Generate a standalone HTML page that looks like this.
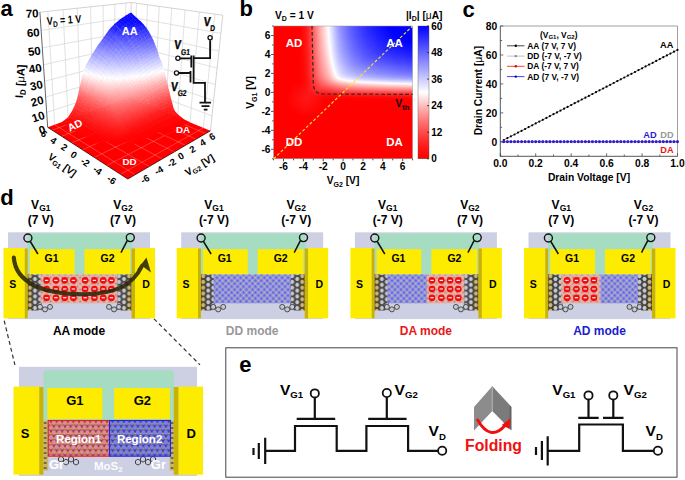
<!DOCTYPE html>
<html><head><meta charset="utf-8"><style>
html,body{margin:0;padding:0;background:#fff;width:685px;height:480px;overflow:hidden}
svg{display:block}
text{font-family:"Liberation Sans",sans-serif}
</style></head><body>
<svg width="685" height="480" viewBox="0 0 685 480" font-family="Liberation Sans, sans-serif">
<defs><pattern id="pk" width="4.2" height="4.2" patternUnits="userSpaceOnUse" patternTransform="rotate(45)"><rect width="4.2" height="4.2" fill="#e2b0b0"/><rect width="2.1" height="2.1" fill="#c98c8c"/><circle cx="3.15" cy="3.15" r="0.8" fill="#ecc462"/></pattern><pattern id="bl" width="4.2" height="4.2" patternUnits="userSpaceOnUse" patternTransform="rotate(45)"><rect width="4.2" height="4.2" fill="#9494e6"/><rect width="2.1" height="2.1" fill="#6666d8"/><circle cx="3.15" cy="3.15" r="0.85" fill="#bcc48c"/></pattern><pattern id="gr" width="10" height="5.8" patternUnits="userSpaceOnUse" patternTransform="translate(0 0.6)"><rect width="10" height="5.8" fill="#444"/><circle cx="2.5" cy="2.9" r="2.55" fill="#c8c8d0" stroke="#1a1a1a" stroke-width="0.7"/><circle cx="7.5" cy="0" r="2.55" fill="#c8c8d0" stroke="#1a1a1a" stroke-width="0.7"/><circle cx="7.5" cy="5.8" r="2.55" fill="#c8c8d0" stroke="#1a1a1a" stroke-width="0.7"/></pattern><pattern id="grb" width="10" height="5.8" patternUnits="userSpaceOnUse" patternTransform="translate(0 0.6)"><rect width="10" height="5.8" fill="#5a4a20"/><circle cx="2.5" cy="2.9" r="2.55" fill="#cdb676" stroke="#1a1a1a" stroke-width="0.7"/><circle cx="7.5" cy="0" r="2.55" fill="#cdb676" stroke="#1a1a1a" stroke-width="0.7"/><circle cx="7.5" cy="5.8" r="2.55" fill="#cdb676" stroke="#1a1a1a" stroke-width="0.7"/></pattern><pattern id="pk2" width="5.6" height="9.7" patternUnits="userSpaceOnUse" x="48.2" y="420.5"><rect width="5.6" height="9.7" fill="#8a3444"/><circle cx="0" cy="2.42" r="2.35" fill="#dc8c9c"/><circle cx="5.6" cy="2.42" r="2.35" fill="#dc8c9c"/><circle cx="2.8" cy="7.27" r="2.35" fill="#dc8c9c"/><circle cx="2.8" cy="3.6" r="0.9" fill="#f0b424"/><circle cx="0" cy="8.45" r="0.9" fill="#f0b424"/><circle cx="5.6" cy="8.45" r="0.9" fill="#f0b424"/></pattern><pattern id="bl2" width="5.6" height="9.7" patternUnits="userSpaceOnUse" x="48.2" y="420.5"><rect width="5.6" height="9.7" fill="#3434a4"/><circle cx="0" cy="2.42" r="2.35" fill="#8080e2"/><circle cx="5.6" cy="2.42" r="2.35" fill="#8080e2"/><circle cx="2.8" cy="7.27" r="2.35" fill="#8080e2"/><circle cx="2.8" cy="3.6" r="0.9" fill="#b4bc50"/><circle cx="0" cy="8.45" r="0.9" fill="#b4bc50"/><circle cx="5.6" cy="8.45" r="0.9" fill="#b4bc50"/></pattern></defs>
<text x="0.5" y="16.3" font-size="22" font-weight="bold" text-anchor="start" fill="#000">a</text>
<text x="239.5" y="16.2" font-size="22" font-weight="bold" text-anchor="start" fill="#000">b</text>
<text x="462.5" y="16.5" font-size="22" font-weight="bold" text-anchor="start" fill="#000">c</text>
<text x="0.3" y="204.7" font-size="22" font-weight="bold" text-anchor="start" fill="#000">d</text>
<text x="239.2" y="372.2" font-size="22" font-weight="bold" text-anchor="start" fill="#000">e</text>
<polygon points="47.7,127.3 129.4,97.5 131.2,2.5 39.9,12.2" fill="#ffffff"/>
<polygon points="129.4,97.5 210.4,130.8 222.8,15.2 131.2,2.5" fill="#ffffff"/>
<line x1="54.7" y1="124.8" x2="47.9" y2="11.3" stroke="#d4d4d4" stroke-width="0.7"/>
<line x1="68.1" y1="119.9" x2="63.1" y2="9.7" stroke="#d4d4d4" stroke-width="0.7"/>
<line x1="80.7" y1="115.3" x2="77.3" y2="8.2" stroke="#d4d4d4" stroke-width="0.7"/>
<line x1="92.6" y1="110.9" x2="90.6" y2="6.8" stroke="#d4d4d4" stroke-width="0.7"/>
<line x1="103.9" y1="106.9" x2="103.1" y2="5.5" stroke="#d4d4d4" stroke-width="0.7"/>
<line x1="114.5" y1="103" x2="114.8" y2="4.2" stroke="#d4d4d4" stroke-width="0.7"/>
<line x1="124.5" y1="99.3" x2="125.9" y2="3.1" stroke="#d4d4d4" stroke-width="0.7"/>
<line x1="46.7" y1="112.5" x2="129.6" y2="85" stroke="#d4d4d4" stroke-width="0.7"/>
<line x1="45.6" y1="97.1" x2="129.9" y2="72.2" stroke="#d4d4d4" stroke-width="0.7"/>
<line x1="44.6" y1="81.2" x2="130.1" y2="59" stroke="#d4d4d4" stroke-width="0.7"/>
<line x1="43.4" y1="64.8" x2="130.4" y2="45.4" stroke="#d4d4d4" stroke-width="0.7"/>
<line x1="42.3" y1="47.9" x2="130.6" y2="31.5" stroke="#d4d4d4" stroke-width="0.7"/>
<line x1="41.1" y1="30.4" x2="130.9" y2="17.2" stroke="#d4d4d4" stroke-width="0.7"/>
<line x1="203.4" y1="127.9" x2="214.7" y2="14.1" stroke="#d4d4d4" stroke-width="0.7"/>
<line x1="190" y1="122.4" x2="199.4" y2="12" stroke="#d4d4d4" stroke-width="0.7"/>
<line x1="177.5" y1="117.3" x2="185.1" y2="10" stroke="#d4d4d4" stroke-width="0.7"/>
<line x1="165.7" y1="112.4" x2="171.7" y2="8.1" stroke="#d4d4d4" stroke-width="0.7"/>
<line x1="154.6" y1="107.9" x2="159.2" y2="6.4" stroke="#d4d4d4" stroke-width="0.7"/>
<line x1="144.1" y1="103.6" x2="147.5" y2="4.8" stroke="#d4d4d4" stroke-width="0.7"/>
<line x1="134.1" y1="99.5" x2="136.5" y2="3.2" stroke="#d4d4d4" stroke-width="0.7"/>
<line x1="129.6" y1="85" x2="212" y2="115.9" stroke="#d4d4d4" stroke-width="0.7"/>
<line x1="129.9" y1="72.2" x2="213.6" y2="100.5" stroke="#d4d4d4" stroke-width="0.7"/>
<line x1="130.1" y1="59" x2="215.3" y2="84.5" stroke="#d4d4d4" stroke-width="0.7"/>
<line x1="130.4" y1="45.4" x2="217.1" y2="68.1" stroke="#d4d4d4" stroke-width="0.7"/>
<line x1="130.6" y1="31.5" x2="218.9" y2="51.1" stroke="#d4d4d4" stroke-width="0.7"/>
<line x1="130.9" y1="17.2" x2="220.8" y2="33.4" stroke="#d4d4d4" stroke-width="0.7"/>
<line x1="39.9" y1="12.2" x2="131.2" y2="2.5" stroke="#c8c8c8" stroke-width="0.8"/>
<line x1="131.2" y1="2.5" x2="222.8" y2="15.2" stroke="#c8c8c8" stroke-width="0.8"/>
<line x1="129.4" y1="97.5" x2="131.2" y2="2.5" stroke="#c8c8c8" stroke-width="0.8"/>
<line x1="39.9" y1="12.2" x2="47.7" y2="127.3" stroke="#555555" stroke-width="0.9"/>
<line x1="222.8" y1="15.2" x2="210.4" y2="130.8" stroke="#c8c8c8" stroke-width="0.8"/>
<polygon points="47.7,127.3 127.8,179 210.4,130.8 129.4,97.5" fill="#ff0000"/>
<path d="M135.2 174.7L54.7 124.8M120.5 174.3L203.4 127.9M149.3 166.5L68.1 119.9M106.9 165.5L190 122.4M162.3 158.9L80.7 115.3M94.2 157.4L177.5 117.3M174.3 151.8L92.6 110.9M82.6 149.8L165.7 112.4M185.5 145.3L103.9 106.9M71.7 142.8L154.6 107.9M196 139.2L114.5 103M61.6 136.3L144.1 103.6M205.7 133.5L124.5 99.3M52.2 130.2L134.1 99.5" stroke="#ffffff" stroke-opacity="0.33" stroke-width="0.7"/>
<g transform="scale(0.1)">
<path d="M1297 155L1326 140L1311 126L1282 141z" fill="#0909ff"/>
<path d="M1269 171L1301 152L1287 138L1254 158z" fill="#0a0aff"/>
<path d="M1338 190L1364 175L1322 137L1296 151z" fill="#0909ff"/>
<path d="M1309 206L1340 188L1298 149L1267 168z" fill="#0a0aff"/>
<path d="M1239 191L1273 168L1259 155L1225 178z" fill="#0a0aff"/>
<path d="M1375 225L1401 210L1361 172L1334 186z" fill="#0909ff"/>
<path d="M1215 208L1244 188L1229 174L1200 195z" fill="#0b0bff"/>
<path d="M1279 226L1312 204L1270 166L1238 188z" fill="#0b0bff"/>
<path d="M1347 241L1377 223L1336 184L1306 203z" fill="#0a0aff"/>
<path d="M1388 239L1417 224L1400 206L1371 222z" fill="#0909ff"/>
<path d="M1192 226L1219 205L1204 191L1177 212z" fill="#0b0bff"/>
<path d="M1255 243L1282 224L1240 185L1213 205z" fill="#0b0bff"/>
<path d="M1409 260L1437 245L1414 221L1386 236z" fill="#1111ff"/>
<path d="M1360 255L1392 236L1375 219L1343 239z" fill="#1010ff"/>
<path d="M1317 261L1349 239L1308 201L1276 222z" fill="#0d0dff"/>
<path d="M1159 254L1196 222L1182 209L1145 241z" fill="#0f0fff"/>
<path d="M1232 260L1257 241L1215 203L1190 222z" fill="#0e0eff"/>
<path d="M1437 293L1464 279L1434 241L1407 256z" fill="#1f1fff"/>
<path d="M1381 276L1412 257L1390 233L1358 252z" fill="#1818ff"/>
<path d="M1293 278L1319 259L1278 220L1252 239z" fill="#1515ff"/>
<path d="M1330 275L1364 252L1347 236L1313 258z" fill="#1818ff"/>
<path d="M1440 300L1470 285L1464 276L1434 291z" fill="#2929ff"/>
<path d="M1155 260L1164 252L1147 237L1138 246z" fill="#1717ff"/>
<path d="M1199 288L1235 258L1193 220L1158 251z" fill="#1919ff"/>
<path d="M1409 310L1440 291L1409 254L1378 272z" fill="#2525ff"/>
<path d="M1458 326L1486 312L1467 282L1439 297z" fill="#3131ff"/>
<path d="M1351 295L1384 273L1362 250L1328 272z" fill="#2020ff"/>
<path d="M1120 294L1157 256L1142 244L1105 281z" fill="#2121ff"/>
<path d="M1270 295L1295 276L1254 237L1229 257z" fill="#1d1dff"/>
<path d="M1306 292L1334 272L1317 255L1289 275z" fill="#2020ff"/>
<path d="M1412 316L1445 297L1439 288L1406 307z" fill="#2e2eff"/>
<path d="M1194 294L1202 287L1159 249L1151 256z" fill="#2121ff"/>
<path d="M1477 358L1505 344L1484 308L1456 322z" fill="#3f3fff"/>
<path d="M1430 342L1462 324L1443 295L1411 314z" fill="#3737ff"/>
<path d="M1379 329L1412 307L1381 270L1349 292z" fill="#2d2dff"/>
<path d="M1327 312L1355 293L1332 269L1304 289z" fill="#2828ff"/>
<path d="M1104 314L1124 290L1108 277L1088 301z" fill="#2e2eff"/>
<path d="M1159 328L1195 292L1154 255L1118 291z" fill="#2a2aff"/>
<path d="M1494 390L1521 376L1502 340L1475 354z" fill="#4e4eff"/>
<path d="M1237 323L1272 292L1231 255L1196 285z" fill="#2727ff"/>
<path d="M1283 309L1310 289L1293 272L1266 292z" fill="#2828ff"/>
<path d="M1095 327L1107 311L1091 297L1079 313z" fill="#3636ff"/>
<path d="M1449 374L1480 356L1459 320L1428 339z" fill="#4444ff"/>
<path d="M1493 391L1523 376L1521 373L1492 388z" fill="#5757ff"/>
<path d="M1383 335L1417 313L1411 304L1377 327z" fill="#3636ff"/>
<path d="M1508 422L1536 407L1521 374L1493 388z" fill="#5e5eff"/>
<path d="M1304 330L1330 310L1307 286L1281 306z" fill="#2f2fff"/>
<path d="M1355 346L1382 327L1352 289L1324 308z" fill="#3434ff"/>
<path d="M1231 328L1239 321L1197 283L1190 290z" fill="#2f2fff"/>
<path d="M1401 361L1434 340L1415 311L1382 333z" fill="#3e3eff"/>
<path d="M1143 348L1162 325L1120 288L1101 311z" fill="#3737ff"/>
<path d="M1071 359L1097 322L1082 310L1056 347z" fill="#4141ff"/>
<path d="M1466 406L1497 388L1478 352L1447 370z" fill="#5353ff"/>
<path d="M1250 336L1287 305L1270 289L1233 321z" fill="#3232ff"/>
<path d="M1521 453L1549 439L1534 403L1506 417z" fill="#6d6dff"/>
<path d="M1134 360L1145 346L1102 309L1092 323z" fill="#3f3fff"/>
<path d="M1465 407L1498 388L1497 386L1464 405z" fill="#5c5cff"/>
<path d="M1359 352L1388 332L1381 323L1352 344z" fill="#3d3dff"/>
<path d="M1420 393L1453 372L1432 337L1399 358z" fill="#4b4bff"/>
<path d="M1197 362L1233 326L1192 289L1156 325z" fill="#3838ff"/>
<path d="M1332 363L1358 344L1327 306L1301 326z" fill="#3c3cff"/>
<path d="M1534 484L1561 470L1547 435L1520 449z" fill="#7d7dff"/>
<path d="M1480 437L1512 420L1496 387L1465 405z" fill="#6363ff"/>
<path d="M1047 392L1074 355L1059 343L1033 380z" fill="#5050ff"/>
<path d="M1271 357L1307 326L1285 303L1248 334z" fill="#3939ff"/>
<path d="M1246 343L1254 335L1235 317L1227 325z" fill="#3939ff"/>
<path d="M1376 378L1404 359L1385 330L1357 349z" fill="#4545ff"/>
<path d="M1110 392L1136 357L1094 321L1069 356z" fill="#4a4aff"/>
<path d="M1544 515L1572 501L1559 466L1532 480z" fill="#8c8cff"/>
<path d="M1437 425L1470 404L1450 369L1417 389z" fill="#5a5aff"/>
<path d="M1048 394L1051 390L1033 376L1031 379z" fill="#5959ff"/>
<path d="M1494 469L1525 451L1510 416L1479 433z" fill="#7272ff"/>
<path d="M1336 370L1363 349L1357 340L1329 361z" fill="#4444ff"/>
<path d="M1546 523L1575 508L1571 498L1542 512z" fill="#9797ff"/>
<path d="M1181 381L1199 359L1158 322L1139 344z" fill="#4545ff"/>
<path d="M1266 363L1274 355L1250 331L1242 338z" fill="#4141ff"/>
<path d="M1396 410L1423 391L1402 355L1374 374z" fill="#5252ff"/>
<path d="M1436 426L1470 404L1469 402L1435 423z" fill="#6363ff"/>
<path d="M1210 375L1247 339L1231 323L1194 360z" fill="#4242ff"/>
<path d="M1554 545L1582 531L1573 506L1545 520z" fill="#9e9eff"/>
<path d="M1023 425L1049 390L1034 378L1008 413z" fill="#6060ff"/>
<path d="M1299 390L1335 360L1305 324L1269 354z" fill="#4545ff"/>
<path d="M1506 500L1537 482L1523 447L1492 465z" fill="#8181ff"/>
<path d="M1354 395L1380 376L1361 347L1335 366z" fill="#4c4cff"/>
<path d="M1087 424L1113 389L1071 353L1045 389z" fill="#5959ff"/>
<path d="M1451 456L1484 435L1469 403L1436 423z" fill="#6a6aff"/>
<path d="M1171 393L1182 380L1141 342L1130 356z" fill="#4d4dff"/>
<path d="M1564 576L1592 563L1580 527L1552 541z" fill="#acacff"/>
<path d="M1517 530L1548 513L1536 478L1504 496z" fill="#9191ff"/>
<path d="M1413 441L1440 423L1421 387L1393 406z" fill="#6161ff"/>
<path d="M1231 395L1268 359L1245 337L1209 373z" fill="#4949ff"/>
<path d="M1086 426L1088 423L1046 387L1044 390z" fill="#6161ff"/>
<path d="M1464 487L1497 467L1482 432L1449 452z" fill="#7878ff"/>
<path d="M1303 396L1340 366L1334 357L1297 388z" fill="#4e4eff"/>
<path d="M1576 608L1604 594L1590 559L1563 572z" fill="#bdbdff"/>
<path d="M1373 426L1399 408L1377 372L1351 391z" fill="#5959ff"/>
<path d="M1294 395L1302 389L1270 351L1263 358z" fill="#4c4cff"/>
<path d="M1518 538L1551 520L1547 510L1515 528z" fill="#9b9bff"/>
<path d="M1194 395L1214 372L1197 356L1177 379z" fill="#4e4eff"/>
<path d="M999 458L1026 420L1012 409L985 446z" fill="#7070ff"/>
<path d="M1147 425L1173 391L1132 354L1107 389z" fill="#5757ff"/>
<path d="M1412 442L1441 422L1440 420L1410 440z" fill="#6969ff"/>
<path d="M1526 560L1558 543L1549 518L1518 536z" fill="#a2a2ff"/>
<path d="M1062 457L1087 424L1046 388L1021 422z" fill="#6969ff"/>
<path d="M1321 421L1357 392L1338 364L1302 394z" fill="#5555ff"/>
<path d="M1477 518L1510 498L1496 463L1463 483z" fill="#8787ff"/>
<path d="M1427 472L1455 454L1439 421L1411 439z" fill="#7070ff"/>
<path d="M1590 639L1617 626L1602 590L1575 603z" fill="#cdcdff"/>
<path d="M1186 407L1197 392L1179 376L1167 391z" fill="#5656ff"/>
<path d="M1537 591L1568 575L1556 540L1525 556z" fill="#b0b0ff"/>
<path d="M1298 403L1308 394L1300 384L1290 392z" fill="#5555ff"/>
<path d="M988 476L1003 454L987 442L972 463z" fill="#7c7cff"/>
<path d="M1390 458L1416 439L1396 404L1370 422z" fill="#6767ff"/>
<path d="M1215 415L1235 392L1211 369L1191 392z" fill="#5555ff"/>
<path d="M1259 428L1296 393L1265 357L1229 392z" fill="#5454ff"/>
<path d="M1488 548L1520 528L1508 494L1475 514z" fill="#9696ff"/>
<path d="M1124 457L1150 422L1109 386L1083 421z" fill="#6565ff"/>
<path d="M1599 666L1627 652L1616 622L1588 635z" fill="#dcdcff"/>
<path d="M1440 503L1468 485L1453 450L1425 468z" fill="#7e7eff"/>
<path d="M1549 622L1580 606L1566 571L1535 587z" fill="#c1c1ff"/>
<path d="M1340 452L1376 424L1355 389L1319 418z" fill="#6262ff"/>
<path d="M1389 459L1417 439L1415 436L1388 456z" fill="#7070ff"/>
<path d="M978 491L991 472L975 460L962 479z" fill="#8383ff"/>
<path d="M1038 489L1065 454L1023 419L997 455z" fill="#7777ff"/>
<path d="M1316 427L1324 420L1304 391L1296 398z" fill="#5c5cff"/>
<path d="M1161 438L1188 403L1170 388L1144 423z" fill="#6060ff"/>
<path d="M1599 669L1628 654L1626 649L1597 664z" fill="#e4e4ff"/>
<path d="M1489 556L1523 535L1520 525L1486 546z" fill="#a1a1ff"/>
<path d="M1206 427L1218 413L1194 389L1182 404z" fill="#5d5dff"/>
<path d="M1405 488L1431 470L1415 437L1389 456z" fill="#7676ff"/>
<path d="M1123 458L1125 456L1084 419L1082 422z" fill="#6e6eff"/>
<path d="M1497 578L1530 558L1522 534L1488 553z" fill="#a8a8ff"/>
<path d="M1609 700L1637 687L1626 652L1599 666z" fill="#ececff"/>
<path d="M1263 434L1301 398L1295 390L1257 426z" fill="#5d5dff"/>
<path d="M1453 533L1481 516L1466 481L1438 498z" fill="#8d8dff"/>
<path d="M1563 654L1594 638L1578 602L1547 618z" fill="#d1d1ff"/>
<path d="M955 524L980 487L965 475L941 513z" fill="#8f8fff"/>
<path d="M1243 447L1262 425L1231 389L1212 411z" fill="#6060ff"/>
<path d="M1508 608L1541 589L1529 555L1496 574z" fill="#b5b5ff"/>
<path d="M1618 731L1645 718L1635 683L1608 696z" fill="#fdfdff"/>
<path d="M1027 507L1041 487L999 452L985 472z" fill="#8484ff"/>
<path d="M1357 483L1393 455L1374 420L1338 449z" fill="#7070ff"/>
<path d="M1335 458L1343 452L1321 416L1313 422z" fill="#6969ff"/>
<path d="M1099 489L1124 456L1084 421L1059 454z" fill="#7474ff"/>
<path d="M1182 458L1208 423L1185 401L1159 436z" fill="#6767ff"/>
<path d="M1281 459L1318 424L1299 397L1262 432z" fill="#6565ff"/>
<path d="M1418 518L1444 501L1428 466L1402 484z" fill="#8484ff"/>
<path d="M1464 563L1491 546L1479 512L1451 529z" fill="#9c9cff"/>
<path d="M1137 470L1164 434L1147 419L1120 455z" fill="#6f6fff"/>
<path d="M1572 680L1603 664L1592 634L1561 650z" fill="#dfdfff"/>
<path d="M1625 760L1652 747L1643 713L1616 726z" fill="#ffebeb"/>
<path d="M1357 484L1394 455L1393 453L1355 482z" fill="#7878ff"/>
<path d="M1016 522L1028 505L986 470L974 487z" fill="#8b8bff"/>
<path d="M1234 458L1245 445L1214 409L1203 423z" fill="#6868ff"/>
<path d="M1520 639L1553 621L1539 586L1506 605z" fill="#c6c6ff"/>
<path d="M1572 683L1604 666L1603 661L1570 679z" fill="#e7e7ff"/>
<path d="M1465 571L1494 553L1491 543L1462 561z" fill="#a6a6ff"/>
<path d="M1247 454L1268 430L1261 422L1240 445z" fill="#6969ff"/>
<path d="M1632 790L1659 777L1651 743L1624 756z" fill="#ffd5d5"/>
<path d="M1431 549L1456 532L1442 497L1416 514z" fill="#9393ff"/>
<path d="M1372 513L1408 485L1392 454L1356 482z" fill="#7f7fff"/>
<path d="M935 557L958 519L944 508L920 546z" fill="#9f9fff"/>
<path d="M1138 472L1141 469L1121 452L1119 455z" fill="#7676ff"/>
<path d="M1473 593L1501 576L1493 551L1464 568z" fill="#adadff"/>
<path d="M1582 714L1613 698L1603 664L1572 681z" fill="#f0f0ff"/>
<path d="M1352 489L1360 482L1340 447L1332 453z" fill="#7777ff"/>
<path d="M1300 489L1337 455L1316 422L1279 456z" fill="#7171ff"/>
<path d="M1075 521L1102 486L1061 451L1035 487z" fill="#8484ff"/>
<path d="M1158 489L1185 454L1162 433L1135 468z" fill="#7575ff"/>
<path d="M1534 671L1566 652L1551 617L1518 636z" fill="#d6d6ff"/>
<path d="M1640 820L1667 807L1658 773L1631 786z" fill="#ffc0c0"/>
<path d="M994 554L1018 519L977 485L953 521z" fill="#9797ff"/>
<path d="M1210 489L1236 456L1205 421L1179 455z" fill="#7171ff"/>
<path d="M1265 478L1285 456L1265 429L1245 451z" fill="#6f6fff"/>
<path d="M1484 623L1512 607L1499 572L1472 589z" fill="#bbbbff"/>
<path d="M1591 745L1621 729L1612 694L1581 710z" fill="#fffdfd"/>
<path d="M1238 466L1251 450L1243 441L1230 457z" fill="#7070ff"/>
<path d="M1113 502L1139 468L1122 453L1096 487z" fill="#7d7dff"/>
<path d="M1441 579L1467 562L1454 527L1428 545z" fill="#a2a2ff"/>
<path d="M1350 490L1362 481L1360 478L1348 487z" fill="#7f7fff"/>
<path d="M929 568L938 553L922 541L913 556z" fill="#a9a9ff"/>
<path d="M1385 543L1422 516L1406 482L1370 510z" fill="#8d8dff"/>
<path d="M1647 850L1674 837L1665 803L1638 816z" fill="#ffacac"/>
<path d="M1598 774L1629 758L1620 725L1589 741z" fill="#ffe7e7"/>
<path d="M1158 491L1161 488L1136 465L1134 468z" fill="#7c7cff"/>
<path d="M1443 587L1470 568L1466 558L1439 577z" fill="#acacff"/>
<path d="M1543 697L1576 678L1565 648L1532 667z" fill="#e4e4ff"/>
<path d="M1367 519L1375 513L1358 479L1350 486z" fill="#8585ff"/>
<path d="M1648 856L1676 842L1674 834L1645 848z" fill="#ffa0a0"/>
<path d="M1497 654L1524 638L1510 603L1482 619z" fill="#cbcbff"/>
<path d="M1317 519L1354 486L1335 452L1298 486z" fill="#7f7fff"/>
<path d="M915 590L931 564L916 553L900 579z" fill="#b1b1ff"/>
<path d="M1256 489L1267 476L1247 448L1236 461z" fill="#7676ff"/>
<path d="M1064 538L1078 519L1036 484L1022 503z" fill="#8f8fff"/>
<path d="M1451 608L1477 591L1469 566L1442 584z" fill="#b2b2ff"/>
<path d="M1543 700L1577 681L1575 676L1542 695z" fill="#ebebff"/>
<path d="M1655 880L1682 867L1675 840L1647 853z" fill="#ff9696"/>
<path d="M1214 496L1241 461L1234 453L1207 488z" fill="#7979ff"/>
<path d="M1606 804L1636 788L1627 754L1597 770z" fill="#ffd2d2"/>
<path d="M1398 573L1434 546L1420 513L1383 540z" fill="#9b9bff"/>
<path d="M974 587L996 551L955 518L932 554z" fill="#a6a6ff"/>
<path d="M1284 508L1303 487L1282 453L1262 474z" fill="#7c7cff"/>
<path d="M1134 521L1159 488L1136 466L1111 500z" fill="#8484ff"/>
<path d="M1554 731L1586 713L1576 679L1543 697z" fill="#f4f4ff"/>
<path d="M1317 520L1355 486L1353 484L1316 518z" fill="#8585ff"/>
<path d="M1186 520L1213 486L1182 452L1155 486z" fill="#7f7fff"/>
<path d="M1662 910L1689 897L1680 863L1653 876z" fill="#ff8585"/>
<path d="M1380 549L1388 543L1372 507L1364 514z" fill="#9393ff"/>
<path d="M1462 638L1488 622L1475 587L1449 604z" fill="#c0c0ff"/>
<path d="M1053 553L1065 537L1024 502L1012 518z" fill="#9797ff"/>
<path d="M1089 534L1116 498L1099 483L1072 519z" fill="#8b8bff"/>
<path d="M1511 685L1538 669L1522 634L1495 650z" fill="#d9d9ff"/>
<path d="M1613 834L1644 819L1635 784L1604 800z" fill="#ffbebe"/>
<path d="M895 623L917 585L903 574L881 612z" fill="#bebeff"/>
<path d="M1232 519L1258 486L1239 460L1212 493z" fill="#8080ff"/>
<path d="M1332 548L1369 516L1353 485L1316 518z" fill="#8d8dff"/>
<path d="M1409 603L1445 576L1432 543L1396 570z" fill="#a9a9ff"/>
<path d="M1562 761L1595 743L1585 709L1552 727z" fill="#fff7f7"/>
<path d="M967 598L976 585L934 551L925 564z" fill="#b0b0ff"/>
<path d="M1275 519L1286 506L1264 472L1253 485z" fill="#8383ff"/>
<path d="M1670 940L1696 927L1688 893L1661 905z" fill="#ff7373"/>
<path d="M1621 863L1651 848L1642 815L1612 830z" fill="#ffaaaa"/>
<path d="M1186 521L1188 519L1156 484L1154 486z" fill="#8686ff"/>
<path d="M1474 669L1500 652L1486 618L1460 634z" fill="#cfcfff"/>
<path d="M1301 537L1321 517L1301 483L1281 504z" fill="#8989ff"/>
<path d="M1411 610L1448 583L1444 574L1407 601z" fill="#b3b3ff"/>
<path d="M1393 579L1401 573L1386 537L1378 544z" fill="#a1a1ff"/>
<path d="M1520 711L1547 695L1536 665L1508 681z" fill="#e8e8ff"/>
<path d="M1031 585L1055 550L1014 516L990 552z" fill="#a1a1ff"/>
<path d="M1570 790L1602 772L1593 740L1561 757z" fill="#ffe2e2"/>
<path d="M1621 869L1653 853L1651 845L1619 861z" fill="#ff9e9e"/>
<path d="M1190 526L1217 491L1211 483L1184 519z" fill="#8787ff"/>
<path d="M1677 969L1703 956L1695 923L1668 935z" fill="#ff6161"/>
<path d="M954 619L968 596L927 563L912 587z" fill="#b8b8ff"/>
<path d="M1077 551L1093 531L1074 515L1059 536z" fill="#9797ff"/>
<path d="M1419 631L1455 605L1446 582L1410 608z" fill="#b9b9ff"/>
<path d="M1109 552L1137 517L1114 496L1087 532z" fill="#9191ff"/>
<path d="M1520 714L1549 697L1547 692L1518 710z" fill="#efefff"/>
<path d="M1346 578L1383 546L1367 513L1330 546z" fill="#9a9aff"/>
<path d="M1628 893L1659 878L1652 851L1621 867z" fill="#ff9494"/>
<path d="M879 655L898 618L884 607L864 644z" fill="#cdcdff"/>
<path d="M1162 551L1187 519L1156 485L1131 518z" fill="#8e8eff"/>
<path d="M1300 539L1321 516L1320 514L1299 536z" fill="#9090ff"/>
<path d="M1251 548L1277 516L1255 483L1229 516z" fill="#8b8bff"/>
<path d="M1577 819L1610 802L1601 769L1568 786z" fill="#ffcece"/>
<path d="M1684 999L1711 987L1702 952L1675 964z" fill="#ff5050"/>
<path d="M1530 745L1558 729L1547 695L1519 711z" fill="#f8f8ff"/>
<path d="M1488 700L1514 684L1498 648L1472 665z" fill="#dedeff"/>
<path d="M1292 548L1304 536L1283 502L1272 514z" fill="#9090ff"/>
<path d="M1404 608L1412 602L1399 567L1390 573z" fill="#afafff"/>
<path d="M1208 549L1235 515L1216 490L1188 524z" fill="#8d8dff"/>
<path d="M1636 923L1666 908L1657 874L1627 889z" fill="#ff8383"/>
<path d="M1191 528L1194 525L1185 514L1182 517z" fill="#8e8eff"/>
<path d="M1430 661L1466 636L1453 602L1417 628z" fill="#c7c7ff"/>
<path d="M1067 566L1080 548L1062 533L1049 551z" fill="#9e9eff"/>
<path d="M1316 566L1336 546L1319 515L1299 535z" fill="#9797ff"/>
<path d="M934 652L955 617L914 584L893 620z" fill="#c4c4ff"/>
<path d="M1585 849L1617 832L1608 798L1576 816z" fill="#ffbaba"/>
<path d="M1692 1028L1719 1016L1709 982L1683 995z" fill="#ff4141"/>
<path d="M1405 616L1416 609L1411 597L1400 604z" fill="#b8b8ff"/>
<path d="M1358 607L1395 576L1381 543L1344 575z" fill="#a8a8ff"/>
<path d="M868 677L882 650L866 639L853 666z" fill="#dbdbff"/>
<path d="M1539 775L1566 760L1556 725L1529 741z" fill="#fff2f2"/>
<path d="M1010 617L1033 582L993 549L970 584z" fill="#b0b0ff"/>
<path d="M1291 550L1304 534L1303 532L1289 547z" fill="#9696ff"/>
<path d="M1643 953L1673 938L1665 904L1634 919z" fill="#ff7171"/>
<path d="M1098 569L1113 550L1089 528L1074 548z" fill="#9c9cff"/>
<path d="M1498 726L1524 710L1512 680L1486 696z" fill="#ededff"/>
<path d="M1413 637L1422 631L1413 605L1404 611z" fill="#bfbfff"/>
<path d="M1208 551L1210 548L1190 521L1188 523z" fill="#9494ff"/>
<path d="M1166 557L1192 524L1186 516L1159 550z" fill="#9595ff"/>
<path d="M1442 691L1478 666L1464 633L1428 658z" fill="#d6d6ff"/>
<path d="M865 687L871 674L855 662L848 675z" fill="#e3e3ff"/>
<path d="M1592 879L1625 862L1616 828L1583 845z" fill="#ffa6a6"/>
<path d="M1698 1052L1725 1040L1717 1012L1690 1024z" fill="#ff3333"/>
<path d="M1268 577L1295 545L1274 513L1248 545z" fill="#9898ff"/>
<path d="M1307 577L1319 565L1302 533L1290 546z" fill="#9d9dff"/>
<path d="M1045 598L1069 562L1052 547L1027 584z" fill="#a9a9ff"/>
<path d="M1546 804L1574 788L1564 755L1537 771z" fill="#ffdddd"/>
<path d="M1498 729L1525 711L1523 707L1496 724z" fill="#f3f3ff"/>
<path d="M1650 982L1681 967L1672 934L1642 949z" fill="#ff6060"/>
<path d="M1138 582L1164 548L1134 515L1107 550z" fill="#9b9bff"/>
<path d="M1329 595L1349 576L1333 543L1313 562z" fill="#a4a4ff"/>
<path d="M1698 1058L1726 1044L1724 1037L1696 1050z" fill="#ff2b2b"/>
<path d="M1227 577L1254 545L1232 513L1205 546z" fill="#9898ff"/>
<path d="M1369 636L1406 605L1393 573L1356 604z" fill="#b5b5ff"/>
<path d="M1593 884L1626 867L1624 859L1591 877z" fill="#ff9a9a"/>
<path d="M1087 584L1100 567L1076 545L1064 563z" fill="#a3a3ff"/>
<path d="M1424 666L1432 661L1420 626L1412 631z" fill="#ccccff"/>
<path d="M1004 628L1012 615L971 581L963 594z" fill="#babaff"/>
<path d="M917 683L936 649L895 617L876 652z" fill="#d4d4ff"/>
<path d="M851 719L866 682L851 672L836 709z" fill="#eeeeff"/>
<path d="M1508 759L1534 743L1523 710L1497 725z" fill="#fcfcff"/>
<path d="M1600 908L1632 891L1625 865L1593 882z" fill="#ff9191"/>
<path d="M1707 1088L1733 1076L1725 1042L1698 1054z" fill="#ff2323"/>
<path d="M1183 579L1209 548L1190 523L1164 555z" fill="#9b9bff"/>
<path d="M1268 578L1295 545L1293 543L1266 576z" fill="#9f9fff"/>
<path d="M1554 833L1581 818L1572 784L1545 799z" fill="#ffcaca"/>
<path d="M1658 1012L1688 998L1679 963L1649 978z" fill="#ff4f4f"/>
<path d="M1371 643L1409 612L1405 603L1368 634z" fill="#bfbfff"/>
<path d="M1456 722L1492 697L1476 663L1440 688z" fill="#e4e4ff"/>
<path d="M1320 606L1332 594L1316 560L1304 572z" fill="#aaaaff"/>
<path d="M990 649L1005 626L964 593L949 616z" fill="#c1c1ff"/>
<path d="M1608 938L1640 921L1631 888L1599 904z" fill="#ff8181"/>
<path d="M1227 579L1229 577L1207 543L1204 546z" fill="#9f9fff"/>
<path d="M1342 624L1362 605L1347 572L1327 591z" fill="#b1b1ff"/>
<path d="M1379 664L1416 633L1408 611L1370 641z" fill="#c5c5ff"/>
<path d="M1517 789L1542 774L1532 739L1506 754z" fill="#ffeded"/>
<path d="M1283 605L1310 574L1293 544L1266 576z" fill="#a5a5ff"/>
<path d="M841 749L853 714L838 704L827 739z" fill="#fdfdff"/>
<path d="M1437 696L1445 691L1430 655L1422 661z" fill="#dbdbff"/>
<path d="M1562 862L1589 848L1580 814L1552 829z" fill="#ffb6b6"/>
<path d="M1666 1041L1696 1027L1687 993L1657 1008z" fill="#ff4040"/>
<path d="M1126 598L1140 580L1109 547L1094 566z" fill="#a5a5ff"/>
<path d="M906 705L919 681L878 649L865 674z" fill="#e0e0ff"/>
<path d="M1141 588L1169 552L1163 545L1135 581z" fill="#a2a2ff"/>
<path d="M1721 1120L1747 1108L1731 1071L1706 1083z" fill="#ff1c1c"/>
<path d="M1065 616L1089 580L1067 560L1042 596z" fill="#aeaeff"/>
<path d="M1024 629L1048 593L1031 579L1007 616z" fill="#b7b7ff"/>
<path d="M1244 605L1271 574L1251 542L1224 574z" fill="#a4a4ff"/>
<path d="M1466 747L1502 723L1490 694L1454 719z" fill="#f1f1ff"/>
<path d="M1615 967L1647 951L1638 917L1606 934z" fill="#ff6f6f"/>
<path d="M1390 693L1427 664L1414 631L1378 661z" fill="#d2d2ff"/>
<path d="M1525 817L1550 802L1541 769L1515 784z" fill="#ffd9d9"/>
<path d="M834 779L843 743L829 734L819 770z" fill="#ffebeb"/>
<path d="M903 715L908 704L866 672L861 683z" fill="#e8e8ff"/>
<path d="M1569 892L1596 877L1587 844L1560 858z" fill="#ffa3a3"/>
<path d="M1672 1065L1702 1051L1695 1023L1664 1037z" fill="#ff3232"/>
<path d="M1202 607L1228 576L1207 545L1181 576z" fill="#a5a5ff"/>
<path d="M1353 652L1373 634L1360 601L1340 620z" fill="#bebeff"/>
<path d="M1333 634L1345 623L1329 589L1318 601z" fill="#b7b7ff"/>
<path d="M1466 750L1503 725L1501 721L1464 746z" fill="#f9f9ff"/>
<path d="M1115 613L1128 597L1096 564L1084 580z" fill="#adadff"/>
<path d="M970 681L992 646L951 614L930 649z" fill="#ceceff"/>
<path d="M1159 610L1187 576L1167 551L1140 586z" fill="#a8a8ff"/>
<path d="M1296 633L1323 603L1307 571L1280 602z" fill="#b1b1ff"/>
<path d="M1673 1070L1704 1055L1702 1048L1670 1063z" fill="#ff2b2b"/>
<path d="M1451 727L1459 721L1443 685L1435 691z" fill="#e9e9ff"/>
<path d="M1244 607L1271 573L1270 571L1243 605z" fill="#ababff"/>
<path d="M1570 897L1598 882L1596 874L1568 889z" fill="#ff9797"/>
<path d="M1623 996L1654 980L1646 947L1614 963z" fill="#ff5e5e"/>
<path d="M827 808L835 774L820 765L812 799z" fill="#ffd5d5"/>
<path d="M1018 641L1027 627L1008 611L999 625z" fill="#c1c1ff"/>
<path d="M1532 846L1558 832L1548 798L1523 813z" fill="#ffc6c6"/>
<path d="M1244 607L1246 605L1226 572L1224 574z" fill="#ababff"/>
<path d="M889 746L904 712L863 681L848 716z" fill="#f3f3ff"/>
<path d="M1476 780L1512 756L1501 724L1465 748z" fill="#fffafa"/>
<path d="M1355 660L1376 640L1372 630L1351 650z" fill="#c7c7ff"/>
<path d="M1577 921L1604 907L1597 880L1569 894z" fill="#ff8e8e"/>
<path d="M1681 1100L1711 1086L1702 1053L1672 1067z" fill="#ff2323"/>
<path d="M1129 605L1145 584L1138 576L1122 597z" fill="#adadff"/>
<path d="M1403 722L1440 694L1425 661L1388 690z" fill="#e0e0ff"/>
<path d="M1259 633L1286 602L1270 573L1243 605z" fill="#b2b2ff"/>
<path d="M1044 647L1068 612L1045 592L1021 627z" fill="#bdbdff"/>
<path d="M820 839L828 803L814 794L806 830z" fill="#ffc0c0"/>
<path d="M1631 1026L1662 1010L1653 976L1621 992z" fill="#ff4e4e"/>
<path d="M1363 680L1384 661L1374 638L1354 657z" fill="#ceceff"/>
<path d="M1344 662L1356 651L1342 618L1331 629z" fill="#c4c4ff"/>
<path d="M1540 875L1565 861L1556 827L1531 842z" fill="#ffb2b2"/>
<path d="M1755 1158L1780 1146L1744 1104L1719 1116z" fill="#ff1111"/>
<path d="M1004 662L1020 637L1002 623L986 647z" fill="#c8c8ff"/>
<path d="M1585 950L1612 936L1603 903L1576 917z" fill="#ff7e7e"/>
<path d="M1461 752L1469 747L1457 716L1449 721z" fill="#f6f6ff"/>
<path d="M1243 609L1249 604L1245 600L1240 605z" fill="#b2b2ff"/>
<path d="M1309 660L1336 631L1321 600L1294 629z" fill="#bfbfff"/>
<path d="M1485 809L1521 786L1510 753L1475 776z" fill="#ffe7e7"/>
<path d="M1093 644L1117 610L1086 578L1062 613z" fill="#b6b6ff"/>
<path d="M879 776L891 743L850 713L838 746z" fill="#fffafa"/>
<path d="M1220 634L1246 605L1226 573L1200 604z" fill="#b2b2ff"/>
<path d="M814 868L822 834L807 825L799 859z" fill="#ffabab"/>
<path d="M953 712L972 678L932 646L913 681z" fill="#ddddff"/>
<path d="M1119 619L1133 601L1126 593L1112 611z" fill="#b3b3ff"/>
<path d="M1695 1133L1725 1119L1709 1082L1680 1096z" fill="#ff1b1b"/>
<path d="M1147 626L1162 607L1142 582L1127 602z" fill="#b2b2ff"/>
<path d="M1346 670L1360 657L1355 646L1341 660z" fill="#ccccff"/>
<path d="M1178 637L1206 604L1184 573L1156 607z" fill="#b2b2ff"/>
<path d="M1460 756L1471 748L1468 742L1457 750z" fill="#fdfdff"/>
<path d="M1638 1055L1670 1040L1661 1006L1629 1022z" fill="#ff3f3f"/>
<path d="M1374 708L1394 691L1381 658L1361 676z" fill="#dadaff"/>
<path d="M1548 904L1573 890L1564 857L1538 871z" fill="#ff9f9f"/>
<path d="M812 882L816 864L800 854L796 872z" fill="#ff9d9d"/>
<path d="M1417 752L1454 724L1438 690L1401 719z" fill="#eeeeff"/>
<path d="M1259 635L1261 632L1244 602L1242 604z" fill="#b8b8ff"/>
<path d="M1593 980L1619 966L1610 932L1583 946z" fill="#ff6c6c"/>
<path d="M1038 658L1047 645L1023 624L1014 637z" fill="#c6c6ff"/>
<path d="M1273 660L1300 630L1284 599L1257 630z" fill="#bebeff"/>
<path d="M1493 837L1528 815L1519 783L1483 806z" fill="#ffd3d3"/>
<path d="M1354 690L1366 679L1357 654L1344 666z" fill="#d3d3ff"/>
<path d="M871 806L881 773L840 743L830 777z" fill="#ffe5e5"/>
<path d="M809 897L813 878L797 868L793 887z" fill="#ff9393"/>
<path d="M1471 785L1479 780L1468 745L1460 751z" fill="#fff5f5"/>
<path d="M1219 636L1246 604L1245 602L1218 634z" fill="#b8b8ff"/>
<path d="M1548 910L1575 895L1573 887L1546 902z" fill="#ff9595"/>
<path d="M1320 688L1347 659L1334 628L1307 657z" fill="#ccccff"/>
<path d="M1645 1079L1676 1063L1669 1036L1637 1051z" fill="#ff3232"/>
<path d="M984 693L1006 657L989 643L967 680z" fill="#d4d4ff"/>
<path d="M801 927L809 892L795 883L787 918z" fill="#ff8585"/>
<path d="M1137 640L1150 624L1130 599L1117 616z" fill="#b9b9ff"/>
<path d="M1556 933L1581 919L1573 893L1548 907z" fill="#ff8c8c"/>
<path d="M1756 1161L1784 1147L1779 1143L1752 1156z" fill="#ff0b0b"/>
<path d="M943 734L955 710L915 678L902 702z" fill="#e9e9ff"/>
<path d="M1600 1008L1627 995L1618 962L1591 975z" fill="#ff5d5d"/>
<path d="M864 834L873 803L832 774L823 805z" fill="#ffd0d0"/>
<path d="M1645 1084L1678 1068L1676 1061L1643 1077z" fill="#ff2a2a"/>
<path d="M1501 866L1536 844L1527 811L1491 834z" fill="#ffc0c0"/>
<path d="M1024 679L1040 655L1016 635L1001 659z" fill="#cdcdff"/>
<path d="M1387 737L1407 720L1392 687L1372 704z" fill="#e7e7ff"/>
<path d="M1097 650L1122 614L1116 607L1090 643z" fill="#bdbdff"/>
<path d="M1365 718L1377 708L1364 674L1352 685z" fill="#dfdfff"/>
<path d="M1235 661L1261 632L1244 603L1218 633z" fill="#bebeff"/>
<path d="M1427 777L1463 749L1452 721L1415 749z" fill="#fbfbff"/>
<path d="M1322 695L1350 665L1346 657L1319 686z" fill="#d4d4ff"/>
<path d="M1480 814L1488 809L1477 774L1469 779z" fill="#ffe2e2"/>
<path d="M1072 675L1096 641L1065 610L1041 644z" fill="#c4c4ff"/>
<path d="M795 956L803 921L788 913L780 948z" fill="#ff7373"/>
<path d="M1273 662L1275 660L1258 627L1256 629z" fill="#c3c3ff"/>
<path d="M1166 653L1181 635L1159 604L1144 622z" fill="#bcbcff"/>
<path d="M1654 1114L1685 1099L1676 1066L1645 1081z" fill="#ff2323"/>
<path d="M1286 687L1313 658L1298 627L1270 657z" fill="#cacaff"/>
<path d="M939 743L944 732L903 700L898 711z" fill="#f1f1ff"/>
<path d="M1563 962L1589 949L1579 915L1554 929z" fill="#ff7c7c"/>
<path d="M857 864L866 831L825 803L817 836z" fill="#ffbcbc"/>
<path d="M1196 664L1223 631L1203 601L1175 634z" fill="#bebeff"/>
<path d="M1608 1038L1634 1025L1625 990L1598 1004z" fill="#ff4d4d"/>
<path d="M1427 780L1464 751L1462 747L1425 776z" fill="#fffafa"/>
<path d="M1330 714L1357 686L1348 664L1321 693z" fill="#dadaff"/>
<path d="M1508 895L1544 873L1535 841L1499 862z" fill="#ffadad"/>
<path d="M1729 1171L1757 1157L1721 1114L1693 1129z" fill="#ff1111"/>
<path d="M787 986L796 951L782 943L773 978z" fill="#ff6262"/>
<path d="M1488 842L1496 837L1486 803L1478 808z" fill="#ffcfcf"/>
<path d="M1114 671L1139 637L1120 613L1095 648z" fill="#c3c3ff"/>
<path d="M851 893L859 861L818 833L811 865z" fill="#ffa7a7"/>
<path d="M1437 809L1474 782L1463 750L1426 777z" fill="#ffefef"/>
<path d="M1378 746L1390 736L1374 703L1363 713z" fill="#ececff"/>
<path d="M967 724L987 689L969 675L950 711z" fill="#e2e2ff"/>
<path d="M925 774L940 740L899 709L885 744z" fill="#fafaff"/>
<path d="M1401 767L1421 750L1404 716L1385 733z" fill="#f5f5ff"/>
<path d="M1571 991L1596 978L1587 944L1562 958z" fill="#ff6b6b"/>
<path d="M1004 710L1026 675L1003 656L981 691z" fill="#d9d9ff"/>
<path d="M1156 667L1169 651L1146 620L1134 636z" fill="#c3c3ff"/>
<path d="M1248 688L1275 659L1258 629L1232 658z" fill="#c9c9ff"/>
<path d="M1616 1067L1642 1054L1633 1020L1606 1034z" fill="#ff3e3e"/>
<path d="M1195 665L1223 631L1222 629L1194 663z" fill="#c4c4ff"/>
<path d="M1066 685L1074 673L1043 641L1034 654z" fill="#ceceff"/>
<path d="M1668 1146L1699 1131L1683 1095L1652 1110z" fill="#ff1b1b"/>
<path d="M1516 923L1552 902L1542 870L1507 891z" fill="#ff9c9c"/>
<path d="M848 906L853 891L812 863L808 879z" fill="#ff9898"/>
<path d="M1342 742L1368 715L1355 684L1328 711z" fill="#e5e5ff"/>
<path d="M1286 689L1288 687L1272 654L1270 656z" fill="#d0d0ff"/>
<path d="M1297 714L1324 685L1311 655L1283 684z" fill="#d6d6ff"/>
<path d="M779 1016L789 981L775 973L765 1007z" fill="#ff5252"/>
<path d="M1496 870L1503 866L1494 831L1486 836z" fill="#ffbcbc"/>
<path d="M845 921L849 905L809 877L804 893z" fill="#ff9090"/>
<path d="M1076 680L1100 645L1094 638L1069 674z" fill="#cbcbff"/>
<path d="M1517 929L1553 907L1551 899L1515 921z" fill="#ff9191"/>
<path d="M1446 837L1483 811L1472 779L1436 805z" fill="#ffdcdc"/>
<path d="M1579 1020L1604 1007L1595 974L1570 987z" fill="#ff5b5b"/>
<path d="M1622 1090L1649 1077L1641 1049L1614 1063z" fill="#ff3131"/>
<path d="M1184 679L1199 662L1178 631L1163 649z" fill="#c7c7ff"/>
<path d="M1210 690L1238 658L1222 630L1194 663z" fill="#c9c9ff"/>
<path d="M915 803L927 771L886 741L875 773z" fill="#fff0f0"/>
<path d="M838 950L846 918L806 891L798 924z" fill="#ff8282"/>
<path d="M1299 721L1326 691L1323 682L1295 712z" fill="#dfdfff"/>
<path d="M1052 706L1067 683L1036 652L1020 675z" fill="#d4d4ff"/>
<path d="M1411 791L1431 775L1419 746L1399 763z" fill="#fffafa"/>
<path d="M1524 952L1560 931L1552 905L1516 927z" fill="#ff8888"/>
<path d="M1730 1173L1761 1158L1757 1154L1726 1169z" fill="#ff0b0b"/>
<path d="M1817 1205L1840 1192L1779 1146L1756 1158z" fill="#ff0707"/>
<path d="M956 745L970 720L952 706L938 732z" fill="#efefff"/>
<path d="M1392 776L1404 766L1387 731L1376 742z" fill="#f9f9ff"/>
<path d="M767 1047L781 1011L767 1002L753 1039z" fill="#ff4545"/>
<path d="M1622 1095L1650 1081L1648 1074L1620 1088z" fill="#ff2929"/>
<path d="M1503 899L1511 894L1502 860L1494 865z" fill="#ffa9a9"/>
<path d="M1261 714L1287 686L1272 656L1246 685z" fill="#d5d5ff"/>
<path d="M1354 770L1381 744L1366 712L1339 739z" fill="#f3f3ff"/>
<path d="M1297 715L1299 713L1285 681L1283 683z" fill="#dcdcff"/>
<path d="M1307 739L1334 711L1325 690L1297 719z" fill="#e4e4ff"/>
<path d="M1133 696L1158 664L1137 635L1112 668z" fill="#ccccff"/>
<path d="M1587 1049L1611 1037L1602 1002L1577 1015z" fill="#ff4b4b"/>
<path d="M1454 864L1491 839L1481 808L1444 834z" fill="#ffc9c9"/>
<path d="M831 980L840 947L800 921L791 954z" fill="#ff7070"/>
<path d="M1093 701L1117 667L1098 644L1074 678z" fill="#d0d0ff"/>
<path d="M1411 794L1432 776L1430 772L1409 790z" fill="#fff1f1"/>
<path d="M987 740L1007 706L984 687L964 722z" fill="#e7e7ff"/>
<path d="M1631 1125L1658 1113L1649 1079L1622 1092z" fill="#ff2222"/>
<path d="M907 832L917 800L877 770L867 803z" fill="#ffdcdc"/>
<path d="M1183 681L1199 660L1198 658L1181 679z" fill="#cdcdff"/>
<path d="M1069 692L1080 677L1072 669L1061 684z" fill="#d4d4ff"/>
<path d="M953 755L959 743L940 728L934 740z" fill="#f6f6ff"/>
<path d="M1532 980L1567 960L1558 928L1523 948z" fill="#ff7979"/>
<path d="M1173 693L1186 678L1165 647L1153 663z" fill="#cdcdff"/>
<path d="M1511 927L1519 923L1510 889L1502 893z" fill="#ff9898"/>
<path d="M1299 723L1302 720L1297 708L1294 710z" fill="#e3e3ff"/>
<path d="M1422 823L1441 807L1430 775L1410 791z" fill="#ffe7e7"/>
<path d="M1224 715L1252 684L1236 655L1208 687z" fill="#d4d4ff"/>
<path d="M824 1009L833 976L793 951L784 984z" fill="#ff5f5f"/>
<path d="M1402 800L1414 790L1401 761L1390 771z" fill="#fff4f4"/>
<path d="M1702 1184L1732 1169L1696 1127L1666 1142z" fill="#ff1010"/>
<path d="M753 1079L769 1042L755 1034L740 1071z" fill="#ff3737"/>
<path d="M1318 766L1345 739L1332 709L1305 736z" fill="#efefff"/>
<path d="M1462 892L1498 868L1489 836L1452 861z" fill="#ffb7b7"/>
<path d="M1595 1078L1619 1065L1610 1032L1585 1045z" fill="#ff3c3c"/>
<path d="M900 860L908 829L868 800L860 832z" fill="#ffc8c8"/>
<path d="M1032 737L1054 703L1023 673L1001 707z" fill="#e1e1ff"/>
<path d="M1199 705L1214 688L1197 659L1182 677z" fill="#d3d3ff"/>
<path d="M1272 740L1299 713L1285 683L1259 711z" fill="#e2e2ff"/>
<path d="M938 785L954 750L937 737L921 773z" fill="#fffcfc"/>
<path d="M1512 934L1522 928L1519 918L1508 924z" fill="#ff8e8e"/>
<path d="M1540 1009L1575 989L1566 957L1531 977z" fill="#ff6868"/>
<path d="M1307 741L1309 739L1300 715L1297 717z" fill="#eaeaff"/>
<path d="M1369 798L1395 773L1378 741L1352 766z" fill="#fffdfd"/>
<path d="M1055 712L1072 687L1065 680L1048 705z" fill="#dbdbff"/>
<path d="M1172 694L1187 676L1185 674L1171 692z" fill="#d4d4ff"/>
<path d="M1646 1157L1672 1145L1656 1108L1630 1121z" fill="#ff1a1a"/>
<path d="M1087 711L1096 699L1076 675L1067 688z" fill="#d9d9ff"/>
<path d="M1402 803L1415 791L1413 786L1399 798z" fill="#ffecec"/>
<path d="M976 762L990 737L966 718L953 743z" fill="#f4f4ff"/>
<path d="M815 1038L825 1006L786 981L776 1013z" fill="#ff5050"/>
<path d="M1519 956L1527 952L1519 924L1511 928z" fill="#ff8585"/>
<path d="M755 1079L756 1077L739 1067L738 1069z" fill="#ff3131"/>
<path d="M893 890L901 857L861 829L853 862z" fill="#ffb4b4"/>
<path d="M1430 851L1450 836L1439 803L1419 818z" fill="#ffd4d4"/>
<path d="M1601 1101L1626 1089L1618 1061L1593 1074z" fill="#ff3030"/>
<path d="M1470 920L1506 897L1497 865L1460 889z" fill="#ffa6a6"/>
<path d="M1274 747L1301 718L1297 710L1271 738z" fill="#e9e9ff"/>
<path d="M1151 722L1176 690L1156 661L1131 693z" fill="#d6d6ff"/>
<path d="M1112 726L1137 693L1115 665L1091 698z" fill="#d9d9ff"/>
<path d="M1413 831L1424 822L1413 789L1401 799z" fill="#ffe1e1"/>
<path d="M1547 1037L1582 1018L1574 986L1538 1005z" fill="#ff5858"/>
<path d="M1237 741L1265 711L1249 682L1222 713z" fill="#e0e0ff"/>
<path d="M1188 718L1201 703L1184 675L1171 691z" fill="#d8d8ff"/>
<path d="M1331 794L1358 767L1343 736L1316 763z" fill="#fcfcff"/>
<path d="M1318 768L1320 766L1307 734L1305 736z" fill="#f5f5ff"/>
<path d="M1601 1106L1628 1093L1626 1086L1599 1099z" fill="#ff2929"/>
<path d="M972 771L978 760L954 740L948 751z" fill="#fafaff"/>
<path d="M929 814L941 781L923 768L911 802z" fill="#ffe9e9"/>
<path d="M886 917L894 887L854 859L847 890z" fill="#ffa1a1"/>
<path d="M737 1112L755 1075L741 1067L724 1103z" fill="#ff2a2a"/>
<path d="M1527 984L1535 980L1526 946L1518 950z" fill="#ff7676"/>
<path d="M1282 765L1309 738L1300 717L1273 745z" fill="#efefff"/>
<path d="M1073 731L1089 708L1069 686L1053 709z" fill="#e0e0ff"/>
<path d="M1791 1218L1818 1203L1757 1156L1730 1171z" fill="#ff0707"/>
<path d="M1212 730L1228 714L1211 684L1196 701z" fill="#ddddff"/>
<path d="M1378 822L1405 797L1393 770L1366 795z" fill="#ffeded"/>
<path d="M804 1068L817 1034L777 1010L764 1044z" fill="#ff4444"/>
<path d="M1438 878L1458 863L1448 831L1428 846z" fill="#ffc3c3"/>
<path d="M1478 948L1514 925L1505 893L1468 917z" fill="#ff9494"/>
<path d="M1703 1187L1736 1171L1731 1166L1699 1182z" fill="#ff0b0b"/>
<path d="M1610 1136L1635 1124L1626 1091L1601 1103z" fill="#ff2121"/>
<path d="M1014 766L1034 733L1003 704L984 738z" fill="#eeeeff"/>
<path d="M884 931L888 916L848 888L844 903z" fill="#ff9393"/>
<path d="M1035 742L1058 707L1052 700L1029 736z" fill="#e6e6ff"/>
<path d="M1150 723L1176 689L1174 687L1149 721z" fill="#dcdcff"/>
<path d="M1556 1066L1590 1047L1581 1014L1546 1033z" fill="#ff4949"/>
<path d="M1422 859L1433 850L1422 817L1411 826z" fill="#ffd0d0"/>
<path d="M958 801L974 767L951 749L935 784z" fill="#fff7f7"/>
<path d="M1378 825L1406 799L1404 795L1377 821z" fill="#ffe4e4"/>
<path d="M920 843L931 809L913 797L903 831z" fill="#ffd5d5"/>
<path d="M881 945L885 930L845 902L840 918z" fill="#ff8a8a"/>
<path d="M1479 954L1516 930L1513 922L1477 946z" fill="#ff8a8a"/>
<path d="M1535 1013L1543 1009L1533 974L1526 979z" fill="#ff6666"/>
<path d="M1106 736L1115 724L1093 695L1084 707z" fill="#e2e2ff"/>
<path d="M1294 791L1320 766L1307 736L1280 762z" fill="#f9f9ff"/>
<path d="M1248 766L1276 737L1262 708L1235 738z" fill="#ebebff"/>
<path d="M1331 795L1333 793L1318 761L1316 763z" fill="#fffbfb"/>
<path d="M1446 905L1466 891L1456 859L1436 873z" fill="#ffb1b1"/>
<path d="M1345 821L1372 796L1355 764L1329 790z" fill="#fff2f2"/>
<path d="M1202 743L1215 729L1198 699L1185 714z" fill="#e3e3ff"/>
<path d="M873 974L882 942L842 916L834 948z" fill="#ff7d7d"/>
<path d="M1486 976L1522 953L1514 928L1478 952z" fill="#ff8181"/>
<path d="M1389 852L1416 829L1404 798L1377 822z" fill="#ffdada"/>
<path d="M1166 746L1191 715L1174 689L1149 721z" fill="#e2e2ff"/>
<path d="M1680 1195L1705 1183L1668 1140L1644 1153z" fill="#ff1010"/>
<path d="M790 1100L805 1065L766 1041L751 1076z" fill="#ff3636"/>
<path d="M1564 1094L1598 1076L1589 1044L1554 1062z" fill="#ff3c3c"/>
<path d="M913 871L922 838L905 827L896 859z" fill="#ffc2c2"/>
<path d="M1625 1168L1649 1156L1633 1119L1609 1131z" fill="#ff1a1a"/>
<path d="M1225 756L1240 739L1225 709L1209 726z" fill="#e8e8ff"/>
<path d="M1430 886L1441 877L1431 845L1420 854z" fill="#ffbebe"/>
<path d="M1130 750L1154 718L1134 690L1110 723z" fill="#e3e3ff"/>
<path d="M1053 761L1076 727L1056 706L1034 740z" fill="#eaeaff"/>
<path d="M717 1145L740 1107L726 1099L704 1137z" fill="#ff1e1e"/>
<path d="M1004 787L1017 764L986 735L973 758z" fill="#fafaff"/>
<path d="M1543 1041L1550 1037L1541 1003L1533 1007z" fill="#ff5656"/>
<path d="M1250 773L1278 742L1275 734L1247 765z" fill="#f3f3ff"/>
<path d="M948 829L961 797L938 779L926 812z" fill="#ffe4e4"/>
<path d="M866 1003L875 971L835 945L827 977z" fill="#ff6b6b"/>
<path d="M1454 933L1474 919L1464 887L1444 901z" fill="#ffa0a0"/>
<path d="M1092 756L1108 734L1086 706L1070 728z" fill="#e8e8ff"/>
<path d="M1494 1004L1530 982L1521 950L1485 973z" fill="#ff7373"/>
<path d="M791 1100L791 1099L751 1074L750 1076z" fill="#ff3030"/>
<path d="M1018 772L1039 737L1032 731L1012 766z" fill="#f4f4ff"/>
<path d="M906 900L915 866L898 854L889 889z" fill="#ffafaf"/>
<path d="M1307 818L1333 793L1318 762L1291 788z" fill="#fff6f6"/>
<path d="M1570 1117L1605 1099L1597 1072L1562 1091z" fill="#ff2f2f"/>
<path d="M1398 879L1425 857L1414 825L1387 849z" fill="#ffc9c9"/>
<path d="M1258 791L1286 761L1277 741L1249 771z" fill="#f8f8ff"/>
<path d="M1438 913L1449 904L1439 872L1428 880z" fill="#ffadad"/>
<path d="M1000 796L1006 786L974 756L968 767z" fill="#fffbfb"/>
<path d="M1345 823L1347 821L1330 788L1328 790z" fill="#ffebeb"/>
<path d="M1355 844L1382 819L1370 792L1343 818z" fill="#ffe1e1"/>
<path d="M1129 752L1154 718L1153 716L1128 750z" fill="#e8e8ff"/>
<path d="M1551 1070L1558 1066L1549 1031L1541 1035z" fill="#ff4848"/>
<path d="M1215 768L1228 754L1212 724L1199 739z" fill="#eeeeff"/>
<path d="M859 1032L868 1000L829 974L820 1007z" fill="#ff5c5c"/>
<path d="M940 858L950 825L928 808L917 842z" fill="#ffd1d1"/>
<path d="M1571 1122L1606 1104L1604 1097L1569 1115z" fill="#ff2828"/>
<path d="M1880 1238L1903 1225L1835 1189L1812 1201z" fill="#ff0101"/>
<path d="M1179 770L1205 740L1188 712L1163 743z" fill="#ebebff"/>
<path d="M1236 780L1252 764L1238 735L1222 751z" fill="#f4f4ff"/>
<path d="M1462 960L1482 947L1472 915L1452 928z" fill="#ff9090"/>
<path d="M900 928L908 895L891 884L883 917z" fill="#ff9c9c"/>
<path d="M774 1132L791 1098L752 1074L735 1109z" fill="#ff2929"/>
<path d="M1502 1032L1538 1011L1528 979L1493 1000z" fill="#ff6464"/>
<path d="M1123 761L1133 749L1112 720L1103 732z" fill="#ebebff"/>
<path d="M1355 847L1383 821L1381 817L1353 843z" fill="#ffdada"/>
<path d="M1406 905L1433 883L1423 853L1396 876z" fill="#ffb8b8"/>
<path d="M1681 1198L1709 1184L1704 1179L1676 1193z" fill="#ff0b0b"/>
<path d="M1764 1231L1792 1216L1731 1169L1703 1184z" fill="#ff0707"/>
<path d="M1580 1151L1614 1134L1605 1102L1570 1119z" fill="#ff2121"/>
<path d="M1270 816L1297 788L1284 759L1256 788z" fill="#fff9f9"/>
<path d="M986 826L1001 793L970 765L955 799z" fill="#ffefef"/>
<path d="M1446 940L1457 932L1447 899L1436 907z" fill="#ff9d9d"/>
<path d="M897 941L902 924L884 912L879 929z" fill="#ff8f8f"/>
<path d="M1036 791L1056 758L1037 736L1016 770z" fill="#f7f7ff"/>
<path d="M1145 774L1169 743L1153 717L1128 750z" fill="#ededff"/>
<path d="M1463 966L1484 951L1481 943L1460 958z" fill="#ff8686"/>
<path d="M933 886L942 854L919 837L910 869z" fill="#ffbebe"/>
<path d="M850 1060L860 1028L821 1004L811 1035z" fill="#ff4e4e"/>
<path d="M1559 1098L1567 1094L1557 1060L1549 1064z" fill="#ff3a3a"/>
<path d="M1008 793L1021 767L1015 760L1001 786z" fill="#fffefe"/>
<path d="M1072 785L1095 752L1073 725L1050 759z" fill="#f3f3ff"/>
<path d="M1238 787L1255 769L1250 760L1234 779z" fill="#fbfbff"/>
<path d="M1366 874L1393 850L1381 820L1354 845z" fill="#ffd0d0"/>
<path d="M894 955L899 938L881 926L876 943z" fill="#ff8686"/>
<path d="M1321 845L1347 821L1330 789L1304 814z" fill="#ffe5e5"/>
<path d="M1355 846L1357 844L1345 816L1343 817z" fill="#ffdcdc"/>
<path d="M693 1181L720 1141L707 1133L680 1173z" fill="#ff1414"/>
<path d="M1510 1059L1545 1038L1536 1007L1500 1028z" fill="#ff5555"/>
<path d="M1470 988L1490 975L1482 949L1462 962z" fill="#ff7e7e"/>
<path d="M1659 1206L1682 1194L1646 1151L1623 1163z" fill="#ff1010"/>
<path d="M1122 762L1133 747L1131 745L1121 760z" fill="#f1f1ff"/>
<path d="M1109 780L1126 758L1105 730L1089 752z" fill="#f2f2ff"/>
<path d="M1226 792L1239 779L1225 750L1212 764z" fill="#f9f9ff"/>
<path d="M1414 932L1441 910L1431 880L1404 902z" fill="#ffa8a8"/>
<path d="M1246 804L1262 788L1252 767L1237 784z" fill="#fffcfc"/>
<path d="M926 915L935 881L912 865L903 899z" fill="#ffabab"/>
<path d="M887 984L895 951L878 940L870 973z" fill="#ff7979"/>
<path d="M1454 967L1465 959L1455 927L1444 935z" fill="#ff8d8d"/>
<path d="M1192 795L1218 765L1202 737L1177 768z" fill="#f7f7ff"/>
<path d="M1004 802L1011 789L1003 781L995 794z" fill="#fff5f5"/>
<path d="M1565 1121L1573 1117L1565 1088L1557 1092z" fill="#ff2e2e"/>
<path d="M1355 850L1360 846L1356 838L1351 842z" fill="#ffd4d4"/>
<path d="M976 853L988 823L957 795L945 827z" fill="#ffdcdc"/>
<path d="M1594 1183L1628 1166L1612 1130L1578 1147z" fill="#ff1a1a"/>
<path d="M838 1090L852 1057L813 1032L800 1066z" fill="#ff4141"/>
<path d="M1283 842L1310 815L1295 785L1268 813z" fill="#ffe9e9"/>
<path d="M754 1166L775 1129L737 1106L715 1143z" fill="#ff1e1e"/>
<path d="M1479 1015L1498 1003L1488 970L1469 983z" fill="#ff7070"/>
<path d="M1375 900L1402 877L1391 846L1364 870z" fill="#ffbfbf"/>
<path d="M1518 1087L1553 1067L1544 1035L1508 1055z" fill="#ff4747"/>
<path d="M1228 799L1242 783L1238 775L1223 791z" fill="#fffcfc"/>
<path d="M1025 811L1039 787L1019 766L1005 790z" fill="#fff8f8"/>
<path d="M1454 973L1468 963L1464 954L1451 964z" fill="#ff8383"/>
<path d="M1138 784L1148 773L1130 746L1121 758z" fill="#f6f6ff"/>
<path d="M1565 1126L1576 1121L1573 1112L1562 1117z" fill="#ff2727"/>
<path d="M919 942L928 910L905 894L897 926z" fill="#ff9999"/>
<path d="M880 1012L888 979L871 968L863 1002z" fill="#ff6969"/>
<path d="M1158 798L1183 767L1167 740L1142 772z" fill="#f7f7ff"/>
<path d="M1366 875L1368 874L1356 842L1354 844z" fill="#ffcbcb"/>
<path d="M1109 781L1126 757L1124 755L1107 779z" fill="#f7f7ff"/>
<path d="M1331 867L1357 843L1345 817L1318 842z" fill="#ffd7d7"/>
<path d="M1422 958L1449 938L1439 907L1412 928z" fill="#ff9898"/>
<path d="M694 1183L697 1179L680 1169L677 1173z" fill="#ff0f0f"/>
<path d="M1258 829L1273 814L1260 785L1244 800z" fill="#ffefef"/>
<path d="M990 831L1005 796L999 791L983 825z" fill="#ffe9e9"/>
<path d="M1462 994L1473 987L1465 960L1453 968z" fill="#ff7b7b"/>
<path d="M1236 816L1250 802L1240 781L1226 795z" fill="#fff6f6"/>
<path d="M917 955L922 939L898 922L893 939z" fill="#ff8c8c"/>
<path d="M967 882L978 850L947 824L936 856z" fill="#ffcaca"/>
<path d="M1055 813L1075 782L1053 755L1033 788z" fill="#fffdfd"/>
<path d="M1575 1155L1582 1151L1573 1117L1565 1121z" fill="#ff2121"/>
<path d="M1021 820L1027 809L1007 787L1001 798z" fill="#ffefef"/>
<path d="M1204 818L1229 789L1215 762L1190 792z" fill="#fffbfb"/>
<path d="M1487 1043L1506 1031L1496 998L1477 1010z" fill="#ff6161"/>
<path d="M1089 808L1112 776L1092 750L1069 782z" fill="#fcfcff"/>
<path d="M1331 870L1358 845L1356 841L1329 866z" fill="#ffcece"/>
<path d="M1383 925L1410 903L1400 874L1373 897z" fill="#ffb0b0"/>
<path d="M1526 1115L1562 1095L1552 1064L1516 1084z" fill="#ff3939"/>
<path d="M872 1041L881 1007L864 997L855 1031z" fill="#ff5a5a"/>
<path d="M914 969L918 953L895 936L890 953z" fill="#ff8383"/>
<path d="M824 1121L840 1087L801 1063L786 1098z" fill="#ff3434"/>
<path d="M1855 1251L1881 1236L1813 1200L1787 1214z" fill="#ff0101"/>
<path d="M1124 803L1141 782L1124 756L1107 778z" fill="#fbfbff"/>
<path d="M1660 1208L1686 1195L1682 1190L1655 1204z" fill="#ff0b0b"/>
<path d="M1430 985L1457 965L1447 934L1420 955z" fill="#ff8888"/>
<path d="M1375 902L1377 900L1366 868L1364 870z" fill="#ffbbbb"/>
<path d="M1470 1022L1481 1014L1471 982L1460 989z" fill="#ff6d6d"/>
<path d="M1297 868L1324 842L1308 812L1280 839z" fill="#ffdada"/>
<path d="M960 908L969 878L938 853L929 883z" fill="#ffb8b8"/>
<path d="M906 997L915 965L892 950L884 983z" fill="#ff7676"/>
<path d="M1342 896L1368 873L1356 844L1330 867z" fill="#ffc5c5"/>
<path d="M1742 1242L1765 1230L1704 1182L1680 1195z" fill="#ff0707"/>
<path d="M1152 807L1161 796L1145 768L1135 780z" fill="#fffefe"/>
<path d="M1248 841L1261 828L1247 799L1234 812z" fill="#ffe8e8"/>
<path d="M980 859L992 826L985 820L973 853z" fill="#ffd7d7"/>
<path d="M1206 825L1231 795L1227 787L1202 817z" fill="#fff3f3"/>
<path d="M1171 821L1196 791L1180 765L1156 795z" fill="#fffbfb"/>
<path d="M1007 849L1023 816L1003 796L987 829z" fill="#ffe3e3"/>
<path d="M1271 855L1286 840L1270 810L1255 825z" fill="#ffe0e0"/>
<path d="M1494 1069L1514 1058L1504 1026L1485 1038z" fill="#ff5252"/>
<path d="M1431 990L1458 969L1456 962L1429 983z" fill="#ff8080"/>
<path d="M863 1069L874 1036L857 1026L847 1059z" fill="#ff4c4c"/>
<path d="M1533 1137L1568 1118L1560 1092L1525 1112z" fill="#ff2d2d"/>
<path d="M825 1121L826 1120L786 1096L785 1097z" fill="#ff2e2e"/>
<path d="M1391 951L1418 929L1408 899L1381 922z" fill="#ffa0a0"/>
<path d="M1590 1186L1597 1182L1580 1145L1573 1149z" fill="#ff1a1a"/>
<path d="M1089 809L1112 776L1111 774L1088 808z" fill="#fffbfb"/>
<path d="M1044 833L1058 811L1035 785L1022 808z" fill="#ffefef"/>
<path d="M729 1201L756 1162L718 1139L691 1179z" fill="#ff1313"/>
<path d="M953 936L962 905L931 880L922 912z" fill="#ffa5a5"/>
<path d="M899 1025L908 993L885 978L877 1011z" fill="#ff6767"/>
<path d="M1214 841L1239 812L1230 793L1204 823z" fill="#ffebeb"/>
<path d="M1629 1221L1661 1204L1625 1162L1592 1179z" fill="#ff1010"/>
<path d="M1383 927L1385 925L1375 894L1373 896z" fill="#ffabab"/>
<path d="M1439 1011L1465 992L1457 968L1430 988z" fill="#ff7878"/>
<path d="M1478 1049L1489 1042L1479 1009L1468 1016z" fill="#ff5e5e"/>
<path d="M1533 1142L1570 1123L1568 1116L1531 1136z" fill="#ff2727"/>
<path d="M971 887L982 853L975 848L965 881z" fill="#ffc5c5"/>
<path d="M1351 921L1377 899L1366 870L1340 892z" fill="#ffb7b7"/>
<path d="M808 1153L825 1119L787 1096L770 1130z" fill="#ff2727"/>
<path d="M1138 825L1154 805L1138 778L1121 799z" fill="#fff7f7"/>
<path d="M1503 1097L1522 1086L1512 1053L1493 1065z" fill="#ff4444"/>
<path d="M1307 890L1334 864L1322 839L1295 865z" fill="#ffcdcd"/>
<path d="M1072 836L1092 805L1072 779L1052 811z" fill="#fff2f2"/>
<path d="M1104 831L1127 799L1111 775L1088 807z" fill="#fff6f6"/>
<path d="M1399 977L1426 956L1416 926L1389 948z" fill="#ff9191"/>
<path d="M1542 1171L1578 1152L1568 1121L1533 1140z" fill="#ff2020"/>
<path d="M851 1099L865 1064L849 1054L835 1089z" fill="#ff3f3f"/>
<path d="M1040 842L1046 832L1023 805L1017 815z" fill="#ffe5e5"/>
<path d="M997 876L1010 845L990 825L977 857z" fill="#ffd2d2"/>
<path d="M946 963L955 933L924 909L916 939z" fill="#ff9393"/>
<path d="M1261 866L1273 853L1258 823L1245 836z" fill="#ffdada"/>
<path d="M891 1054L901 1021L878 1007L869 1040z" fill="#ff5858"/>
<path d="M1183 844L1207 815L1193 789L1169 819z" fill="#ffeded"/>
<path d="M1447 1038L1473 1020L1463 989L1437 1008z" fill="#ff6b6b"/>
<path d="M1165 831L1174 820L1158 792L1149 803z" fill="#fff1f1"/>
<path d="M1391 953L1393 951L1383 920L1381 921z" fill="#ff9c9c"/>
<path d="M1486 1075L1497 1069L1487 1037L1476 1044z" fill="#ff5151"/>
<path d="M1285 881L1300 867L1283 836L1268 850z" fill="#ffd2d2"/>
<path d="M1225 865L1251 838L1237 810L1212 838z" fill="#ffe0e0"/>
<path d="M1307 893L1335 866L1333 862L1305 889z" fill="#ffc5c5"/>
<path d="M964 913L973 881L967 876L958 908z" fill="#ffb3b3"/>
<path d="M729 1203L731 1199L691 1176L689 1180z" fill="#ff0e0e"/>
<path d="M944 976L948 961L917 936L912 952z" fill="#ff8888"/>
<path d="M625 1232L694 1180L682 1172L613 1224z" fill="#ff0707"/>
<path d="M1359 946L1385 925L1375 896L1349 918z" fill="#ffa7a7"/>
<path d="M1511 1124L1530 1114L1520 1082L1501 1093z" fill="#ff3838"/>
<path d="M1407 1003L1434 983L1424 953L1397 974z" fill="#ff8383"/>
<path d="M940 989L945 974L914 950L909 966z" fill="#ff8080"/>
<path d="M1026 870L1042 838L1020 814L1004 846z" fill="#ffdbdb"/>
<path d="M1072 837L1092 804L1091 803L1070 835z" fill="#ffebeb"/>
<path d="M989 903L999 871L980 853L969 885z" fill="#ffc0c0"/>
<path d="M1185 850L1210 820L1206 813L1181 843z" fill="#ffe5e5"/>
<path d="M883 1081L893 1049L871 1035L860 1068z" fill="#ff4a4a"/>
<path d="M1318 918L1346 893L1334 865L1306 890z" fill="#ffbdbd"/>
<path d="M1455 1064L1481 1047L1471 1016L1445 1034z" fill="#ff5c5c"/>
<path d="M1557 1202L1592 1184L1576 1149L1541 1167z" fill="#ff1919"/>
<path d="M1494 1103L1505 1097L1495 1063L1484 1070z" fill="#ff4444"/>
<path d="M957 941L966 908L959 902L951 936z" fill="#ffa1a1"/>
<path d="M1399 979L1401 977L1391 945L1389 947z" fill="#ff8d8d"/>
<path d="M1061 855L1075 833L1054 807L1041 830z" fill="#ffe4e4"/>
<path d="M837 1130L853 1094L837 1084L821 1120z" fill="#ff3333"/>
<path d="M1151 848L1167 828L1152 802L1135 822z" fill="#ffe9e9"/>
<path d="M1630 1223L1665 1205L1661 1201L1625 1219z" fill="#ff0b0b"/>
<path d="M1721 1253L1743 1241L1682 1193L1660 1205z" fill="#ff0707"/>
<path d="M1408 1008L1436 987L1433 980L1406 1001z" fill="#ff7a7a"/>
<path d="M933 1017L942 986L911 964L902 995z" fill="#ff7373"/>
<path d="M1118 853L1141 822L1125 797L1102 828z" fill="#ffe9e9"/>
<path d="M788 1186L810 1150L772 1127L750 1164z" fill="#ff1d1d"/>
<path d="M1193 866L1218 837L1208 819L1183 848z" fill="#ffdede"/>
<path d="M1828 1265L1856 1249L1788 1213L1760 1228z" fill="#ff0101"/>
<path d="M1624 1223L1631 1220L1593 1177L1587 1181z" fill="#ff0f0f"/>
<path d="M1275 892L1288 879L1271 849L1258 861z" fill="#ffcccc"/>
<path d="M1176 853L1186 843L1171 815L1162 826z" fill="#ffe4e4"/>
<path d="M1367 971L1393 950L1383 921L1357 942z" fill="#ff9898"/>
<path d="M1517 1147L1537 1136L1528 1109L1509 1120z" fill="#ff2d2d"/>
<path d="M1238 889L1263 863L1248 835L1223 862z" fill="#ffd2d2"/>
<path d="M1295 902L1310 888L1298 862L1282 877z" fill="#ffc4c4"/>
<path d="M1087 858L1107 827L1091 804L1070 835z" fill="#ffe6e6"/>
<path d="M981 929L991 899L971 881L962 911z" fill="#ffafaf"/>
<path d="M1416 1029L1443 1009L1434 985L1407 1005z" fill="#ff7272"/>
<path d="M950 968L959 936L952 931L944 963z" fill="#ff9090"/>
<path d="M870 1111L884 1077L862 1063L848 1098z" fill="#ff3f3f"/>
<path d="M839 1130L840 1128L821 1117L820 1118z" fill="#ff2d2d"/>
<path d="M1016 896L1028 866L1006 843L994 873z" fill="#ffcaca"/>
<path d="M1057 864L1063 854L1042 827L1036 838z" fill="#ffdbdb"/>
<path d="M1463 1090L1489 1073L1479 1043L1453 1061z" fill="#ff4f4f"/>
<path d="M1518 1152L1539 1140L1536 1133L1515 1144z" fill="#ff2626"/>
<path d="M926 1045L935 1014L904 992L895 1023z" fill="#ff6363"/>
<path d="M1327 943L1355 919L1343 890L1316 915z" fill="#ffadad"/>
<path d="M1407 1004L1410 1003L1400 971L1397 973z" fill="#ff7f7f"/>
<path d="M1503 1130L1513 1124L1503 1091L1492 1098z" fill="#ff3737"/>
<path d="M1061 856L1075 832L1073 830L1059 855z" fill="#ffdede"/>
<path d="M1295 905L1312 889L1309 885L1293 901z" fill="#ffbdbd"/>
<path d="M1178 860L1189 847L1184 838L1173 851z" fill="#ffdcdc"/>
<path d="M948 981L953 963L945 957L940 976z" fill="#ff8484"/>
<path d="M974 956L983 925L964 907L954 940z" fill="#ff9e9e"/>
<path d="M1375 996L1401 976L1391 947L1365 967z" fill="#ff8a8a"/>
<path d="M1204 889L1229 862L1215 835L1191 864z" fill="#ffd3d3"/>
<path d="M1162 870L1179 851L1165 825L1148 845z" fill="#ffdddd"/>
<path d="M1527 1179L1546 1170L1536 1138L1517 1148z" fill="#ff1f1f"/>
<path d="M1424 1054L1451 1036L1441 1006L1414 1025z" fill="#ff6666"/>
<path d="M1409 1010L1412 1008L1408 997L1405 999z" fill="#ff7676"/>
<path d="M944 994L949 976L942 971L937 989z" fill="#ff7c7c"/>
<path d="M821 1162L839 1126L823 1117L804 1152z" fill="#ff2727"/>
<path d="M918 1072L928 1041L897 1020L888 1052z" fill="#ff5555"/>
<path d="M1285 913L1298 901L1285 875L1272 887z" fill="#ffbfbf"/>
<path d="M1131 875L1154 845L1138 820L1115 850z" fill="#ffdede"/>
<path d="M1043 891L1059 860L1039 836L1023 868z" fill="#ffd1d1"/>
<path d="M1186 875L1196 865L1186 845L1176 855z" fill="#ffd5d5"/>
<path d="M1306 930L1321 916L1309 887L1294 901z" fill="#ffb5b5"/>
<path d="M1471 1117L1497 1101L1487 1069L1461 1086z" fill="#ff4141"/>
<path d="M1007 923L1018 893L996 870L985 901z" fill="#ffb9b9"/>
<path d="M1509 1152L1520 1146L1512 1118L1501 1125z" fill="#ff2c2c"/>
<path d="M1335 966L1363 943L1353 916L1325 940z" fill="#ffa0a0"/>
<path d="M1056 865L1064 851L1062 849L1054 863z" fill="#ffd6d6"/>
<path d="M1076 876L1090 855L1073 831L1059 854z" fill="#ffd8d8"/>
<path d="M967 982L976 952L956 935L948 966z" fill="#ff8d8d"/>
<path d="M1416 1030L1418 1029L1410 1003L1407 1004z" fill="#ff6f6f"/>
<path d="M1253 914L1278 889L1261 860L1236 886z" fill="#ffc4c4"/>
<path d="M1101 879L1121 849L1105 825L1084 855z" fill="#ffdada"/>
<path d="M937 1022L945 989L939 984L931 1017z" fill="#ff7070"/>
<path d="M856 1142L873 1107L851 1093L834 1128z" fill="#ff3333"/>
<path d="M1384 1021L1410 1002L1399 973L1373 993z" fill="#ff7c7c"/>
<path d="M1164 876L1181 855L1177 848L1160 869z" fill="#ffd5d5"/>
<path d="M1625 1227L1635 1221L1629 1215L1619 1221z" fill="#ff0a0a"/>
<path d="M1509 1157L1523 1150L1520 1141L1506 1149z" fill="#ff2525"/>
<path d="M1285 916L1299 901L1297 897L1282 911z" fill="#ffb9b9"/>
<path d="M1432 1080L1459 1062L1449 1032L1422 1051z" fill="#ff5858"/>
<path d="M660 1253L729 1200L693 1178L624 1231z" fill="#ff0707"/>
<path d="M763 1221L790 1183L752 1160L726 1199z" fill="#ff1313"/>
<path d="M965 995L970 980L949 962L944 978z" fill="#ff8181"/>
<path d="M1592 1239L1625 1222L1589 1180L1555 1198z" fill="#ff0f0f"/>
<path d="M909 1099L920 1069L889 1048L879 1079z" fill="#ff4949"/>
<path d="M1000 948L1010 919L987 897L978 927z" fill="#ffa8a8"/>
<path d="M1217 913L1242 887L1226 859L1202 887z" fill="#ffc6c6"/>
<path d="M1542 1210L1560 1200L1544 1165L1525 1175z" fill="#ff1919"/>
<path d="M1480 1143L1505 1128L1495 1097L1469 1113z" fill="#ff3636"/>
<path d="M1072 885L1078 875L1061 851L1055 861z" fill="#ffd1d1"/>
<path d="M1043 892L1059 860L1057 858L1041 891z" fill="#ffcccc"/>
<path d="M1198 898L1207 888L1193 860L1184 871z" fill="#ffcbcb"/>
<path d="M1385 1026L1411 1006L1409 999L1382 1020z" fill="#ff7373"/>
<path d="M1172 892L1189 872L1179 854L1162 874z" fill="#ffcfcf"/>
<path d="M1344 991L1371 969L1361 940L1333 963z" fill="#ff9292"/>
<path d="M1315 954L1330 941L1319 912L1304 925z" fill="#ffa7a7"/>
<path d="M930 1049L938 1016L932 1011L923 1045z" fill="#ff6262"/>
<path d="M1424 1056L1426 1054L1416 1023L1414 1024z" fill="#ff6363"/>
<path d="M961 1008L966 993L946 975L941 991z" fill="#ff7979"/>
<path d="M858 1142L858 1140L835 1125L834 1127z" fill="#ff2c2c"/>
<path d="M1519 1184L1530 1179L1520 1146L1509 1152z" fill="#ff1f1f"/>
<path d="M1033 917L1046 888L1025 864L1012 894z" fill="#ffc1c1"/>
<path d="M1296 940L1309 928L1297 900L1284 911z" fill="#ffb1b1"/>
<path d="M1142 896L1165 867L1152 842L1128 872z" fill="#ffd2d2"/>
<path d="M1691 1268L1722 1251L1661 1204L1629 1220z" fill="#ff0707"/>
<path d="M1392 1046L1418 1027L1410 1004L1384 1024z" fill="#ff6c6c"/>
<path d="M993 975L1002 944L980 923L971 954z" fill="#ff9898"/>
<path d="M1440 1105L1467 1088L1457 1059L1430 1077z" fill="#ff4b4b"/>
<path d="M1262 935L1288 910L1275 886L1250 912z" fill="#ffb8b8"/>
<path d="M954 1035L963 1004L943 988L934 1020z" fill="#ff6e6e"/>
<path d="M800 1195L823 1157L807 1147L785 1185z" fill="#ff1c1c"/>
<path d="M1806 1276L1829 1263L1761 1226L1737 1239z" fill="#ff0101"/>
<path d="M1090 897L1104 876L1087 852L1073 873z" fill="#ffcece"/>
<path d="M897 1129L911 1096L881 1076L867 1109z" fill="#ff3d3d"/>
<path d="M1114 900L1134 871L1119 847L1098 876z" fill="#ffd0d0"/>
<path d="M1486 1165L1512 1150L1504 1124L1478 1140z" fill="#ff2a2a"/>
<path d="M922 1076L931 1043L925 1039L915 1072z" fill="#ff5454"/>
<path d="M1058 911L1074 881L1057 859L1041 890z" fill="#ffc6c6"/>
<path d="M840 1173L858 1139L836 1125L818 1160z" fill="#ff2626"/>
<path d="M1352 1015L1379 994L1369 965L1342 988z" fill="#ff8383"/>
<path d="M1432 1082L1434 1080L1424 1049L1422 1050z" fill="#ff5656"/>
<path d="M1324 978L1339 965L1328 937L1313 950z" fill="#ff9999"/>
<path d="M763 1223L765 1219L726 1196L723 1200z" fill="#ff0e0e"/>
<path d="M1024 943L1035 913L1015 890L1004 921z" fill="#ffb0b0"/>
<path d="M1184 914L1200 896L1187 869L1170 888z" fill="#ffc4c4"/>
<path d="M1144 902L1168 872L1164 865L1140 895z" fill="#ffcaca"/>
<path d="M1033 918L1045 887L1044 885L1031 916z" fill="#ffbbbb"/>
<path d="M1263 938L1288 911L1287 908L1261 934z" fill="#ffb1b1"/>
<path d="M1305 964L1318 953L1306 924L1294 935z" fill="#ffa3a3"/>
<path d="M986 1000L995 971L973 951L964 980z" fill="#ff8888"/>
<path d="M1487 1170L1514 1154L1512 1147L1485 1163z" fill="#ff2525"/>
<path d="M947 1062L956 1031L936 1016L927 1047z" fill="#ff5f5f"/>
<path d="M1400 1071L1426 1054L1416 1024L1390 1043z" fill="#ff6161"/>
<path d="M1534 1215L1544 1209L1527 1174L1517 1179z" fill="#ff1818"/>
<path d="M1211 921L1220 912L1204 884L1195 893z" fill="#ffbebe"/>
<path d="M1232 937L1256 912L1239 884L1215 910z" fill="#ffb9b9"/>
<path d="M1449 1132L1475 1115L1465 1084L1438 1101z" fill="#ff3f3f"/>
<path d="M1086 905L1092 896L1075 871L1069 880z" fill="#ffc7c7"/>
<path d="M913 1103L924 1071L917 1066L907 1099z" fill="#ff4747"/>
<path d="M1593 1241L1629 1223L1625 1219L1589 1237z" fill="#ff0a0a"/>
<path d="M1152 917L1176 888L1166 871L1143 900z" fill="#ffc5c5"/>
<path d="M983 1012L988 998L965 977L960 992z" fill="#ff7d7d"/>
<path d="M1274 961L1299 937L1287 910L1262 935z" fill="#ffa9a9"/>
<path d="M1496 1196L1522 1183L1512 1152L1486 1166z" fill="#ff1e1e"/>
<path d="M1017 967L1027 939L1006 917L996 946z" fill="#ffa0a0"/>
<path d="M1360 1039L1388 1019L1377 990L1350 1012z" fill="#ff7676"/>
<path d="M1440 1107L1442 1105L1433 1075L1430 1076z" fill="#ff4949"/>
<path d="M1332 1002L1347 990L1337 961L1321 973z" fill="#ff8c8c"/>
<path d="M1048 936L1061 907L1044 887L1031 916z" fill="#ffb8b8"/>
<path d="M939 1089L948 1057L929 1043L919 1075z" fill="#ff5252"/>
<path d="M980 1025L985 1010L962 990L957 1005z" fill="#ff7575"/>
<path d="M1024 944L1035 912L1033 911L1023 942z" fill="#ffacac"/>
<path d="M883 1158L899 1125L869 1105L853 1140z" fill="#ff3131"/>
<path d="M1125 921L1146 893L1132 869L1111 898z" fill="#ffc5c5"/>
<path d="M1313 987L1326 976L1316 948L1303 959z" fill="#ff9595"/>
<path d="M1103 918L1117 898L1101 873L1087 894z" fill="#ffc4c4"/>
<path d="M1409 1097L1434 1080L1424 1050L1399 1068z" fill="#ff5555"/>
<path d="M1197 937L1213 919L1198 892L1181 910z" fill="#ffb8b8"/>
<path d="M1072 931L1088 902L1071 879L1055 909z" fill="#ffbdbd"/>
<path d="M1457 1157L1483 1142L1473 1111L1447 1128z" fill="#ff3434"/>
<path d="M1361 1044L1389 1023L1387 1016L1358 1038z" fill="#ff6f6f"/>
<path d="M1577 1247L1594 1238L1557 1196L1540 1205z" fill="#ff0f0f"/>
<path d="M1686 1270L1692 1267L1630 1219L1623 1223z" fill="#ff0707"/>
<path d="M1010 993L1019 963L999 942L989 973z" fill="#ff9191"/>
<path d="M972 1051L981 1021L959 1002L950 1033z" fill="#ff6a6a"/>
<path d="M819 1206L842 1169L821 1156L798 1193z" fill="#ff1c1c"/>
<path d="M901 1132L915 1098L909 1094L894 1128z" fill="#ff3b3b"/>
<path d="M1164 938L1187 911L1173 886L1150 914z" fill="#ffbbbb"/>
<path d="M1242 957L1266 932L1254 909L1229 935z" fill="#ffaeae"/>
<path d="M775 1229L803 1190L788 1180L760 1220z" fill="#ff1212"/>
<path d="M1449 1133L1451 1132L1440 1100L1438 1101z" fill="#ff3e3e"/>
<path d="M1225 945L1235 936L1217 907L1208 917z" fill="#ffb2b2"/>
<path d="M1340 1026L1355 1014L1345 985L1330 997z" fill="#ff7f7f"/>
<path d="M884 1159L885 1157L853 1137L853 1138z" fill="#ff2b2b"/>
<path d="M1283 985L1308 961L1297 934L1271 958z" fill="#ff9c9c"/>
<path d="M1017 968L1026 938L1025 937L1015 967z" fill="#ff9c9c"/>
<path d="M930 1115L941 1084L921 1070L911 1102z" fill="#ff4646"/>
<path d="M1368 1064L1396 1044L1388 1021L1360 1042z" fill="#ff6868"/>
<path d="M1039 961L1050 932L1033 912L1022 942z" fill="#ffa8a8"/>
<path d="M1127 926L1148 897L1144 890L1123 920z" fill="#ffbdbd"/>
<path d="M1099 926L1105 917L1089 891L1082 901z" fill="#ffbdbd"/>
<path d="M1511 1226L1536 1213L1519 1178L1494 1192z" fill="#ff1818"/>
<path d="M1322 1011L1335 1000L1324 972L1311 982z" fill="#ff8989"/>
<path d="M1417 1121L1442 1105L1433 1076L1407 1093z" fill="#ff4848"/>
<path d="M1464 1178L1490 1163L1482 1138L1455 1154z" fill="#ff2a2a"/>
<path d="M1785 1287L1807 1275L1738 1237L1716 1249z" fill="#ff0101"/>
<path d="M1003 1017L1012 989L991 969L982 998z" fill="#ff8282"/>
<path d="M965 1077L974 1047L952 1029L943 1060z" fill="#ff5c5c"/>
<path d="M1242 960L1267 933L1265 930L1240 956z" fill="#ffa8a8"/>
<path d="M1135 941L1156 913L1146 896L1125 925z" fill="#ffb8b8"/>
<path d="M1061 955L1074 927L1058 905L1045 934z" fill="#ffafaf"/>
<path d="M1114 938L1128 918L1114 894L1100 915z" fill="#ffb9b9"/>
<path d="M1009 994L1019 962L1017 961L1008 993z" fill="#ff8d8d"/>
<path d="M866 1189L884 1156L855 1137L837 1171z" fill="#ff2626"/>
<path d="M1032 985L1042 957L1025 938L1015 966z" fill="#ff9999"/>
<path d="M1377 1088L1404 1069L1394 1041L1367 1061z" fill="#ff5d5d"/>
<path d="M1457 1158L1459 1157L1449 1126L1447 1127z" fill="#ff3232"/>
<path d="M1464 1183L1492 1167L1490 1160L1462 1176z" fill="#ff2323"/>
<path d="M1348 1049L1364 1038L1353 1009L1338 1021z" fill="#ff7272"/>
<path d="M1000 1029L1005 1015L984 994L979 1009z" fill="#ff7777"/>
<path d="M1291 1007L1316 984L1306 958L1281 982z" fill="#ff9090"/>
<path d="M1568 1251L1578 1246L1541 1204L1531 1210z" fill="#ff0f0f"/>
<path d="M1211 960L1228 943L1210 915L1194 933z" fill="#ffadad"/>
<path d="M1084 951L1101 922L1085 899L1069 929z" fill="#ffb4b4"/>
<path d="M917 1144L932 1111L913 1097L899 1131z" fill="#ff3b3b"/>
<path d="M1253 983L1277 958L1265 932L1241 957z" fill="#ffa0a0"/>
<path d="M886 1162L903 1127L897 1123L880 1158z" fill="#ff3030"/>
<path d="M1330 1034L1343 1025L1332 996L1319 1006z" fill="#ff7c7c"/>
<path d="M1177 960L1200 934L1185 908L1161 935z" fill="#ffafaf"/>
<path d="M1425 1147L1451 1131L1440 1101L1415 1117z" fill="#ff3c3c"/>
<path d="M776 1231L779 1227L760 1216L757 1220z" fill="#ff0e0e"/>
<path d="M957 1103L967 1073L945 1056L935 1087z" fill="#ff5050"/>
<path d="M997 1042L1002 1027L981 1007L976 1022z" fill="#ff7070"/>
<path d="M1235 965L1245 956L1232 931L1222 941z" fill="#ffa7a7"/>
<path d="M693 1273L763 1220L727 1199L658 1251z" fill="#ff0707"/>
<path d="M1474 1209L1500 1195L1490 1165L1464 1180z" fill="#ff1e1e"/>
<path d="M1349 1054L1366 1041L1363 1034L1346 1047z" fill="#ff6a6a"/>
<path d="M1003 1018L1011 988L1010 987L1001 1017z" fill="#ff7f7f"/>
<path d="M1110 945L1116 937L1102 912L1096 921z" fill="#ffb3b3"/>
<path d="M1116 943L1131 922L1126 915L1112 937z" fill="#ffb3b3"/>
<path d="M1577 1250L1598 1239L1594 1234L1573 1245z" fill="#ff0a0a"/>
<path d="M1024 1010L1034 981L1017 962L1007 992z" fill="#ff8a8a"/>
<path d="M1053 979L1064 951L1047 930L1036 959z" fill="#ffa0a0"/>
<path d="M1147 961L1167 935L1154 911L1133 938z" fill="#ffafaf"/>
<path d="M1464 1179L1466 1178L1457 1151L1455 1153z" fill="#ff2828"/>
<path d="M989 1067L998 1038L978 1019L969 1049z" fill="#ff6666"/>
<path d="M1385 1113L1413 1095L1402 1066L1375 1085z" fill="#ff5050"/>
<path d="M1300 1030L1325 1008L1314 981L1289 1004z" fill="#ff8383"/>
<path d="M1654 1286L1686 1269L1625 1222L1592 1239z" fill="#ff0606"/>
<path d="M888 1162L890 1160L880 1153L878 1156z" fill="#ff2b2b"/>
<path d="M1235 968L1246 956L1244 952L1232 964z" fill="#ffa1a1"/>
<path d="M1357 1074L1372 1063L1364 1039L1348 1051z" fill="#ff6464"/>
<path d="M794 1240L822 1201L801 1189L773 1228z" fill="#ff1212"/>
<path d="M1000 1031L1005 1013L1003 1011L998 1029z" fill="#ff7575"/>
<path d="M948 1129L959 1099L937 1083L926 1113z" fill="#ff4343"/>
<path d="M1124 957L1139 937L1129 920L1114 941z" fill="#ffaeae"/>
<path d="M1338 1058L1351 1048L1341 1020L1328 1030z" fill="#ff6f6f"/>
<path d="M1434 1171L1459 1156L1449 1127L1423 1143z" fill="#ff3131"/>
<path d="M1262 1005L1287 982L1275 955L1251 979z" fill="#ff9494"/>
<path d="M1074 974L1087 947L1071 925L1058 953z" fill="#ffa6a6"/>
<path d="M1465 1185L1468 1183L1465 1172L1461 1174z" fill="#ff2222"/>
<path d="M1112 951L1120 940L1114 932L1106 943z" fill="#ffacac"/>
<path d="M996 1043L1001 1025L999 1024L994 1042z" fill="#ff6e6e"/>
<path d="M1018 1034L1027 1006L1010 988L1001 1017z" fill="#ff7c7c"/>
<path d="M1221 980L1238 963L1225 939L1208 957z" fill="#ffa2a2"/>
<path d="M1096 969L1112 942L1098 920L1082 948z" fill="#ffaaaa"/>
<path d="M903 1173L920 1139L901 1126L884 1161z" fill="#ff3030"/>
<path d="M1045 1002L1055 976L1038 955L1028 983z" fill="#ff9292"/>
<path d="M982 1092L991 1063L971 1045L961 1076z" fill="#ff5858"/>
<path d="M1246 990L1256 982L1243 954L1234 963z" fill="#ff9a9a"/>
<path d="M846 1222L868 1185L839 1167L817 1204z" fill="#ff1b1b"/>
<path d="M1339 1063L1354 1051L1350 1044L1336 1056z" fill="#ff6767"/>
<path d="M1191 983L1214 957L1197 931L1174 957z" fill="#ffa4a4"/>
<path d="M1489 1238L1514 1224L1498 1191L1472 1205z" fill="#ff1818"/>
<path d="M869 1193L888 1158L882 1154L864 1189z" fill="#ff2525"/>
<path d="M1393 1137L1421 1119L1411 1091L1383 1109z" fill="#ff4545"/>
<path d="M1546 1263L1570 1250L1533 1209L1509 1222z" fill="#ff0e0e"/>
<path d="M1365 1097L1380 1087L1370 1058L1355 1069z" fill="#ff5959"/>
<path d="M1474 1210L1476 1209L1466 1178L1464 1179z" fill="#ff1d1d"/>
<path d="M1308 1053L1333 1032L1323 1005L1297 1026z" fill="#ff7777"/>
<path d="M1015 1045L1020 1031L1002 1013L997 1027z" fill="#ff7272"/>
<path d="M989 1068L998 1037L996 1036L988 1067z" fill="#ff6363"/>
<path d="M1120 965L1127 956L1117 937L1110 947z" fill="#ffa8a8"/>
<path d="M1569 1255L1583 1247L1577 1242L1564 1249z" fill="#ff0a0a"/>
<path d="M1221 982L1239 963L1237 960L1219 979z" fill="#ff9c9c"/>
<path d="M1160 983L1180 957L1165 932L1144 959z" fill="#ffa5a5"/>
<path d="M1440 1192L1466 1177L1458 1153L1432 1168z" fill="#ff2828"/>
<path d="M1136 978L1150 959L1136 935L1122 954z" fill="#ffa6a6"/>
<path d="M936 1157L950 1125L929 1109L914 1142z" fill="#ff3939"/>
<path d="M1066 997L1077 970L1061 949L1050 977z" fill="#ff9898"/>
<path d="M1347 1082L1360 1072L1351 1049L1338 1059z" fill="#ff6262"/>
<path d="M1270 1027L1295 1004L1284 979L1260 1002z" fill="#ff8888"/>
<path d="M905 1173L905 1171L885 1157L884 1159z" fill="#ff2a2a"/>
<path d="M1011 1057L1017 1043L999 1025L994 1040z" fill="#ff6b6b"/>
<path d="M1038 1026L1048 998L1031 979L1021 1008z" fill="#ff8484"/>
<path d="M1098 975L1114 946L1110 940L1094 969z" fill="#ffa5a5"/>
<path d="M795 1242L797 1238L774 1224L771 1228z" fill="#ff0e0e"/>
<path d="M974 1118L984 1088L964 1071L954 1102z" fill="#ff4c4c"/>
<path d="M1755 1303L1786 1285L1718 1248L1687 1264z" fill="#ff0101"/>
<path d="M1441 1196L1468 1181L1465 1174L1439 1190z" fill="#ff2222"/>
<path d="M1086 992L1099 966L1084 945L1071 971z" fill="#ff9e9e"/>
<path d="M982 1093L991 1062L989 1061L980 1092z" fill="#ff5757"/>
<path d="M1232 1004L1249 988L1237 962L1220 979z" fill="#ff9696"/>
<path d="M1256 1013L1265 1004L1253 977L1244 985z" fill="#ff8f8f"/>
<path d="M1402 1161L1429 1145L1419 1115L1392 1133z" fill="#ff3a3a"/>
<path d="M1004 1082L1013 1053L996 1037L987 1067z" fill="#ff6161"/>
<path d="M1374 1122L1389 1112L1378 1082L1363 1093z" fill="#ff4d4d"/>
<path d="M1316 1075L1341 1055L1331 1029L1306 1049z" fill="#ff6b6b"/>
<path d="M1106 988L1123 960L1113 945L1096 973z" fill="#ffa0a0"/>
<path d="M1031 1049L1040 1023L1023 1004L1014 1032z" fill="#ff7676"/>
<path d="M1132 985L1138 976L1124 951L1118 960z" fill="#ffa0a0"/>
<path d="M1058 1019L1068 994L1052 973L1042 1000z" fill="#ff8b8b"/>
<path d="M886 1203L905 1170L886 1157L868 1191z" fill="#ff2424"/>
<path d="M1355 1105L1368 1096L1358 1068L1345 1077z" fill="#ff5858"/>
<path d="M1201 1002L1224 976L1212 955L1189 980z" fill="#ff9a9a"/>
<path d="M1489 1239L1491 1238L1474 1203L1472 1204z" fill="#ff1717"/>
<path d="M1451 1222L1476 1208L1466 1179L1441 1193z" fill="#ff1d1d"/>
<path d="M1279 1049L1303 1027L1293 1001L1268 1024z" fill="#ff7d7d"/>
<path d="M965 1143L976 1114L956 1098L945 1128z" fill="#ff4141"/>
<path d="M1317 1080L1343 1059L1340 1053L1315 1074z" fill="#ff6464"/>
<path d="M973 1119L983 1088L982 1086L972 1118z" fill="#ff4b4b"/>
<path d="M1088 997L1101 969L1097 964L1084 991z" fill="#ff9898"/>
<path d="M1028 1061L1034 1047L1016 1028L1011 1042z" fill="#ff6d6d"/>
<path d="M706 1280L777 1228L762 1219L692 1271z" fill="#ff0707"/>
<path d="M996 1106L1006 1077L989 1062L980 1092z" fill="#ff5555"/>
<path d="M1149 998L1163 980L1147 955L1133 974z" fill="#ff9b9b"/>
<path d="M921 1186L938 1153L917 1138L900 1171z" fill="#ff2e2e"/>
<path d="M849 1225L872 1187L867 1184L843 1221z" fill="#ff1b1b"/>
<path d="M1077 1015L1088 988L1074 968L1062 995z" fill="#ff9191"/>
<path d="M1174 1005L1195 980L1177 954L1157 980z" fill="#ff9a9a"/>
<path d="M1264 1034L1273 1026L1263 999L1253 1008z" fill="#ff8383"/>
<path d="M1411 1186L1438 1170L1427 1141L1400 1158z" fill="#ff3030"/>
<path d="M1639 1294L1655 1285L1593 1237L1577 1246z" fill="#ff0606"/>
<path d="M1382 1145L1397 1136L1387 1107L1372 1117z" fill="#ff4343"/>
<path d="M1242 1026L1258 1011L1247 984L1230 1000z" fill="#ff8a8a"/>
<path d="M1201 1004L1225 978L1223 974L1200 1001z" fill="#ff9494"/>
<path d="M1051 1043L1061 1016L1045 996L1035 1025z" fill="#ff7d7d"/>
<path d="M1547 1265L1574 1251L1569 1247L1542 1261z" fill="#ff0a0a"/>
<path d="M1025 1072L1030 1058L1013 1040L1007 1054z" fill="#ff6767"/>
<path d="M820 1255L848 1218L819 1200L792 1238z" fill="#ff1212"/>
<path d="M1325 1098L1350 1079L1342 1058L1316 1078z" fill="#ff5e5e"/>
<path d="M1117 1007L1134 981L1120 959L1103 985z" fill="#ff9999"/>
<path d="M1364 1129L1376 1121L1366 1092L1353 1100z" fill="#ff4c4c"/>
<path d="M1096 1010L1109 984L1099 969L1086 995z" fill="#ff9595"/>
<path d="M1287 1071L1312 1050L1301 1024L1277 1046z" fill="#ff7171"/>
<path d="M923 1186L923 1184L900 1168L900 1169z" fill="#ff2828"/>
<path d="M952 1170L967 1139L947 1123L933 1155z" fill="#ff3737"/>
<path d="M964 1144L975 1113L974 1112L963 1143z" fill="#ff4040"/>
<path d="M988 1131L998 1102L982 1087L972 1117z" fill="#ff4949"/>
<path d="M1524 1274L1548 1261L1511 1220L1487 1234z" fill="#ff0e0e"/>
<path d="M1145 1005L1151 997L1135 972L1129 980z" fill="#ff9696"/>
<path d="M1017 1096L1027 1068L1010 1051L1001 1080z" fill="#ff5d5d"/>
<path d="M1212 1025L1236 1001L1224 977L1200 1002z" fill="#ff8e8e"/>
<path d="M1079 1019L1090 991L1086 986L1075 1014z" fill="#ff8b8b"/>
<path d="M1069 1036L1080 1011L1065 991L1055 1017z" fill="#ff8484"/>
<path d="M1466 1250L1490 1237L1474 1204L1449 1218z" fill="#ff1717"/>
<path d="M1044 1065L1053 1039L1037 1021L1028 1047z" fill="#ff7171"/>
<path d="M1417 1205L1445 1190L1436 1166L1409 1182z" fill="#ff2626"/>
<path d="M1273 1056L1282 1048L1271 1021L1262 1029z" fill="#ff7878"/>
<path d="M1391 1170L1405 1161L1395 1131L1380 1140z" fill="#ff3838"/>
<path d="M1250 1047L1267 1032L1256 1007L1239 1022z" fill="#ff7f7f"/>
<path d="M1333 1121L1358 1103L1348 1076L1323 1095z" fill="#ff5454"/>
<path d="M1750 1305L1756 1302L1687 1263L1681 1267z" fill="#ff0101"/>
<path d="M866 1235L889 1199L871 1187L848 1223z" fill="#ff1a1a"/>
<path d="M1372 1152L1384 1144L1374 1116L1362 1124z" fill="#ff4141"/>
<path d="M1184 1023L1205 999L1192 977L1171 1002z" fill="#ff9191"/>
<path d="M1087 1031L1099 1005L1089 991L1077 1018z" fill="#ff8888"/>
<path d="M1041 1076L1046 1063L1030 1044L1024 1057z" fill="#ff6767"/>
<path d="M1296 1093L1320 1073L1310 1047L1285 1068z" fill="#ff6565"/>
<path d="M1163 1020L1177 1003L1160 977L1146 995z" fill="#ff9292"/>
<path d="M1418 1210L1446 1193L1444 1187L1416 1204z" fill="#ff2121"/>
<path d="M1107 1028L1121 1004L1106 982L1093 1007z" fill="#ff8d8d"/>
<path d="M1010 1120L1019 1092L1003 1076L993 1105z" fill="#ff5252"/>
<path d="M904 1215L923 1183L902 1168L883 1201z" fill="#ff2323"/>
<path d="M1630 1298L1640 1293L1577 1246L1568 1251z" fill="#ff0606"/>
<path d="M1062 1058L1072 1032L1058 1013L1048 1041z" fill="#ff7878"/>
<path d="M979 1155L990 1126L974 1113L963 1142z" fill="#ff3e3e"/>
<path d="M820 1257L823 1254L792 1235L790 1239z" fill="#ff0e0e"/>
<path d="M1072 1040L1081 1014L1077 1009L1068 1035z" fill="#ff7f7f"/>
<path d="M1130 1027L1147 1002L1131 979L1115 1004z" fill="#ff8f8f"/>
<path d="M1038 1087L1043 1074L1026 1055L1021 1069z" fill="#ff6161"/>
<path d="M952 1170L967 1138L965 1137L951 1170z" fill="#ff3636"/>
<path d="M1222 1046L1245 1023L1233 998L1210 1022z" fill="#ff8383"/>
<path d="M1281 1078L1290 1070L1280 1043L1270 1051z" fill="#ff6c6c"/>
<path d="M724 1291L795 1239L776 1227L705 1279z" fill="#ff0606"/>
<path d="M1297 1098L1322 1076L1319 1070L1294 1092z" fill="#ff5f5f"/>
<path d="M1428 1235L1454 1220L1444 1191L1417 1207z" fill="#ff1c1c"/>
<path d="M1184 1025L1205 1000L1203 996L1182 1022z" fill="#ff8c8c"/>
<path d="M1399 1193L1414 1185L1403 1156L1389 1165z" fill="#ff2e2e"/>
<path d="M938 1198L955 1166L935 1151L918 1184z" fill="#ff2c2c"/>
<path d="M1342 1144L1367 1127L1356 1099L1331 1118z" fill="#ff4949"/>
<path d="M1259 1068L1275 1054L1264 1028L1248 1043z" fill="#ff7474"/>
<path d="M1523 1274L1525 1273L1487 1233L1486 1234z" fill="#ff0e0e"/>
<path d="M824 1258L852 1220L847 1216L818 1255z" fill="#ff1212"/>
<path d="M1080 1052L1090 1027L1080 1013L1070 1039z" fill="#ff7d7d"/>
<path d="M1381 1176L1393 1169L1382 1139L1370 1147z" fill="#ff3737"/>
<path d="M1159 1026L1165 1019L1148 992L1142 1000z" fill="#ff8d8d"/>
<path d="M1055 1080L1065 1055L1050 1037L1041 1063z" fill="#ff6b6b"/>
<path d="M1002 1144L1012 1115L995 1100L985 1129z" fill="#ff4747"/>
<path d="M1030 1110L1039 1083L1023 1066L1014 1094z" fill="#ff5959"/>
<path d="M1064 1063L1074 1035L1070 1030L1060 1058z" fill="#ff7373"/>
<path d="M1099 1049L1110 1024L1096 1004L1084 1029z" fill="#ff8181"/>
<path d="M1304 1115L1329 1096L1320 1075L1296 1095z" fill="#ff5a5a"/>
<path d="M967 1182L981 1151L965 1138L951 1169z" fill="#ff3535"/>
<path d="M1195 1046L1216 1022L1204 999L1183 1023z" fill="#ff8686"/>
<path d="M1525 1277L1552 1262L1548 1258L1520 1272z" fill="#ff0909"/>
<path d="M939 1198L940 1196L919 1181L918 1182z" fill="#ff2727"/>
<path d="M1052 1090L1058 1078L1043 1059L1037 1072z" fill="#ff6363"/>
<path d="M1173 1037L1187 1020L1174 999L1160 1016z" fill="#ff8989"/>
<path d="M1230 1066L1254 1044L1243 1020L1219 1044z" fill="#ff7979"/>
<path d="M1120 1047L1133 1024L1117 1001L1104 1025z" fill="#ff8585"/>
<path d="M1289 1099L1299 1092L1288 1065L1279 1073z" fill="#ff6262"/>
<path d="M1406 1213L1421 1204L1412 1180L1397 1189z" fill="#ff2525"/>
<path d="M1072 1074L1082 1047L1072 1035L1062 1062z" fill="#ff7171"/>
<path d="M1350 1167L1375 1150L1365 1123L1340 1141z" fill="#ff3f3f"/>
<path d="M1267 1090L1284 1076L1273 1050L1256 1064z" fill="#ff6a6a"/>
<path d="M1022 1133L1032 1106L1016 1090L1007 1118z" fill="#ff4d4d"/>
<path d="M1057 1084L1066 1057L1062 1053L1053 1079z" fill="#ff6868"/>
<path d="M937 1198L955 1165L953 1164L936 1197z" fill="#ff2b2b"/>
<path d="M1049 1101L1054 1088L1039 1070L1034 1083z" fill="#ff5d5d"/>
<path d="M992 1167L1004 1139L987 1125L976 1154z" fill="#ff3d3d"/>
<path d="M1145 1047L1161 1023L1144 999L1127 1024z" fill="#ff8787"/>
<path d="M1389 1200L1402 1192L1391 1164L1379 1171z" fill="#ff2d2d"/>
<path d="M1091 1069L1101 1045L1087 1025L1077 1050z" fill="#ff7676"/>
<path d="M1443 1262L1469 1249L1452 1216L1426 1231z" fill="#ff1616"/>
<path d="M1608 1309L1631 1297L1569 1250L1546 1262z" fill="#ff0606"/>
<path d="M884 1246L907 1211L886 1197L863 1233z" fill="#ff1a1a"/>
<path d="M1313 1137L1337 1119L1327 1093L1302 1112z" fill="#ff5151"/>
<path d="M1501 1286L1524 1273L1487 1233L1463 1246z" fill="#ff0d0d"/>
<path d="M1406 1217L1423 1207L1421 1200L1404 1210z" fill="#ff2020"/>
<path d="M1718 1322L1750 1304L1682 1266L1650 1283z" fill="#ff0101"/>
<path d="M1173 1040L1188 1021L1186 1017L1171 1036z" fill="#ff8484"/>
<path d="M1290 1104L1302 1095L1298 1087L1286 1097z" fill="#ff5c5c"/>
<path d="M840 1268L868 1230L851 1219L823 1257z" fill="#ff1111"/>
<path d="M824 1261L828 1255L819 1250L815 1255z" fill="#ff0e0e"/>
<path d="M1054 1094L1060 1079L1055 1074L1049 1090z" fill="#ff6060"/>
<path d="M921 1227L940 1195L920 1181L901 1214z" fill="#ff2323"/>
<path d="M1169 1044L1176 1036L1162 1014L1156 1022z" fill="#ff8585"/>
<path d="M1041 1123L1051 1097L1036 1081L1027 1108z" fill="#ff5555"/>
<path d="M1065 1094L1075 1069L1065 1057L1055 1083z" fill="#ff6565"/>
<path d="M1205 1066L1225 1044L1214 1019L1193 1043z" fill="#ff7c7c"/>
<path d="M1239 1087L1262 1065L1251 1041L1228 1063z" fill="#ff6f6f"/>
<path d="M1112 1067L1123 1044L1107 1022L1095 1046z" fill="#ff7a7a"/>
<path d="M1014 1156L1025 1128L1009 1114L999 1142z" fill="#ff4343"/>
<path d="M939 1200L942 1195L937 1192L934 1197z" fill="#ff2727"/>
<path d="M1359 1190L1384 1174L1373 1146L1348 1163z" fill="#ff3535"/>
<path d="M1051 1105L1056 1089L1051 1084L1046 1100z" fill="#ff5b5b"/>
<path d="M1276 1111L1292 1098L1281 1072L1265 1085z" fill="#ff5f5f"/>
<path d="M1298 1121L1308 1114L1299 1092L1289 1100z" fill="#ff5757"/>
<path d="M1416 1242L1431 1234L1421 1205L1406 1213z" fill="#ff1c1c"/>
<path d="M952 1209L969 1177L953 1165L936 1197z" fill="#ff2c2c"/>
<path d="M1084 1089L1094 1065L1079 1046L1069 1072z" fill="#ff6b6b"/>
<path d="M1527 1278L1530 1276L1522 1269L1519 1271z" fill="#ff0909"/>
<path d="M1184 1060L1199 1043L1186 1020L1172 1036z" fill="#ff7f7f"/>
<path d="M1396 1219L1409 1212L1400 1187L1387 1195z" fill="#ff2424"/>
<path d="M1062 1104L1068 1091L1057 1078L1051 1092z" fill="#ff5d5d"/>
<path d="M980 1193L995 1163L979 1149L964 1180z" fill="#ff3333"/>
<path d="M1169 1046L1177 1035L1174 1032L1166 1042z" fill="#ff8080"/>
<path d="M1321 1160L1346 1142L1335 1116L1311 1134z" fill="#ff4646"/>
<path d="M1135 1066L1148 1044L1130 1021L1117 1044z" fill="#ff7c7c"/>
<path d="M1033 1145L1043 1119L1029 1104L1019 1131z" fill="#ff4a4a"/>
<path d="M1043 1127L1052 1099L1048 1095L1039 1123z" fill="#ff5252"/>
<path d="M1276 1115L1294 1100L1291 1094L1273 1109z" fill="#ff5959"/>
<path d="M1155 1064L1172 1040L1159 1020L1142 1045z" fill="#ff7e7e"/>
<path d="M1059 1115L1065 1101L1054 1089L1048 1102z" fill="#ff5858"/>
<path d="M1396 1223L1411 1215L1408 1208L1393 1216z" fill="#ff2020"/>
<path d="M1104 1086L1114 1064L1098 1043L1088 1066z" fill="#ff7070"/>
<path d="M1005 1179L1017 1152L1001 1138L989 1166z" fill="#ff3a3a"/>
<path d="M920 1227L940 1194L938 1193L919 1226z" fill="#ff2222"/>
<path d="M1213 1085L1234 1064L1223 1041L1202 1063z" fill="#ff7171"/>
<path d="M1247 1108L1271 1087L1260 1062L1236 1084z" fill="#ff6464"/>
<path d="M954 1209L955 1207L936 1194L935 1195z" fill="#ff2626"/>
<path d="M1077 1109L1086 1086L1072 1068L1062 1092z" fill="#ff6060"/>
<path d="M1307 1143L1316 1137L1305 1109L1296 1116z" fill="#ff4d4d"/>
<path d="M841 1270L844 1266L823 1253L820 1257z" fill="#ff0d0d"/>
<path d="M750 1307L821 1254L794 1238L724 1290z" fill="#ff0606"/>
<path d="M1180 1066L1187 1059L1174 1034L1168 1041z" fill="#ff7b7b"/>
<path d="M1367 1213L1392 1198L1382 1170L1357 1186z" fill="#ff2c2c"/>
<path d="M1284 1132L1301 1119L1292 1098L1275 1112z" fill="#ff5454"/>
<path d="M1051 1136L1061 1110L1051 1099L1041 1126z" fill="#ff5050"/>
<path d="M1194 1079L1208 1064L1196 1040L1182 1056z" fill="#ff7575"/>
<path d="M1406 1247L1419 1241L1408 1212L1396 1219z" fill="#ff1b1b"/>
<path d="M1155 1066L1172 1041L1170 1038L1153 1063z" fill="#ff7a7a"/>
<path d="M1025 1167L1036 1141L1022 1127L1011 1154z" fill="#ff4141"/>
<path d="M1330 1181L1354 1165L1344 1139L1319 1156z" fill="#ff3c3c"/>
<path d="M1036 1149L1045 1121L1041 1117L1032 1145z" fill="#ff4949"/>
<path d="M1432 1269L1446 1261L1428 1229L1414 1237z" fill="#ff1616"/>
<path d="M1074 1119L1079 1107L1064 1088L1059 1101z" fill="#ff5959"/>
<path d="M1126 1086L1137 1064L1120 1041L1108 1064z" fill="#ff7272"/>
<path d="M1097 1106L1107 1082L1090 1063L1080 1087z" fill="#ff6565"/>
<path d="M1502 1288L1528 1275L1524 1270L1497 1284z" fill="#ff0808"/>
<path d="M900 1257L923 1222L904 1209L881 1245z" fill="#ff1919"/>
<path d="M935 1237L954 1205L938 1194L919 1226z" fill="#ff2222"/>
<path d="M965 1219L982 1188L967 1176L949 1207z" fill="#ff2a2a"/>
<path d="M858 1279L886 1242L866 1229L838 1266z" fill="#ff1111"/>
<path d="M1070 1129L1076 1117L1061 1099L1055 1111z" fill="#ff5555"/>
<path d="M1222 1105L1242 1084L1232 1061L1211 1082z" fill="#ff6969"/>
<path d="M1256 1128L1279 1108L1268 1084L1245 1104z" fill="#ff5a5a"/>
<path d="M1145 1082L1158 1061L1145 1041L1131 1064z" fill="#ff7676"/>
<path d="M993 1203L1007 1174L992 1161L977 1191z" fill="#ff3232"/>
<path d="M1315 1165L1324 1159L1314 1132L1305 1138z" fill="#ff4444"/>
<path d="M1374 1232L1399 1217L1391 1194L1366 1210z" fill="#ff2323"/>
<path d="M1166 1085L1183 1063L1170 1040L1153 1064z" fill="#ff7676"/>
<path d="M1044 1157L1053 1131L1044 1121L1034 1148z" fill="#ff4747"/>
<path d="M1586 1321L1610 1308L1547 1261L1524 1274z" fill="#ff0505"/>
<path d="M1478 1298L1503 1284L1466 1244L1441 1258z" fill="#ff0d0d"/>
<path d="M1293 1154L1309 1142L1299 1115L1282 1128z" fill="#ff4b4b"/>
<path d="M1190 1085L1196 1078L1184 1054L1178 1061z" fill="#ff7171"/>
<path d="M1027 1171L1038 1143L1034 1139L1024 1167z" fill="#ff3f3f"/>
<path d="M1016 1190L1028 1163L1014 1150L1002 1177z" fill="#ff3838"/>
<path d="M1090 1125L1099 1102L1083 1083L1073 1107z" fill="#ff5b5b"/>
<path d="M1063 1149L1072 1125L1058 1109L1048 1134z" fill="#ff4d4d"/>
<path d="M1119 1104L1129 1083L1111 1061L1101 1083z" fill="#ff6969"/>
<path d="M1202 1098L1217 1083L1205 1060L1191 1075z" fill="#ff6c6c"/>
<path d="M1338 1204L1363 1188L1352 1161L1328 1178z" fill="#ff3333"/>
<path d="M1703 1329L1720 1320L1651 1282L1634 1291z" fill="#ff0101"/>
<path d="M1257 1132L1281 1111L1278 1106L1254 1127z" fill="#ff5555"/>
<path d="M1375 1236L1401 1220L1399 1214L1373 1230z" fill="#ff1f1f"/>
<path d="M967 1219L968 1218L950 1204L949 1205z" fill="#ff2525"/>
<path d="M1145 1085L1158 1061L1156 1058L1143 1082z" fill="#ff7171"/>
<path d="M1422 1274L1434 1268L1416 1236L1404 1242z" fill="#ff1515"/>
<path d="M900 1257L924 1222L922 1221L899 1256z" fill="#ff1818"/>
<path d="M1230 1125L1251 1105L1240 1081L1219 1102z" fill="#ff5f5f"/>
<path d="M1035 1179L1046 1152L1036 1143L1026 1170z" fill="#ff3e3e"/>
<path d="M1087 1134L1092 1123L1075 1103L1070 1115z" fill="#ff5454"/>
<path d="M1323 1187L1333 1181L1322 1154L1313 1160z" fill="#ff3a3a"/>
<path d="M1136 1101L1148 1079L1134 1061L1123 1083z" fill="#ff6c6c"/>
<path d="M1264 1149L1288 1129L1279 1110L1255 1130z" fill="#ff5151"/>
<path d="M754 1309L826 1257L820 1254L749 1306z" fill="#ff0606"/>
<path d="M1301 1175L1318 1164L1307 1137L1291 1149z" fill="#ff4242"/>
<path d="M1385 1259L1409 1245L1399 1218L1374 1233z" fill="#ff1a1a"/>
<path d="M1018 1192L1030 1165L1026 1162L1014 1189z" fill="#ff3737"/>
<path d="M1055 1170L1065 1145L1051 1130L1041 1155z" fill="#ff4343"/>
<path d="M1175 1103L1192 1082L1180 1060L1163 1082z" fill="#ff6d6d"/>
<path d="M859 1281L861 1277L839 1263L836 1267z" fill="#ff0d0d"/>
<path d="M1111 1123L1121 1101L1103 1080L1093 1103z" fill="#ff5f5f"/>
<path d="M1083 1144L1089 1132L1072 1113L1067 1125z" fill="#ff5050"/>
<path d="M1198 1104L1205 1097L1193 1073L1187 1080z" fill="#ff6969"/>
<path d="M1156 1103L1169 1082L1156 1060L1143 1082z" fill="#ff6d6d"/>
<path d="M978 1229L995 1199L980 1187L963 1218z" fill="#ff2828"/>
<path d="M1211 1117L1225 1103L1214 1079L1200 1094z" fill="#ff6363"/>
<path d="M1003 1214L1019 1185L1005 1173L990 1202z" fill="#ff2f2f"/>
<path d="M1347 1226L1371 1211L1361 1184L1336 1200z" fill="#ff2a2a"/>
<path d="M948 1247L967 1216L952 1204L933 1235z" fill="#ff2020"/>
<path d="M1585 1321L1587 1320L1525 1273L1523 1274z" fill="#ff0505"/>
<path d="M1136 1103L1148 1079L1146 1077L1134 1101z" fill="#ff6868"/>
<path d="M914 1266L938 1232L922 1221L899 1256z" fill="#ff1818"/>
<path d="M1026 1200L1038 1174L1028 1165L1017 1191z" fill="#ff3636"/>
<path d="M1075 1163L1085 1140L1069 1123L1059 1147z" fill="#ff4949"/>
<path d="M1128 1119L1139 1098L1125 1080L1115 1102z" fill="#ff6363"/>
<path d="M1239 1144L1259 1126L1249 1102L1228 1121z" fill="#ff5656"/>
<path d="M1273 1169L1296 1151L1286 1127L1262 1146z" fill="#ff4848"/>
<path d="M1332 1209L1341 1203L1330 1175L1321 1181z" fill="#ff3131"/>
<path d="M1695 1334L1704 1328L1635 1290L1626 1295z" fill="#ff0101"/>
<path d="M1104 1141L1113 1120L1095 1100L1086 1122z" fill="#ff5656"/>
<path d="M875 1289L903 1253L884 1240L856 1277z" fill="#ff1111"/>
<path d="M1047 1190L1057 1165L1043 1151L1033 1177z" fill="#ff3b3b"/>
<path d="M1310 1196L1326 1185L1316 1159L1299 1171z" fill="#ff3838"/>
<path d="M1467 1304L1480 1296L1442 1257L1429 1264z" fill="#ff0d0d"/>
<path d="M979 1229L980 1228L963 1214L962 1216z" fill="#ff2323"/>
<path d="M1479 1300L1507 1286L1502 1281L1474 1296z" fill="#ff0808"/>
<path d="M1184 1121L1201 1101L1190 1079L1173 1101z" fill="#ff6464"/>
<path d="M1207 1123L1213 1116L1202 1092L1196 1098z" fill="#ff6060"/>
<path d="M1006 1216L1021 1187L1017 1184L1002 1213z" fill="#ff2f2f"/>
<path d="M1147 1120L1159 1099L1146 1079L1134 1101z" fill="#ff6565"/>
<path d="M1354 1244L1378 1230L1370 1207L1345 1223z" fill="#ff2222"/>
<path d="M1219 1136L1234 1123L1222 1099L1208 1113z" fill="#ff5b5b"/>
<path d="M1165 1120L1179 1101L1166 1079L1153 1099z" fill="#ff6666"/>
<path d="M770 1319L841 1267L825 1256L754 1309z" fill="#ff0606"/>
<path d="M1240 1148L1261 1128L1258 1123L1237 1143z" fill="#ff5050"/>
<path d="M1400 1286L1424 1273L1407 1241L1383 1255z" fill="#ff1515"/>
<path d="M1101 1150L1106 1139L1088 1119L1083 1130z" fill="#ff4f4f"/>
<path d="M1129 1121L1139 1098L1137 1095L1127 1118z" fill="#ff6060"/>
<path d="M1068 1183L1078 1159L1062 1143L1052 1168z" fill="#ff4040"/>
<path d="M1121 1137L1131 1115L1118 1098L1108 1121z" fill="#ff5a5a"/>
<path d="M989 1238L1006 1209L993 1198L975 1228z" fill="#ff2727"/>
<path d="M1098 1159L1103 1148L1085 1128L1079 1140z" fill="#ff4b4b"/>
<path d="M1355 1248L1380 1233L1378 1227L1352 1242z" fill="#ff1d1d"/>
<path d="M1563 1332L1586 1320L1524 1273L1501 1285z" fill="#ff0505"/>
<path d="M1282 1190L1305 1173L1294 1148L1271 1166z" fill="#ff3f3f"/>
<path d="M1037 1211L1049 1186L1035 1173L1024 1198z" fill="#ff3333"/>
<path d="M1013 1223L1029 1195L1019 1187L1004 1215z" fill="#ff2e2e"/>
<path d="M1341 1231L1350 1225L1339 1198L1330 1204z" fill="#ff2828"/>
<path d="M1247 1164L1268 1146L1259 1127L1238 1146z" fill="#ff4c4c"/>
<path d="M961 1256L980 1226L965 1214L946 1245z" fill="#ff1f1f"/>
<path d="M1319 1218L1335 1208L1324 1181L1308 1192z" fill="#ff3030"/>
<path d="M874 1289L903 1252L902 1252L873 1288z" fill="#ff1010"/>
<path d="M1140 1137L1150 1117L1137 1097L1127 1118z" fill="#ff5d5d"/>
<path d="M1192 1139L1209 1120L1198 1098L1181 1118z" fill="#ff5c5c"/>
<path d="M1215 1142L1222 1136L1211 1111L1204 1117z" fill="#ff5858"/>
<path d="M1121 1139L1131 1115L1129 1113L1119 1137z" fill="#ff5757"/>
<path d="M927 1275L951 1242L936 1231L912 1265z" fill="#ff1818"/>
<path d="M1228 1156L1242 1143L1231 1119L1217 1132z" fill="#ff5252"/>
<path d="M1114 1154L1123 1133L1110 1117L1101 1139z" fill="#ff5151"/>
<path d="M875 1291L878 1287L856 1274L854 1278z" fill="#ff0d0d"/>
<path d="M1060 1203L1070 1179L1054 1164L1044 1188z" fill="#ff3838"/>
<path d="M1090 1178L1099 1156L1082 1138L1072 1161z" fill="#ff4444"/>
<path d="M1457 1309L1468 1303L1430 1263L1419 1270z" fill="#ff0d0d"/>
<path d="M1157 1137L1168 1117L1156 1097L1144 1117z" fill="#ff5e5e"/>
<path d="M1364 1271L1389 1257L1378 1231L1354 1245z" fill="#ff1a1a"/>
<path d="M1174 1137L1187 1118L1176 1098L1162 1117z" fill="#ff5e5e"/>
<path d="M990 1239L991 1237L976 1224L975 1226z" fill="#ff2323"/>
<path d="M991 1241L1008 1211L1005 1208L987 1238z" fill="#ff2626"/>
<path d="M1673 1345L1695 1333L1626 1294L1604 1306z" fill="#ff0101"/>
<path d="M1290 1210L1313 1194L1303 1169L1280 1187z" fill="#ff3737"/>
<path d="M1256 1184L1277 1167L1266 1143L1245 1161z" fill="#ff4444"/>
<path d="M1348 1249L1357 1244L1348 1220L1339 1226z" fill="#ff2121"/>
<path d="M1111 1163L1116 1152L1103 1135L1097 1146z" fill="#ff4b4b"/>
<path d="M1132 1154L1142 1133L1129 1115L1119 1137z" fill="#ff5555"/>
<path d="M1229 1160L1244 1145L1241 1139L1225 1154z" fill="#ff4d4d"/>
<path d="M1025 1233L1040 1206L1026 1194L1011 1222z" fill="#ff2c2c"/>
<path d="M889 1298L917 1262L902 1252L874 1288z" fill="#ff1010"/>
<path d="M1114 1156L1123 1133L1121 1131L1112 1154z" fill="#ff5050"/>
<path d="M1327 1239L1344 1229L1333 1203L1316 1214z" fill="#ff2828"/>
<path d="M1082 1197L1092 1175L1074 1157L1064 1181z" fill="#ff3d3d"/>
<path d="M1201 1158L1218 1139L1207 1117L1190 1136z" fill="#ff5555"/>
<path d="M1224 1160L1230 1155L1219 1131L1213 1136z" fill="#ff4f4f"/>
<path d="M1467 1307L1484 1298L1479 1292L1462 1301z" fill="#ff0808"/>
<path d="M1107 1172L1113 1161L1099 1144L1094 1156z" fill="#ff4747"/>
<path d="M1149 1153L1160 1134L1147 1114L1137 1134z" fill="#ff5656"/>
<path d="M1050 1222L1062 1199L1046 1184L1034 1209z" fill="#ff3030"/>
<path d="M999 1247L1016 1218L1007 1210L990 1240z" fill="#ff2525"/>
<path d="M1348 1253L1360 1246L1357 1239L1345 1246z" fill="#ff1d1d"/>
<path d="M1182 1155L1196 1137L1184 1115L1171 1134z" fill="#ff5656"/>
<path d="M1165 1153L1177 1134L1165 1114L1154 1134z" fill="#ff5858"/>
<path d="M993 1242L995 1239L987 1233L986 1235z" fill="#ff2222"/>
<path d="M971 1264L991 1235L978 1224L958 1254z" fill="#ff1e1e"/>
<path d="M1237 1175L1251 1162L1242 1143L1227 1156z" fill="#ff4949"/>
<path d="M873 1292L879 1285L876 1283L870 1291z" fill="#ff0c0c"/>
<path d="M788 1329L859 1278L841 1266L769 1318z" fill="#ff0505"/>
<path d="M1111 1165L1117 1151L1114 1148L1108 1163z" fill="#ff4a4a"/>
<path d="M1125 1171L1135 1151L1122 1133L1112 1154z" fill="#ff4d4d"/>
<path d="M1380 1297L1403 1284L1386 1253L1363 1267z" fill="#ff1414"/>
<path d="M1225 1165L1233 1157L1229 1150L1220 1158z" fill="#ff4a4a"/>
<path d="M1100 1190L1109 1168L1096 1153L1086 1176z" fill="#ff4141"/>
<path d="M1299 1232L1322 1216L1311 1190L1288 1207z" fill="#ff2e2e"/>
<path d="M1265 1204L1285 1188L1275 1164L1254 1181z" fill="#ff3c3c"/>
<path d="M940 1284L964 1251L949 1241L925 1274z" fill="#ff1717"/>
<path d="M1107 1174L1113 1160L1111 1157L1105 1171z" fill="#ff4646"/>
<path d="M1359 1275L1367 1270L1357 1243L1348 1248z" fill="#ff1919"/>
<path d="M1334 1257L1351 1247L1342 1225L1325 1235z" fill="#ff2020"/>
<path d="M1074 1216L1084 1193L1067 1177L1056 1201z" fill="#ff3434"/>
<path d="M1141 1169L1152 1150L1139 1131L1129 1152z" fill="#ff5050"/>
<path d="M1001 1247L1002 1246L990 1236L989 1237z" fill="#ff2121"/>
<path d="M1210 1176L1226 1158L1215 1136L1198 1154z" fill="#ff4d4d"/>
<path d="M1435 1320L1458 1307L1421 1268L1398 1281z" fill="#ff0c0c"/>
<path d="M1122 1179L1128 1169L1114 1150L1109 1161z" fill="#ff4747"/>
<path d="M1158 1168L1168 1150L1156 1131L1146 1150z" fill="#ff5151"/>
<path d="M1233 1180L1239 1174L1230 1154L1223 1160z" fill="#ff4646"/>
<path d="M974 1266L993 1237L990 1234L970 1264z" fill="#ff1d1d"/>
<path d="M1245 1194L1259 1183L1248 1159L1234 1171z" fill="#ff4141"/>
<path d="M889 1300L892 1296L874 1285L871 1289z" fill="#ff0c0c"/>
<path d="M1010 1257L1027 1229L1014 1217L997 1246z" fill="#ff2424"/>
<path d="M1038 1244L1053 1218L1037 1205L1022 1231z" fill="#ff2a2a"/>
<path d="M1191 1172L1204 1155L1193 1133L1180 1151z" fill="#ff5050"/>
<path d="M1174 1170L1185 1152L1174 1131L1162 1150z" fill="#ff5151"/>
<path d="M1541 1344L1565 1331L1502 1284L1478 1297z" fill="#ff0505"/>
<path d="M1457 1312L1472 1304L1467 1298L1452 1306z" fill="#ff0808"/>
<path d="M1100 1191L1109 1168L1107 1166L1098 1189z" fill="#ff4040"/>
<path d="M1335 1261L1353 1250L1350 1244L1332 1255z" fill="#ff1d1d"/>
<path d="M1119 1187L1124 1177L1111 1159L1105 1170z" fill="#ff4343"/>
<path d="M1092 1208L1102 1186L1089 1172L1079 1195z" fill="#ff3a3a"/>
<path d="M902 1306L930 1271L916 1261L887 1296z" fill="#ff1010"/>
<path d="M1211 1179L1228 1160L1225 1155L1208 1174z" fill="#ff4848"/>
<path d="M1273 1224L1294 1208L1283 1184L1262 1201z" fill="#ff3434"/>
<path d="M1135 1185L1144 1166L1132 1148L1122 1168z" fill="#ff4848"/>
<path d="M1308 1252L1331 1237L1320 1212L1297 1228z" fill="#ff2727"/>
<path d="M1065 1235L1076 1212L1059 1197L1047 1220z" fill="#ff2e2e"/>
<path d="M981 1272L1001 1243L992 1236L973 1266z" fill="#ff1d1d"/>
<path d="M1150 1184L1160 1165L1149 1147L1138 1167z" fill="#ff4a4a"/>
<path d="M1345 1283L1361 1274L1350 1247L1334 1257z" fill="#ff1818"/>
<path d="M1111 1204L1121 1184L1108 1168L1098 1189z" fill="#ff3d3d"/>
<path d="M1012 1257L1013 1255L997 1242L996 1244z" fill="#ff2020"/>
<path d="M1241 1199L1248 1194L1237 1169L1230 1175z" fill="#ff3f3f"/>
<path d="M1092 1209L1102 1186L1100 1184L1090 1208z" fill="#ff3838"/>
<path d="M1218 1194L1235 1177L1226 1159L1209 1177z" fill="#ff4444"/>
<path d="M1166 1184L1177 1167L1165 1147L1154 1165z" fill="#ff4b4b"/>
<path d="M1374 1300L1382 1296L1365 1265L1356 1270z" fill="#ff1313"/>
<path d="M1254 1214L1268 1203L1257 1178L1243 1190z" fill="#ff3939"/>
<path d="M1132 1193L1137 1183L1124 1165L1119 1175z" fill="#ff4343"/>
<path d="M950 1292L975 1260L962 1250L938 1283z" fill="#ff1616"/>
<path d="M1200 1189L1213 1173L1202 1152L1188 1168z" fill="#ff4848"/>
<path d="M1182 1186L1194 1169L1183 1149L1171 1166z" fill="#ff4a4a"/>
<path d="M1084 1226L1094 1204L1081 1191L1071 1214z" fill="#ff3232"/>
<path d="M1651 1357L1674 1344L1605 1305L1582 1317z" fill="#ff0101"/>
<path d="M1128 1201L1134 1191L1121 1173L1115 1183z" fill="#ff3f3f"/>
<path d="M1315 1269L1338 1255L1329 1234L1306 1249z" fill="#ff2020"/>
<path d="M804 1339L876 1288L858 1276L787 1328z" fill="#ff0505"/>
<path d="M1282 1244L1303 1230L1291 1205L1271 1220z" fill="#ff2c2c"/>
<path d="M1023 1267L1040 1240L1025 1227L1007 1255z" fill="#ff2222"/>
<path d="M1143 1199L1153 1181L1141 1163L1131 1182z" fill="#ff4343"/>
<path d="M1103 1221L1113 1200L1100 1186L1090 1208z" fill="#ff3737"/>
<path d="M1052 1256L1067 1231L1050 1216L1035 1242z" fill="#ff2828"/>
<path d="M1200 1193L1214 1175L1211 1170L1197 1188z" fill="#ff4444"/>
<path d="M902 1308L905 1304L887 1293L884 1297z" fill="#ff0c0c"/>
<path d="M993 1281L1012 1253L999 1242L980 1271z" fill="#ff1b1b"/>
<path d="M1158 1199L1169 1181L1157 1162L1147 1181z" fill="#ff4545"/>
<path d="M1084 1228L1095 1204L1093 1202L1082 1226z" fill="#ff3232"/>
<path d="M1227 1212L1244 1196L1233 1174L1216 1190z" fill="#ff3d3d"/>
<path d="M1250 1218L1256 1213L1245 1188L1239 1193z" fill="#ff3737"/>
<path d="M953 1293L977 1262L973 1259L949 1291z" fill="#ff1616"/>
<path d="M1436 1322L1462 1309L1458 1304L1432 1318z" fill="#ff0707"/>
<path d="M914 1314L943 1280L929 1270L900 1305z" fill="#ff0f0f"/>
<path d="M1120 1217L1130 1197L1118 1181L1108 1202z" fill="#ff3a3a"/>
<path d="M1175 1199L1185 1184L1174 1164L1163 1180z" fill="#ff4545"/>
<path d="M1315 1273L1340 1257L1337 1252L1313 1267z" fill="#ff1b1b"/>
<path d="M1074 1245L1086 1222L1073 1210L1061 1233z" fill="#ff2c2c"/>
<path d="M1262 1233L1276 1222L1266 1198L1252 1209z" fill="#ff3232"/>
<path d="M1140 1206L1146 1197L1134 1179L1128 1189z" fill="#ff3f3f"/>
<path d="M1191 1203L1203 1187L1191 1166L1179 1183z" fill="#ff4444"/>
<path d="M1360 1308L1376 1299L1358 1269L1343 1278z" fill="#ff1313"/>
<path d="M1415 1330L1437 1318L1400 1280L1378 1292z" fill="#ff0c0c"/>
<path d="M1529 1349L1542 1343L1479 1296L1467 1303z" fill="#ff0505"/>
<path d="M1208 1207L1222 1191L1212 1174L1199 1190z" fill="#ff4040"/>
<path d="M1024 1267L1025 1265L1008 1251L1007 1253z" fill="#ff1e1e"/>
<path d="M1137 1213L1142 1204L1130 1187L1125 1197z" fill="#ff3c3c"/>
<path d="M1095 1239L1106 1218L1093 1204L1082 1226z" fill="#ff3030"/>
<path d="M1291 1264L1311 1250L1300 1226L1280 1240z" fill="#ff2424"/>
<path d="M1152 1213L1161 1196L1150 1178L1140 1196z" fill="#ff3f3f"/>
<path d="M960 1299L985 1268L976 1261L952 1293z" fill="#ff1616"/>
<path d="M1325 1294L1348 1281L1338 1256L1315 1270z" fill="#ff1717"/>
<path d="M805 1339L876 1288L875 1287L804 1338z" fill="#ff0505"/>
<path d="M1074 1246L1086 1222L1084 1221L1073 1244z" fill="#ff2b2b"/>
<path d="M1192 1206L1204 1188L1201 1183L1189 1202z" fill="#ff4040"/>
<path d="M1112 1233L1123 1213L1110 1198L1100 1219z" fill="#ff3434"/>
<path d="M1167 1213L1178 1197L1166 1178L1155 1196z" fill="#ff3f3f"/>
<path d="M1236 1231L1253 1216L1241 1193L1225 1208z" fill="#ff3636"/>
<path d="M1258 1236L1265 1232L1254 1208L1248 1213z" fill="#ff3030"/>
<path d="M1183 1215L1194 1200L1182 1180L1172 1196z" fill="#ff3f3f"/>
<path d="M1129 1229L1139 1210L1127 1195L1117 1215z" fill="#ff3737"/>
<path d="M1271 1253L1285 1243L1274 1218L1260 1228z" fill="#ff2b2b"/>
<path d="M1149 1220L1154 1211L1142 1193L1137 1202z" fill="#ff3a3a"/>
<path d="M1037 1278L1054 1252L1038 1238L1020 1265z" fill="#ff2020"/>
<path d="M1217 1224L1230 1210L1219 1188L1206 1203z" fill="#ff3a3a"/>
<path d="M1061 1265L1077 1240L1064 1229L1049 1254z" fill="#ff2626"/>
<path d="M1005 1290L1025 1263L1010 1252L990 1279z" fill="#ff1a1a"/>
<path d="M1200 1219L1212 1204L1202 1187L1190 1203z" fill="#ff3d3d"/>
<path d="M1085 1256L1097 1235L1085 1222L1073 1244z" fill="#ff2b2b"/>
<path d="M915 1316L918 1312L900 1301L897 1305z" fill="#ff0b0b"/>
<path d="M925 1321L954 1287L941 1278L912 1313z" fill="#ff0f0f"/>
<path d="M1145 1227L1151 1218L1139 1200L1133 1209z" fill="#ff3737"/>
<path d="M1298 1280L1319 1267L1310 1246L1289 1260z" fill="#ff1e1e"/>
<path d="M1519 1354L1530 1349L1467 1302L1457 1308z" fill="#ff0505"/>
<path d="M818 1347L890 1296L876 1287L804 1339z" fill="#ff0505"/>
<path d="M1160 1227L1170 1211L1158 1193L1148 1210z" fill="#ff3a3a"/>
<path d="M1184 1219L1195 1201L1192 1197L1181 1214z" fill="#ff3b3b"/>
<path d="M1104 1250L1115 1229L1103 1215L1092 1237z" fill="#ff2e2e"/>
<path d="M971 1307L996 1276L983 1267L959 1298z" fill="#ff1515"/>
<path d="M1409 1333L1417 1329L1379 1291L1371 1296z" fill="#ff0b0b"/>
<path d="M1176 1228L1186 1212L1175 1193L1164 1210z" fill="#ff3b3b"/>
<path d="M1121 1244L1131 1225L1120 1211L1109 1231z" fill="#ff3131"/>
<path d="M1062 1266L1077 1241L1076 1239L1060 1264z" fill="#ff2525"/>
<path d="M1244 1248L1261 1234L1250 1212L1233 1227z" fill="#ff2f2f"/>
<path d="M1267 1256L1273 1252L1262 1227L1256 1231z" fill="#ff2929"/>
<path d="M1341 1318L1363 1306L1346 1277L1323 1290z" fill="#ff1212"/>
<path d="M1038 1278L1039 1276L1021 1262L1020 1263z" fill="#ff1c1c"/>
<path d="M1298 1284L1320 1269L1318 1264L1296 1278z" fill="#ff1b1b"/>
<path d="M1137 1241L1147 1223L1136 1208L1126 1226z" fill="#ff3333"/>
<path d="M1280 1272L1294 1262L1283 1238L1269 1248z" fill="#ff2424"/>
<path d="M1157 1233L1163 1225L1151 1207L1145 1215z" fill="#ff3737"/>
<path d="M1192 1231L1203 1217L1193 1200L1182 1216z" fill="#ff3939"/>
<path d="M1226 1242L1239 1229L1228 1206L1214 1220z" fill="#ff3333"/>
<path d="M1208 1236L1220 1222L1209 1201L1197 1216z" fill="#ff3737"/>
<path d="M1416 1333L1441 1319L1437 1315L1412 1328z" fill="#ff0707"/>
<path d="M927 1322L956 1289L953 1286L924 1320z" fill="#ff0f0f"/>
<path d="M1177 1231L1187 1214L1184 1209L1174 1227z" fill="#ff3737"/>
<path d="M1154 1240L1159 1232L1147 1214L1142 1222z" fill="#ff3434"/>
<path d="M1073 1276L1088 1252L1076 1240L1060 1264z" fill="#ff2424"/>
<path d="M1095 1267L1107 1246L1095 1233L1083 1254z" fill="#ff2828"/>
<path d="M1169 1241L1179 1226L1167 1207L1157 1223z" fill="#ff3636"/>
<path d="M1046 1286L1064 1260L1052 1250L1034 1276z" fill="#ff1f1f"/>
<path d="M1308 1304L1329 1292L1318 1268L1298 1280z" fill="#ff1717"/>
<path d="M1113 1260L1124 1241L1112 1227L1101 1248z" fill="#ff2b2b"/>
<path d="M1019 1301L1039 1275L1022 1262L1003 1288z" fill="#ff1919"/>
<path d="M1129 1256L1140 1238L1128 1223L1118 1242z" fill="#ff2f2f"/>
<path d="M1253 1267L1270 1254L1258 1231L1242 1244z" fill="#ff2929"/>
<path d="M926 1323L929 1319L913 1309L910 1313z" fill="#ff0b0b"/>
<path d="M1396 1340L1410 1332L1372 1295L1358 1303z" fill="#ff0a0a"/>
<path d="M1184 1243L1195 1228L1185 1213L1175 1229z" fill="#ff3535"/>
<path d="M1276 1275L1282 1271L1271 1247L1265 1251z" fill="#ff2323"/>
<path d="M935 1327L964 1294L956 1288L926 1322z" fill="#ff0e0e"/>
<path d="M1287 1288L1301 1279L1292 1258L1278 1268z" fill="#ff1e1e"/>
<path d="M1201 1247L1211 1234L1200 1213L1189 1227z" fill="#ff3434"/>
<path d="M1146 1254L1156 1237L1144 1221L1134 1239z" fill="#ff3030"/>
<path d="M1166 1247L1171 1239L1159 1221L1154 1229z" fill="#ff3232"/>
<path d="M984 1315L1008 1286L994 1275L970 1305z" fill="#ff1313"/>
<path d="M1234 1259L1247 1246L1236 1225L1223 1238z" fill="#ff2d2d"/>
<path d="M1217 1253L1229 1240L1217 1218L1206 1232z" fill="#ff3131"/>
<path d="M1170 1244L1180 1227L1177 1222L1167 1240z" fill="#ff3333"/>
<path d="M831 1355L903 1305L889 1296L818 1346z" fill="#ff0505"/>
<path d="M1498 1365L1520 1353L1457 1307L1436 1319z" fill="#ff0505"/>
<path d="M1047 1287L1065 1261L1063 1259L1045 1285z" fill="#ff1e1e"/>
<path d="M1048 1286L1049 1285L1035 1273L1034 1274z" fill="#ff1b1b"/>
<path d="M1162 1253L1168 1245L1156 1227L1150 1235z" fill="#ff3030"/>
<path d="M1288 1291L1303 1281L1301 1275L1285 1286z" fill="#ff1a1a"/>
<path d="M1103 1276L1115 1256L1104 1244L1092 1265z" fill="#ff2626"/>
<path d="M1082 1285L1097 1262L1086 1250L1070 1274z" fill="#ff2222"/>
<path d="M1121 1271L1132 1252L1121 1238L1110 1258z" fill="#ff2929"/>
<path d="M1178 1255L1188 1240L1178 1226L1168 1241z" fill="#ff3030"/>
<path d="M927 1326L932 1320L925 1315L921 1321z" fill="#ff0b0b"/>
<path d="M1167 1250L1173 1239L1169 1235L1162 1245z" fill="#ff3030"/>
<path d="M1193 1258L1204 1244L1192 1225L1182 1240z" fill="#ff3030"/>
<path d="M1138 1267L1149 1250L1137 1235L1126 1253z" fill="#ff2b2b"/>
<path d="M1410 1337L1421 1331L1416 1325L1404 1331z" fill="#ff0707"/>
<path d="M1284 1291L1290 1287L1280 1266L1274 1270z" fill="#ff1d1d"/>
<path d="M1262 1285L1279 1273L1267 1250L1251 1263z" fill="#ff2222"/>
<path d="M1324 1328L1344 1316L1326 1288L1306 1300z" fill="#ff1212"/>
<path d="M1058 1296L1076 1271L1064 1260L1046 1285z" fill="#ff1d1d"/>
<path d="M1210 1263L1220 1251L1208 1230L1198 1243z" fill="#ff2f2f"/>
<path d="M1154 1266L1165 1250L1153 1234L1143 1251z" fill="#ff2c2c"/>
<path d="M946 1335L975 1302L963 1293L933 1326z" fill="#ff0d0d"/>
<path d="M1049 1288L1051 1285L1046 1280L1043 1283z" fill="#ff1b1b"/>
<path d="M1163 1256L1170 1245L1166 1241L1159 1251z" fill="#ff2d2d"/>
<path d="M1243 1277L1256 1265L1245 1242L1232 1255z" fill="#ff2727"/>
<path d="M1298 1311L1312 1303L1301 1278L1287 1287z" fill="#ff1616"/>
<path d="M1225 1269L1237 1257L1226 1236L1214 1249z" fill="#ff2b2b"/>
<path d="M1175 1260L1180 1253L1170 1238L1164 1246z" fill="#ff2d2d"/>
<path d="M1029 1308L1049 1283L1037 1273L1017 1299z" fill="#ff1818"/>
<path d="M935 1330L939 1325L927 1318L924 1322z" fill="#ff0b0b"/>
<path d="M1284 1295L1292 1289L1289 1282L1280 1288z" fill="#ff1a1a"/>
<path d="M1112 1286L1124 1267L1113 1254L1100 1274z" fill="#ff2424"/>
<path d="M1186 1269L1196 1256L1184 1237L1175 1251z" fill="#ff2c2c"/>
<path d="M1171 1266L1177 1259L1167 1244L1161 1252z" fill="#ff2b2b"/>
<path d="M1155 1268L1166 1251L1163 1247L1152 1265z" fill="#ff2a2a"/>
<path d="M1130 1281L1141 1264L1129 1250L1118 1268z" fill="#ff2626"/>
<path d="M1376 1351L1397 1339L1359 1302L1338 1314z" fill="#ff0a0a"/>
<path d="M1090 1294L1106 1272L1095 1261L1079 1283z" fill="#ff2020"/>
<path d="M998 1325L1022 1296L1006 1284L982 1314z" fill="#ff1212"/>
<path d="M1059 1296L1060 1295L1046 1282L1045 1283z" fill="#ff1b1b"/>
<path d="M1147 1279L1157 1263L1146 1248L1135 1265z" fill="#ff2828"/>
<path d="M1202 1273L1212 1261L1201 1241L1190 1254z" fill="#ff2b2b"/>
<path d="M1269 1300L1286 1289L1277 1269L1260 1282z" fill="#ff1c1c"/>
<path d="M843 1362L915 1312L902 1304L831 1354z" fill="#ff0505"/>
<path d="M1029 1309L1050 1283L1048 1281L1028 1307z" fill="#ff1717"/>
<path d="M1294 1314L1300 1310L1289 1286L1283 1290z" fill="#ff1717"/>
<path d="M1396 1343L1414 1334L1409 1329L1391 1338z" fill="#ff0707"/>
<path d="M1218 1278L1228 1267L1217 1247L1207 1259z" fill="#ff2929"/>
<path d="M1067 1304L1085 1281L1073 1270L1055 1294z" fill="#ff1c1c"/>
<path d="M1235 1286L1246 1275L1234 1253L1223 1265z" fill="#ff2626"/>
<path d="M1184 1274L1189 1267L1177 1249L1172 1256z" fill="#ff2a2a"/>
<path d="M1252 1294L1265 1284L1254 1261L1241 1273z" fill="#ff2121"/>
<path d="M1163 1278L1174 1263L1164 1250L1153 1266z" fill="#ff2828"/>
<path d="M1270 1304L1288 1291L1285 1286L1267 1299z" fill="#ff1919"/>
<path d="M1148 1281L1158 1263L1155 1260L1145 1278z" fill="#ff2626"/>
<path d="M946 1336L950 1333L934 1323L931 1326z" fill="#ff0b0b"/>
<path d="M1314 1334L1327 1326L1309 1298L1296 1306z" fill="#ff1111"/>
<path d="M958 1343L988 1311L973 1301L944 1333z" fill="#ff0d0d"/>
<path d="M1180 1279L1185 1273L1173 1255L1168 1262z" fill="#ff2828"/>
<path d="M1120 1296L1133 1278L1121 1265L1109 1284z" fill="#ff2222"/>
<path d="M1195 1283L1205 1271L1193 1252L1183 1265z" fill="#ff2828"/>
<path d="M1040 1317L1060 1292L1048 1282L1028 1308z" fill="#ff1717"/>
<path d="M1478 1375L1499 1364L1437 1318L1416 1329z" fill="#ff0404"/>
<path d="M1138 1292L1150 1275L1138 1261L1127 1279z" fill="#ff2424"/>
<path d="M1099 1303L1115 1282L1104 1270L1088 1292z" fill="#ff1f1f"/>
<path d="M1210 1288L1221 1276L1209 1257L1199 1269z" fill="#ff2626"/>
<path d="M1069 1304L1070 1303L1056 1291L1055 1292z" fill="#ff1919"/>
<path d="M1280 1323L1296 1312L1285 1289L1269 1300z" fill="#ff1616"/>
<path d="M1155 1290L1166 1275L1156 1263L1146 1279z" fill="#ff2424"/>
<path d="M1227 1294L1237 1284L1225 1263L1215 1274z" fill="#ff2424"/>
<path d="M1172 1291L1182 1277L1170 1260L1160 1275z" fill="#ff2525"/>
<path d="M1259 1309L1273 1299L1263 1280L1250 1290z" fill="#ff1b1b"/>
<path d="M1075 1312L1093 1289L1083 1279L1065 1303z" fill="#ff1a1a"/>
<path d="M1192 1288L1197 1282L1185 1263L1180 1269z" fill="#ff2626"/>
<path d="M1244 1303L1255 1293L1243 1271L1232 1282z" fill="#ff2020"/>
<path d="M1008 1332L1032 1304L1021 1295L996 1323z" fill="#ff1212"/>
<path d="M1139 1294L1151 1276L1148 1273L1136 1291z" fill="#ff2222"/>
<path d="M854 1369L926 1319L915 1312L843 1361z" fill="#ff0505"/>
<path d="M1310 1336L1315 1333L1297 1305L1292 1309z" fill="#ff1111"/>
<path d="M1189 1293L1194 1287L1182 1268L1177 1275z" fill="#ff2525"/>
<path d="M1129 1305L1141 1288L1130 1275L1117 1293z" fill="#ff2020"/>
<path d="M1204 1297L1213 1286L1202 1267L1192 1279z" fill="#ff2424"/>
<path d="M1260 1312L1274 1300L1272 1295L1257 1307z" fill="#ff1919"/>
<path d="M1360 1360L1378 1349L1340 1312L1321 1323z" fill="#ff0a0a"/>
<path d="M1107 1312L1123 1292L1112 1280L1096 1301z" fill="#ff1d1d"/>
<path d="M1049 1325L1069 1301L1058 1291L1038 1316z" fill="#ff1616"/>
<path d="M1377 1353L1401 1340L1397 1336L1372 1349z" fill="#ff0707"/>
<path d="M1147 1303L1158 1287L1149 1275L1137 1292z" fill="#ff2121"/>
<path d="M1220 1303L1230 1293L1218 1272L1208 1284z" fill="#ff2222"/>
<path d="M1164 1302L1175 1288L1163 1272L1153 1287z" fill="#ff2222"/>
<path d="M1008 1332L1033 1304L1032 1303L1007 1331z" fill="#ff1111"/>
<path d="M959 1344L962 1341L945 1330L942 1333z" fill="#ff0a0a"/>
<path d="M1077 1312L1078 1311L1065 1299L1064 1300z" fill="#ff1818"/>
<path d="M1236 1310L1246 1301L1234 1280L1224 1290z" fill="#ff1e1e"/>
<path d="M1181 1303L1191 1290L1179 1274L1169 1287z" fill="#ff2222"/>
<path d="M1251 1316L1262 1307L1253 1288L1241 1299z" fill="#ff1b1b"/>
<path d="M972 1351L1002 1321L986 1310L957 1341z" fill="#ff0d0d"/>
<path d="M1084 1320L1102 1298L1091 1288L1073 1311z" fill="#ff1919"/>
<path d="M1201 1301L1206 1296L1194 1277L1189 1283z" fill="#ff2222"/>
<path d="M857 1370L929 1321L926 1319L854 1368z" fill="#ff0505"/>
<path d="M1472 1379L1479 1375L1416 1329L1409 1333z" fill="#ff0404"/>
<path d="M1130 1307L1142 1289L1140 1286L1127 1304z" fill="#ff1e1e"/>
<path d="M1270 1330L1283 1321L1272 1298L1259 1308z" fill="#ff1616"/>
<path d="M1296 1344L1311 1335L1293 1308L1278 1318z" fill="#ff1111"/>
<path d="M1197 1306L1202 1300L1191 1282L1185 1288z" fill="#ff2020"/>
<path d="M1019 1340L1044 1313L1032 1303L1008 1331z" fill="#ff1111"/>
<path d="M1213 1311L1222 1301L1210 1282L1201 1293z" fill="#ff2020"/>
<path d="M1251 1319L1264 1308L1261 1303L1248 1314z" fill="#ff1919"/>
<path d="M1156 1313L1167 1299L1155 1284L1144 1300z" fill="#ff1e1e"/>
<path d="M1116 1320L1132 1302L1121 1290L1105 1309z" fill="#ff1b1b"/>
<path d="M1138 1315L1150 1299L1141 1288L1128 1306z" fill="#ff1d1d"/>
<path d="M864 1374L936 1326L929 1321L857 1370z" fill="#ff0505"/>
<path d="M1058 1332L1078 1309L1068 1299L1047 1323z" fill="#ff1515"/>
<path d="M1229 1318L1239 1308L1227 1288L1217 1299z" fill="#ff1e1e"/>
<path d="M1173 1314L1184 1300L1172 1285L1161 1299z" fill="#ff1f1f"/>
<path d="M1086 1320L1087 1319L1074 1307L1073 1308z" fill="#ff1717"/>
<path d="M1243 1323L1254 1315L1244 1297L1233 1306z" fill="#ff1a1a"/>
<path d="M1189 1315L1199 1303L1188 1287L1178 1300z" fill="#ff1e1e"/>
<path d="M1092 1328L1111 1308L1100 1297L1082 1319z" fill="#ff1818"/>
<path d="M1210 1315L1215 1310L1203 1291L1198 1296z" fill="#ff1e1e"/>
<path d="M1349 1365L1361 1358L1323 1322L1311 1330z" fill="#ff0909"/>
<path d="M1261 1336L1273 1328L1261 1306L1250 1315z" fill="#ff1515"/>
<path d="M1459 1385L1472 1378L1409 1332L1396 1340z" fill="#ff0404"/>
<path d="M1117 1322L1133 1303L1131 1300L1114 1320z" fill="#ff1919"/>
<path d="M1206 1319L1211 1314L1199 1295L1194 1301z" fill="#ff1d1d"/>
<path d="M1244 1326L1255 1316L1252 1311L1241 1321z" fill="#ff1717"/>
<path d="M973 1353L976 1350L957 1338L954 1341z" fill="#ff0909"/>
<path d="M1286 1351L1298 1343L1280 1317L1268 1325z" fill="#ff1010"/>
<path d="M982 1358L1011 1328L1000 1319L971 1350z" fill="#ff0c0c"/>
<path d="M1147 1325L1159 1310L1147 1297L1135 1313z" fill="#ff1a1a"/>
<path d="M1222 1325L1231 1316L1219 1297L1210 1307z" fill="#ff1c1c"/>
<path d="M1028 1347L1053 1321L1042 1311L1017 1339z" fill="#ff1010"/>
<path d="M1165 1324L1176 1311L1164 1296L1153 1311z" fill="#ff1c1c"/>
<path d="M1236 1330L1246 1321L1236 1304L1226 1314z" fill="#ff1919"/>
<path d="M1360 1362L1382 1350L1377 1346L1356 1358z" fill="#ff0707"/>
<path d="M1066 1339L1086 1317L1076 1307L1056 1330z" fill="#ff1414"/>
<path d="M1125 1330L1141 1311L1132 1302L1116 1321z" fill="#ff1818"/>
<path d="M1182 1325L1192 1313L1181 1297L1170 1310z" fill="#ff1c1c"/>
<path d="M875 1381L947 1333L936 1325L864 1374z" fill="#ff0505"/>
<path d="M1094 1329L1095 1327L1082 1315L1081 1316z" fill="#ff1515"/>
<path d="M1198 1328L1208 1317L1196 1300L1186 1312z" fill="#ff1b1b"/>
<path d="M1345 1367L1350 1364L1311 1329L1306 1332z" fill="#ff0909"/>
<path d="M1254 1342L1264 1335L1253 1314L1243 1322z" fill="#ff1515"/>
<path d="M1101 1337L1119 1317L1109 1306L1090 1327z" fill="#ff1616"/>
<path d="M1219 1329L1224 1324L1212 1305L1207 1311z" fill="#ff1a1a"/>
<path d="M983 1358L1012 1328L1011 1327L981 1357z" fill="#ff0c0c"/>
<path d="M1236 1333L1248 1322L1245 1318L1233 1329z" fill="#ff1717"/>
<path d="M1215 1333L1220 1328L1208 1310L1203 1315z" fill="#ff1a1a"/>
<path d="M1229 1337L1239 1329L1228 1312L1219 1322z" fill="#ff1818"/>
<path d="M1277 1357L1288 1350L1270 1324L1259 1332z" fill="#ff1010"/>
<path d="M1155 1335L1168 1321L1156 1307L1144 1322z" fill="#ff1818"/>
<path d="M1173 1335L1184 1322L1173 1308L1162 1321z" fill="#ff1a1a"/>
<path d="M1036 1353L1061 1328L1051 1319L1027 1345z" fill="#ff1010"/>
<path d="M1134 1339L1150 1322L1138 1309L1122 1327z" fill="#ff1616"/>
<path d="M1102 1338L1121 1318L1118 1315L1099 1336z" fill="#ff1414"/>
<path d="M1075 1347L1095 1325L1085 1315L1064 1338z" fill="#ff1313"/>
<path d="M1191 1337L1201 1326L1189 1309L1178 1321z" fill="#ff1919"/>
<path d="M1247 1349L1257 1341L1245 1321L1235 1329z" fill="#ff1414"/>
<path d="M993 1365L1023 1336L1012 1327L982 1357z" fill="#ff0c0c"/>
<path d="M1103 1337L1104 1336L1091 1323L1090 1324z" fill="#ff1313"/>
<path d="M983 1359L986 1356L971 1346L968 1350z" fill="#ff0909"/>
<path d="M1331 1375L1346 1366L1307 1331L1293 1340z" fill="#ff0909"/>
<path d="M1229 1340L1240 1329L1237 1325L1226 1335z" fill="#ff1616"/>
<path d="M1208 1341L1217 1331L1205 1314L1195 1324z" fill="#ff1818"/>
<path d="M1226 1341L1231 1336L1221 1320L1216 1324z" fill="#ff1616"/>
<path d="M1439 1395L1459 1384L1397 1339L1376 1350z" fill="#ff0404"/>
<path d="M1109 1345L1128 1326L1119 1317L1101 1337z" fill="#ff1414"/>
<path d="M1350 1368L1365 1359L1360 1354L1345 1363z" fill="#ff0606"/>
<path d="M887 1388L960 1341L947 1332L874 1380z" fill="#ff0505"/>
<path d="M1270 1362L1279 1355L1261 1331L1251 1338z" fill="#ff0f0f"/>
<path d="M1223 1344L1228 1339L1217 1323L1212 1328z" fill="#ff1616"/>
<path d="M1104 1339L1106 1337L1100 1331L1098 1333z" fill="#ff1313"/>
<path d="M1164 1345L1176 1332L1165 1318L1152 1332z" fill="#ff1616"/>
<path d="M1226 1343L1234 1337L1230 1331L1222 1338z" fill="#ff1515"/>
<path d="M981 1361L987 1355L984 1352L978 1358z" fill="#ff0909"/>
<path d="M1240 1354L1249 1347L1237 1328L1228 1336z" fill="#ff1313"/>
<path d="M1182 1346L1193 1334L1181 1319L1170 1331z" fill="#ff1616"/>
<path d="M1045 1360L1070 1335L1060 1326L1035 1352z" fill="#ff0f0f"/>
<path d="M1142 1348L1158 1332L1147 1319L1131 1336z" fill="#ff1515"/>
<path d="M1083 1354L1104 1333L1093 1323L1073 1345z" fill="#ff1111"/>
<path d="M1200 1349L1210 1338L1198 1322L1188 1333z" fill="#ff1616"/>
<path d="M1223 1347L1230 1340L1226 1335L1219 1341z" fill="#ff1414"/>
<path d="M1215 1351L1225 1342L1215 1327L1204 1337z" fill="#ff1515"/>
<path d="M1002 1371L1032 1343L1021 1335L992 1364z" fill="#ff0a0a"/>
<path d="M1112 1345L1113 1344L1102 1333L1101 1334z" fill="#ff1212"/>
<path d="M1118 1353L1137 1335L1126 1324L1108 1343z" fill="#ff1313"/>
<path d="M1347 1371L1354 1366L1348 1360L1340 1365z" fill="#ff0606"/>
<path d="M1237 1357L1242 1353L1230 1334L1225 1338z" fill="#ff1212"/>
<path d="M1263 1367L1272 1360L1253 1337L1244 1344z" fill="#ff0e0e"/>
<path d="M1321 1381L1332 1374L1294 1339L1283 1346z" fill="#ff0909"/>
<path d="M994 1367L997 1363L983 1353L979 1357z" fill="#ff0909"/>
<path d="M1084 1355L1105 1334L1103 1332L1082 1353z" fill="#ff1010"/>
<path d="M1215 1353L1226 1342L1223 1338L1212 1349z" fill="#ff1313"/>
<path d="M1233 1360L1238 1356L1226 1338L1221 1342z" fill="#ff1212"/>
<path d="M1173 1355L1185 1343L1173 1329L1161 1342z" fill="#ff1313"/>
<path d="M1191 1357L1203 1346L1190 1331L1179 1342z" fill="#ff1414"/>
<path d="M1151 1357L1167 1342L1156 1329L1140 1345z" fill="#ff1212"/>
<path d="M1053 1366L1078 1343L1068 1334L1043 1358z" fill="#ff0d0d"/>
<path d="M1207 1358L1218 1349L1207 1335L1197 1345z" fill="#ff1313"/>
<path d="M1092 1361L1113 1342L1104 1334L1084 1354z" fill="#ff1010"/>
<path d="M1121 1353L1121 1352L1108 1340L1107 1341z" fill="#ff1010"/>
<path d="M901 1397L974 1350L959 1340L887 1387z" fill="#ff0404"/>
<path d="M1256 1372L1264 1366L1245 1343L1237 1350z" fill="#ff0e0e"/>
<path d="M1010 1377L1040 1349L1031 1341L1001 1370z" fill="#ff0a0a"/>
<path d="M1423 1404L1440 1394L1377 1349L1360 1359z" fill="#ff0404"/>
<path d="M1332 1378L1350 1368L1345 1363L1327 1373z" fill="#ff0606"/>
<path d="M1226 1366L1235 1358L1223 1341L1214 1350z" fill="#ff1111"/>
<path d="M1127 1361L1146 1344L1135 1333L1116 1351z" fill="#ff1111"/>
<path d="M1313 1386L1322 1380L1284 1345L1274 1352z" fill="#ff0909"/>
<path d="M1207 1360L1219 1349L1216 1345L1204 1357z" fill="#ff1111"/>
<path d="M1003 1373L1006 1369L992 1360L989 1363z" fill="#ff0909"/>
<path d="M1253 1374L1257 1371L1238 1349L1234 1352z" fill="#ff0d0d"/>
<path d="M1182 1365L1194 1354L1182 1340L1170 1352z" fill="#ff1212"/>
<path d="M1199 1366L1210 1356L1200 1343L1188 1354z" fill="#ff1111"/>
<path d="M1160 1366L1176 1352L1164 1339L1148 1354z" fill="#ff1111"/>
<path d="M1062 1373L1087 1350L1077 1341L1052 1365z" fill="#ff0d0d"/>
<path d="M1101 1369L1121 1350L1111 1340L1090 1359z" fill="#ff0f0f"/>
<path d="M1218 1372L1228 1364L1216 1348L1206 1357z" fill="#ff1010"/>
<path d="M1249 1377L1254 1373L1235 1352L1230 1355z" fill="#ff0d0d"/>
<path d="M1129 1361L1130 1361L1117 1348L1116 1349z" fill="#ff0f0f"/>
<path d="M1019 1382L1049 1356L1039 1348L1009 1375z" fill="#ff0a0a"/>
<path d="M1135 1370L1154 1353L1144 1342L1125 1359z" fill="#ff0f0f"/>
<path d="M1199 1367L1211 1356L1209 1353L1196 1364z" fill="#ff1010"/>
<path d="M1305 1390L1313 1385L1275 1351L1267 1357z" fill="#ff0909"/>
<path d="M1063 1374L1089 1351L1086 1349L1061 1372z" fill="#ff0c0c"/>
<path d="M1322 1384L1337 1375L1331 1370L1317 1379z" fill="#ff0606"/>
<path d="M911 1402L984 1356L973 1349L901 1396z" fill="#ff0303"/>
<path d="M1242 1382L1250 1375L1232 1354L1223 1362z" fill="#ff0d0d"/>
<path d="M1011 1378L1015 1375L1002 1366L998 1370z" fill="#ff0808"/>
<path d="M1189 1374L1202 1363L1192 1351L1179 1362z" fill="#ff0f0f"/>
<path d="M1412 1409L1423 1403L1360 1358L1349 1364z" fill="#ff0404"/>
<path d="M1169 1375L1185 1362L1173 1349L1157 1363z" fill="#ff0e0e"/>
<path d="M1209 1379L1221 1370L1209 1355L1198 1364z" fill="#ff0e0e"/>
<path d="M1110 1376L1130 1358L1119 1348L1099 1367z" fill="#ff0d0d"/>
<path d="M1071 1379L1096 1357L1088 1350L1063 1373z" fill="#ff0c0c"/>
<path d="M1138 1369L1139 1369L1126 1356L1125 1357z" fill="#ff0e0e"/>
<path d="M1298 1394L1306 1389L1267 1357L1259 1363z" fill="#ff0808"/>
<path d="M1189 1375L1203 1364L1200 1360L1187 1372z" fill="#ff0e0e"/>
<path d="M1027 1388L1057 1362L1048 1354L1018 1381z" fill="#ff0909"/>
<path d="M912 1403L985 1357L983 1356L911 1402z" fill="#ff0303"/>
<path d="M1145 1378L1163 1363L1152 1351L1133 1367z" fill="#ff0e0e"/>
<path d="M1234 1387L1243 1381L1224 1360L1215 1368z" fill="#ff0b0b"/>
<path d="M1313 1389L1327 1381L1321 1375L1308 1384z" fill="#ff0606"/>
<path d="M1408 1411L1412 1409L1349 1364L1344 1367z" fill="#ff0404"/>
<path d="M1020 1384L1023 1381L1010 1372L1007 1375z" fill="#ff0707"/>
<path d="M1200 1386L1212 1376L1201 1362L1188 1372z" fill="#ff0c0c"/>
<path d="M1176 1383L1192 1370L1183 1359L1166 1373z" fill="#ff0d0d"/>
<path d="M1291 1399L1299 1394L1260 1362L1252 1368z" fill="#ff0707"/>
<path d="M1079 1386L1105 1365L1095 1356L1069 1378z" fill="#ff0b0b"/>
<path d="M922 1409L995 1363L984 1356L912 1403z" fill="#ff0303"/>
<path d="M1118 1383L1139 1367L1128 1356L1108 1374z" fill="#ff0c0c"/>
<path d="M1147 1378L1148 1377L1134 1364L1133 1365z" fill="#ff0c0c"/>
<path d="M1036 1394L1066 1369L1056 1361L1026 1387z" fill="#ff0808"/>
<path d="M1226 1393L1236 1386L1217 1366L1207 1375z" fill="#ff0a0a"/>
<path d="M1154 1387L1172 1372L1161 1360L1142 1376z" fill="#ff0c0c"/>
<path d="M1177 1384L1194 1371L1191 1368L1174 1381z" fill="#ff0c0c"/>
<path d="M1306 1393L1318 1386L1312 1380L1300 1388z" fill="#ff0505"/>
<path d="M1288 1401L1292 1398L1253 1367L1249 1370z" fill="#ff0707"/>
<path d="M1394 1418L1408 1411L1345 1366L1331 1374z" fill="#ff0404"/>
<path d="M1028 1390L1032 1386L1018 1377L1015 1381z" fill="#ff0707"/>
<path d="M1284 1403L1288 1400L1249 1370L1245 1372z" fill="#ff0707"/>
<path d="M1037 1395L1068 1370L1065 1368L1035 1393z" fill="#ff0808"/>
<path d="M1088 1393L1113 1373L1103 1363L1078 1384z" fill="#ff0a0a"/>
<path d="M1187 1394L1203 1383L1192 1370L1176 1382z" fill="#ff0b0b"/>
<path d="M1127 1391L1148 1375L1137 1364L1116 1381z" fill="#ff0a0a"/>
<path d="M931 1414L1004 1369L994 1362L921 1408z" fill="#ff0303"/>
<path d="M1156 1386L1157 1386L1143 1373L1142 1374z" fill="#ff0a0a"/>
<path d="M1216 1399L1227 1391L1209 1373L1197 1382z" fill="#ff0909"/>
<path d="M1299 1398L1310 1390L1305 1385L1293 1393z" fill="#ff0505"/>
<path d="M1161 1393L1180 1380L1171 1370L1152 1384z" fill="#ff0b0b"/>
<path d="M1044 1399L1075 1375L1067 1369L1037 1394z" fill="#ff0808"/>
<path d="M1277 1407L1285 1402L1246 1372L1238 1378z" fill="#ff0707"/>
<path d="M1037 1395L1040 1392L1027 1383L1024 1386z" fill="#ff0707"/>
<path d="M1162 1394L1181 1381L1179 1378L1159 1392z" fill="#ff0909"/>
<path d="M1384 1424L1395 1418L1332 1373L1321 1380z" fill="#ff0404"/>
<path d="M1097 1399L1122 1380L1112 1371L1087 1391z" fill="#ff0909"/>
<path d="M1292 1402L1303 1395L1297 1389L1286 1397z" fill="#ff0505"/>
<path d="M1136 1399L1157 1384L1146 1373L1125 1389z" fill="#ff0a0a"/>
<path d="M1163 1393L1164 1393L1153 1381L1152 1382z" fill="#ff0909"/>
<path d="M939 1419L1012 1375L1003 1369L931 1414z" fill="#ff0303"/>
<path d="M1269 1412L1278 1406L1239 1377L1230 1383z" fill="#ff0606"/>
<path d="M1037 1397L1042 1392L1038 1388L1032 1393z" fill="#ff0707"/>
<path d="M1053 1405L1084 1382L1074 1374L1043 1398z" fill="#ff0808"/>
<path d="M1203 1407L1218 1397L1200 1380L1185 1391z" fill="#ff0707"/>
<path d="M1172 1404L1191 1391L1179 1379L1161 1393z" fill="#ff0909"/>
<path d="M1290 1404L1296 1400L1289 1393L1283 1398z" fill="#ff0505"/>
<path d="M1164 1395L1166 1394L1161 1388L1159 1390z" fill="#ff0909"/>
<path d="M1046 1401L1049 1398L1038 1390L1034 1394z" fill="#ff0606"/>
<path d="M1106 1406L1131 1388L1120 1378L1095 1397z" fill="#ff0808"/>
<path d="M1376 1428L1385 1423L1321 1379L1312 1385z" fill="#ff0404"/>
<path d="M1286 1406L1293 1402L1285 1396L1279 1400z" fill="#ff0505"/>
<path d="M1143 1405L1164 1391L1155 1381L1134 1397z" fill="#ff0808"/>
<path d="M1261 1417L1270 1411L1231 1382L1222 1389z" fill="#ff0505"/>
<path d="M948 1424L1021 1380L1012 1374L939 1419z" fill="#ff0303"/>
<path d="M1174 1403L1175 1403L1162 1390L1161 1391z" fill="#ff0707"/>
<path d="M1062 1411L1092 1389L1082 1381L1052 1404z" fill="#ff0606"/>
<path d="M1144 1406L1166 1391L1164 1389L1142 1404z" fill="#ff0808"/>
<path d="M1278 1411L1289 1403L1283 1398L1272 1406z" fill="#ff0404"/>
<path d="M1054 1407L1058 1404L1044 1395L1041 1398z" fill="#ff0606"/>
<path d="M1188 1416L1206 1404L1187 1388L1170 1400z" fill="#ff0606"/>
<path d="M1368 1432L1376 1427L1313 1384L1305 1389z" fill="#ff0404"/>
<path d="M1252 1422L1262 1416L1223 1388L1213 1395z" fill="#ff0505"/>
<path d="M1115 1413L1140 1395L1130 1386L1104 1404z" fill="#ff0707"/>
<path d="M1154 1414L1175 1401L1164 1390L1143 1404z" fill="#ff0707"/>
<path d="M956 1429L1029 1386L1020 1380L947 1424z" fill="#ff0303"/>
<path d="M1070 1417L1101 1395L1091 1388L1061 1410z" fill="#ff0606"/>
<path d="M1270 1415L1282 1407L1276 1402L1264 1410z" fill="#ff0404"/>
<path d="M1190 1415L1190 1415L1170 1399L1170 1399z" fill="#ff0505"/>
<path d="M1361 1436L1369 1431L1305 1389L1297 1394z" fill="#ff0303"/>
<path d="M1063 1413L1066 1410L1053 1401L1050 1404z" fill="#ff0505"/>
<path d="M1122 1418L1148 1402L1139 1394L1113 1411z" fill="#ff0606"/>
<path d="M1239 1429L1253 1421L1214 1394L1200 1403z" fill="#ff0404"/>
<path d="M1261 1420L1274 1412L1269 1407L1256 1415z" fill="#ff0303"/>
<path d="M965 1434L1038 1392L1029 1386L956 1429z" fill="#ff0202"/>
<path d="M1079 1423L1110 1402L1100 1394L1069 1415z" fill="#ff0606"/>
<path d="M1354 1440L1361 1435L1298 1393L1290 1398z" fill="#ff0303"/>
<path d="M1123 1419L1149 1403L1147 1401L1121 1417z" fill="#ff0606"/>
<path d="M1170 1426L1190 1413L1172 1398L1152 1411z" fill="#ff0505"/>
<path d="M1072 1418L1075 1415L1062 1406L1058 1409z" fill="#ff0404"/>
<path d="M967 1435L1040 1393L1038 1391L964 1434z" fill="#ff0202"/>
<path d="M1350 1441L1354 1439L1291 1397L1287 1400z" fill="#ff0202"/>
<path d="M1133 1427L1158 1411L1148 1401L1122 1418z" fill="#ff0606"/>
<path d="M1252 1425L1266 1417L1261 1412L1247 1421z" fill="#ff0303"/>
<path d="M973 1440L1047 1398L1039 1393L966 1435z" fill="#ff0202"/>
<path d="M1347 1443L1351 1441L1287 1400L1284 1402z" fill="#ff0202"/>
<path d="M1088 1429L1119 1409L1109 1401L1078 1421z" fill="#ff0404"/>
<path d="M1224 1438L1240 1428L1201 1401L1185 1412z" fill="#ff0303"/>
<path d="M1081 1424L1084 1422L1070 1412L1067 1415z" fill="#ff0404"/>
<path d="M1340 1447L1347 1443L1284 1402L1276 1406z" fill="#ff0202"/>
<path d="M982 1445L1055 1403L1046 1397L973 1439z" fill="#ff0202"/>
<path d="M1096 1434L1126 1415L1118 1408L1087 1428z" fill="#ff0404"/>
<path d="M1224 1437L1225 1437L1185 1411L1185 1412z" fill="#ff0202"/>
<path d="M1149 1437L1174 1423L1156 1409L1131 1424z" fill="#ff0303"/>
<path d="M1332 1451L1340 1446L1277 1406L1269 1411z" fill="#ff0202"/>
<path d="M1097 1434L1128 1416L1126 1414L1095 1433z" fill="#ff0404"/>
<path d="M991 1450L1064 1409L1055 1403L982 1444z" fill="#ff0202"/>
<path d="M1206 1447L1225 1436L1186 1411L1168 1422z" fill="#ff0202"/>
<path d="M1106 1441L1137 1423L1127 1415L1096 1434z" fill="#ff0303"/>
<path d="M1324 1455L1332 1450L1269 1410L1260 1416z" fill="#ff0202"/>
<path d="M999 1455L1072 1415L1064 1409L990 1449z" fill="#ff0202"/>
</g>
<path d="M47.7 127.3L127.8 179L210.4 130.8" fill="none" stroke="#3a0000" stroke-width="0.8"/>
<text transform="translate(46.5 132.6) rotate(-20.2)" font-size="11.5" font-weight="bold" text-anchor="end">0</text>
<text transform="translate(45.5 118.6) rotate(-17.6)" font-size="11.5" font-weight="bold" text-anchor="end">10</text>
<text transform="translate(44.4 103.4) rotate(-15)" font-size="11.5" font-weight="bold" text-anchor="end">20</text>
<text transform="translate(43.4 88) rotate(-12.4)" font-size="11.5" font-weight="bold" text-anchor="end">30</text>
<text transform="translate(42.2 71.3) rotate(-9.8)" font-size="11.5" font-weight="bold" text-anchor="end">40</text>
<text transform="translate(41.1 54.4) rotate(-7.2)" font-size="11.5" font-weight="bold" text-anchor="end">50</text>
<text transform="translate(39.9 36.3) rotate(-4.6)" font-size="11.5" font-weight="bold" text-anchor="end">60</text>
<text transform="translate(38.7 17.4) rotate(-2)" font-size="11.5" font-weight="bold" text-anchor="end">70</text>
<text transform="translate(24 81.5) rotate(-86)" font-size="11" font-weight="bold" text-anchor="middle">I<tspan font-size="8" dy="2.5">D</tspan><tspan dy="-2.5"> [</tspan><tspan font-weight="normal">μ</tspan>A]</text>
<text transform="translate(47 25) rotate(-4) scale(0.82 1)" font-size="11" font-weight="bold">V<tspan font-size="8" dy="2.5">D</tspan><tspan dy="-2.5"> = 1 V</tspan></text>
<text transform="translate(44 133.8) rotate(35)" font-size="9.5" font-weight="bold" text-anchor="middle" dy="3.3">6</text>
<text transform="translate(53.5 140.6) rotate(35)" font-size="9.5" font-weight="bold" text-anchor="middle" dy="3.3">4</text>
<text transform="translate(64.4 147.3) rotate(35)" font-size="9.5" font-weight="bold" text-anchor="middle" dy="3.3">2</text>
<text transform="translate(73.8 154.8) rotate(35)" font-size="9.5" font-weight="bold" text-anchor="middle" dy="3.3">0</text>
<text transform="translate(85.3 162.2) rotate(35)" font-size="9.5" font-weight="bold" text-anchor="middle" dy="3.3">-2</text>
<text transform="translate(97.5 170.3) rotate(35)" font-size="9.5" font-weight="bold" text-anchor="middle" dy="3.3">-4</text>
<text transform="translate(111.7 179.8) rotate(35)" font-size="9.5" font-weight="bold" text-anchor="middle" dy="3.3">-6</text>
<text transform="translate(145.1 179.1) rotate(-30)" font-size="9.5" font-weight="bold" text-anchor="middle" dy="3.3">-6</text>
<text transform="translate(158.7 170.3) rotate(-30)" font-size="9.5" font-weight="bold" text-anchor="middle" dy="3.3">-4</text>
<text transform="translate(171.5 162.9) rotate(-30)" font-size="9.5" font-weight="bold" text-anchor="middle" dy="3.3">-2</text>
<text transform="translate(181 156.1) rotate(-30)" font-size="9.5" font-weight="bold" text-anchor="middle" dy="3.3">0</text>
<text transform="translate(192.5 149.4) rotate(-30)" font-size="9.5" font-weight="bold" text-anchor="middle" dy="3.3">2</text>
<text transform="translate(202.7 142.6) rotate(-30)" font-size="9.5" font-weight="bold" text-anchor="middle" dy="3.3">4</text>
<text transform="translate(212.1 136.5) rotate(-30)" font-size="9.5" font-weight="bold" text-anchor="middle" dy="3.3">6</text>
<text transform="translate(62.3 164.9) rotate(36)" font-size="10" font-weight="bold" text-anchor="middle" dy="3.5">V<tspan font-size="7" dy="2">G1</tspan><tspan dy="-2"> [V]</tspan></text>
<text transform="translate(199.5 165) rotate(-31)" font-size="10" font-weight="bold" text-anchor="middle" dy="3.5">V<tspan font-size="7" dy="2">G2</tspan><tspan dy="-2"> [V]</tspan></text>
<text transform="translate(75 125) rotate(-25)" font-size="10.5" font-weight="bold" text-anchor="middle" fill="#fff" dy="3.8">AD</text>
<text x="129.6" y="165" font-size="9.8" font-weight="bold" text-anchor="middle" fill="#fff">DD</text>
<text x="183" y="133.2" font-size="9.8" font-weight="bold" text-anchor="middle" fill="#fff">DA</text>
<text x="129.8" y="34.8" font-size="11" font-weight="bold" text-anchor="middle" fill="#fff">AA</text>
<path d="M210.1 40.3V58.2H193.6M193.6 55.4V83.8M193.6 82.8H205V102.7" stroke="#111" stroke-width="1.8" fill="none"/>
<path d="M191.3 55.4V67.6M190.5 71V82.5M180 58.3H191.3M178.6 73H190.5" stroke="#111" stroke-width="1.8" fill="none"/>
<path d="M199.5 102.7H211M201.5 106.2H209.5M203.8 109.7H207.5" stroke="#111" stroke-width="1.8" fill="none"/>
<circle cx="210.1" cy="37.8" r="2.1" fill="#fff" stroke="#111" stroke-width="1.3"/>
<circle cx="177.9" cy="58.2" r="2.1" fill="#fff" stroke="#111" stroke-width="1.3"/>
<circle cx="176.5" cy="73" r="2.1" fill="#fff" stroke="#111" stroke-width="1.3"/>
<text transform="translate(203.4 25.5) scale(0.8 1) skewX(-6)" font-size="12.6" font-weight="bold" stroke="#000" stroke-width="0.45">V<tspan font-size="8.4" dy="5.5" dx="0.4" stroke-width="0.25">D</tspan></text>
<text transform="translate(174.1 49.2) scale(0.8 1) skewX(-6)" font-size="12.6" font-weight="bold" stroke="#000" stroke-width="0.45">V<tspan font-size="8.4" dy="5.5" dx="0.4" stroke-width="0.25">G1</tspan></text>
<text transform="translate(170.8 90.6) scale(0.8 1) skewX(-6)" font-size="12.6" font-weight="bold" stroke="#000" stroke-width="0.45">V<tspan font-size="8.4" dy="5.5" dx="0.4" stroke-width="0.25">G2</tspan></text>
<defs>
<filter id="cmap" x="-0.1" y="-0.1" width="1.2" height="1.2" color-interpolation-filters="sRGB"><feGaussianBlur stdDeviation="1.5" edgeMode="duplicate"/><feComponentTransfer><feFuncR type="table" tableValues="1.000 1.000 1.000 1.000 1.000 1.000 1.000 1.000 1.000 1.000 1.000 1.000 1.000 1.000 1.000 1.000 1.000 1.000 1.000 1.000 1.000 1.000 1.000 1.000 1.000 1.000 1.000 1.000 1.000 1.000 1.000 0.967 0.933 0.900 0.867 0.833 0.800 0.767 0.733 0.700 0.667 0.633 0.600 0.567 0.533 0.500 0.467 0.433 0.400 0.367 0.333 0.300 0.267 0.233 0.200 0.167 0.133 0.100 0.067 0.033 0.000 0.000 0.000 0.000"/><feFuncG type="table" tableValues="0.000 0.010 0.026 0.045 0.066 0.089 0.114 0.140 0.168 0.197 0.227 0.258 0.290 0.323 0.357 0.392 0.428 0.465 0.502 0.540 0.578 0.618 0.658 0.699 0.740 0.782 0.824 0.867 0.911 0.955 1.000 0.967 0.933 0.900 0.867 0.833 0.800 0.767 0.733 0.700 0.667 0.633 0.600 0.567 0.533 0.500 0.467 0.433 0.400 0.367 0.333 0.300 0.267 0.233 0.200 0.167 0.133 0.100 0.067 0.033 0.000 0.000 0.000 0.000"/><feFuncB type="table" tableValues="0.000 0.010 0.026 0.045 0.066 0.089 0.114 0.140 0.168 0.197 0.227 0.258 0.290 0.323 0.357 0.392 0.428 0.465 0.502 0.540 0.578 0.618 0.658 0.699 0.740 0.782 0.824 0.867 0.911 0.955 1.000 1.000 1.000 1.000 1.000 1.000 1.000 1.000 1.000 1.000 1.000 1.000 1.000 1.000 1.000 1.000 1.000 1.000 1.000 1.000 1.000 1.000 1.000 1.000 1.000 1.000 1.000 1.000 1.000 1.000 1.000 1.000 1.000 1.000"/></feComponentTransfer></filter>
<linearGradient id="gh" gradientUnits="userSpaceOnUse" x1="273.6" y1="0" x2="412.6" y2="0"><stop offset="0.0000" stop-color="#000000"/><stop offset="0.0143" stop-color="#000000"/><stop offset="0.0286" stop-color="#000000"/><stop offset="0.0429" stop-color="#000000"/><stop offset="0.0571" stop-color="#000000"/><stop offset="0.0714" stop-color="#000000"/><stop offset="0.0857" stop-color="#000000"/><stop offset="0.1000" stop-color="#000000"/><stop offset="0.1143" stop-color="#000000"/><stop offset="0.1286" stop-color="#000000"/><stop offset="0.1429" stop-color="#000000"/><stop offset="0.1571" stop-color="#000000"/><stop offset="0.1714" stop-color="#000000"/><stop offset="0.1857" stop-color="#020202"/><stop offset="0.2000" stop-color="#060606"/><stop offset="0.2143" stop-color="#0c0c0c"/><stop offset="0.2286" stop-color="#121212"/><stop offset="0.2429" stop-color="#1a1a1a"/><stop offset="0.2571" stop-color="#252525"/><stop offset="0.2714" stop-color="#2f2f2f"/><stop offset="0.2857" stop-color="#3a3a3a"/><stop offset="0.3000" stop-color="#454545"/><stop offset="0.3143" stop-color="#505050"/><stop offset="0.3286" stop-color="#595959"/><stop offset="0.3429" stop-color="#616161"/><stop offset="0.3571" stop-color="#686868"/><stop offset="0.3714" stop-color="#6f6f6f"/><stop offset="0.3857" stop-color="#767676"/><stop offset="0.4000" stop-color="#7e7e7e"/><stop offset="0.4143" stop-color="#878787"/><stop offset="0.4286" stop-color="#909090"/><stop offset="0.4429" stop-color="#9a9a9a"/><stop offset="0.4571" stop-color="#a3a3a3"/><stop offset="0.4714" stop-color="#aaaaaa"/><stop offset="0.4857" stop-color="#b0b0b0"/><stop offset="0.5000" stop-color="#b5b5b5"/><stop offset="0.5143" stop-color="#bababa"/><stop offset="0.5286" stop-color="#bfbfbf"/><stop offset="0.5429" stop-color="#c3c3c3"/><stop offset="0.5571" stop-color="#c7c7c7"/><stop offset="0.5714" stop-color="#cbcbcb"/><stop offset="0.5857" stop-color="#cecece"/><stop offset="0.6000" stop-color="#d2d2d2"/><stop offset="0.6143" stop-color="#d4d4d4"/><stop offset="0.6286" stop-color="#d7d7d7"/><stop offset="0.6429" stop-color="#dadada"/><stop offset="0.6571" stop-color="#dddddd"/><stop offset="0.6714" stop-color="#dfdfdf"/><stop offset="0.6857" stop-color="#e1e1e1"/><stop offset="0.7000" stop-color="#e3e3e3"/><stop offset="0.7143" stop-color="#e5e5e5"/><stop offset="0.7286" stop-color="#e7e7e7"/><stop offset="0.7429" stop-color="#e9e9e9"/><stop offset="0.7571" stop-color="#ebebeb"/><stop offset="0.7714" stop-color="#ececec"/><stop offset="0.7857" stop-color="#eeeeee"/><stop offset="0.8000" stop-color="#efefef"/><stop offset="0.8143" stop-color="#f1f1f1"/><stop offset="0.8286" stop-color="#f2f2f2"/><stop offset="0.8429" stop-color="#f4f4f4"/><stop offset="0.8571" stop-color="#f5f5f5"/><stop offset="0.8714" stop-color="#f7f7f7"/><stop offset="0.8857" stop-color="#f8f8f8"/><stop offset="0.9000" stop-color="#f9f9f9"/><stop offset="0.9143" stop-color="#fafafa"/><stop offset="0.9286" stop-color="#fbfbfb"/><stop offset="0.9429" stop-color="#fcfcfc"/><stop offset="0.9571" stop-color="#fdfdfd"/><stop offset="0.9714" stop-color="#fefefe"/><stop offset="0.9857" stop-color="#fefefe"/><stop offset="1.0000" stop-color="#ffffff"/></linearGradient>
<linearGradient id="gv" gradientUnits="userSpaceOnUse" x1="0" y1="26" x2="0" y2="158.8"><stop offset="0.0000" stop-color="#ffffff"/><stop offset="0.0143" stop-color="#fefefe"/><stop offset="0.0286" stop-color="#fdfdfd"/><stop offset="0.0429" stop-color="#fcfcfc"/><stop offset="0.0571" stop-color="#fbfbfb"/><stop offset="0.0714" stop-color="#f9f9f9"/><stop offset="0.0857" stop-color="#f8f8f8"/><stop offset="0.1000" stop-color="#f6f6f6"/><stop offset="0.1143" stop-color="#f4f4f4"/><stop offset="0.1286" stop-color="#f2f2f2"/><stop offset="0.1429" stop-color="#f0f0f0"/><stop offset="0.1571" stop-color="#eeeeee"/><stop offset="0.1714" stop-color="#ececec"/><stop offset="0.1857" stop-color="#eaeaea"/><stop offset="0.2000" stop-color="#e7e7e7"/><stop offset="0.2143" stop-color="#e4e4e4"/><stop offset="0.2286" stop-color="#e1e1e1"/><stop offset="0.2429" stop-color="#dedede"/><stop offset="0.2571" stop-color="#dadada"/><stop offset="0.2714" stop-color="#d7d7d7"/><stop offset="0.2857" stop-color="#d3d3d3"/><stop offset="0.3000" stop-color="#cecece"/><stop offset="0.3143" stop-color="#cacaca"/><stop offset="0.3286" stop-color="#c6c6c6"/><stop offset="0.3429" stop-color="#c1c1c1"/><stop offset="0.3571" stop-color="#bcbcbc"/><stop offset="0.3714" stop-color="#b6b6b6"/><stop offset="0.3857" stop-color="#aeaeae"/><stop offset="0.4000" stop-color="#a4a4a4"/><stop offset="0.4143" stop-color="#949494"/><stop offset="0.4286" stop-color="#828282"/><stop offset="0.4429" stop-color="#727272"/><stop offset="0.4571" stop-color="#646464"/><stop offset="0.4714" stop-color="#555555"/><stop offset="0.4857" stop-color="#454545"/><stop offset="0.5000" stop-color="#353535"/><stop offset="0.5143" stop-color="#212121"/><stop offset="0.5286" stop-color="#101010"/><stop offset="0.5429" stop-color="#070707"/><stop offset="0.5571" stop-color="#010101"/><stop offset="0.5714" stop-color="#000000"/><stop offset="0.5857" stop-color="#000000"/><stop offset="0.6000" stop-color="#000000"/><stop offset="0.6143" stop-color="#000000"/><stop offset="0.6286" stop-color="#000000"/><stop offset="0.6429" stop-color="#000000"/><stop offset="0.6571" stop-color="#000000"/><stop offset="0.6714" stop-color="#000000"/><stop offset="0.6857" stop-color="#000000"/><stop offset="0.7000" stop-color="#000000"/><stop offset="0.7143" stop-color="#000000"/><stop offset="0.7286" stop-color="#000000"/><stop offset="0.7429" stop-color="#000000"/><stop offset="0.7571" stop-color="#000000"/><stop offset="0.7714" stop-color="#000000"/><stop offset="0.7857" stop-color="#000000"/><stop offset="0.8000" stop-color="#000000"/><stop offset="0.8143" stop-color="#000000"/><stop offset="0.8286" stop-color="#000000"/><stop offset="0.8429" stop-color="#000000"/><stop offset="0.8571" stop-color="#000000"/><stop offset="0.8714" stop-color="#000000"/><stop offset="0.8857" stop-color="#000000"/><stop offset="0.9000" stop-color="#000000"/><stop offset="0.9143" stop-color="#000000"/><stop offset="0.9286" stop-color="#000000"/><stop offset="0.9429" stop-color="#000000"/><stop offset="0.9571" stop-color="#000000"/><stop offset="0.9714" stop-color="#000000"/><stop offset="0.9857" stop-color="#000000"/><stop offset="1.0000" stop-color="#000000"/></linearGradient>
<linearGradient id="cbar" x1="0" y1="0" x2="0" y2="1"><stop offset="0.000" stop-color="#0000ff"/><stop offset="0.050" stop-color="#1919ff"/><stop offset="0.100" stop-color="#3232ff"/><stop offset="0.150" stop-color="#4c4cff"/><stop offset="0.200" stop-color="#6565ff"/><stop offset="0.250" stop-color="#7f7fff"/><stop offset="0.300" stop-color="#9999ff"/><stop offset="0.350" stop-color="#b2b2ff"/><stop offset="0.400" stop-color="#ccccff"/><stop offset="0.450" stop-color="#e5e5ff"/><stop offset="0.500" stop-color="#ffffff"/><stop offset="0.550" stop-color="#ffdddd"/><stop offset="0.600" stop-color="#ffbcbc"/><stop offset="0.650" stop-color="#ff9d9d"/><stop offset="0.700" stop-color="#ff7f7f"/><stop offset="0.750" stop-color="#ff6464"/><stop offset="0.800" stop-color="#ff4a4a"/><stop offset="0.850" stop-color="#ff3232"/><stop offset="0.900" stop-color="#ff1d1d"/><stop offset="0.950" stop-color="#ff0b0b"/><stop offset="1.000" stop-color="#ff0000"/></linearGradient>
</defs>
<clipPath id="hmclip"><rect x="273.6" y="26" width="139" height="132.8"/></clipPath>
<g clip-path="url(#hmclip)"><g filter="url(#cmap)"><g style="isolation:isolate"><rect x="261.6" y="14" width="163" height="156.8" fill="url(#gh)"/><rect x="261.6" y="14" width="163" height="156.8" fill="url(#gv)" style="mix-blend-mode:darken"/></g><g style="isolation:isolate" opacity="0.78"><rect x="261.6" y="14" width="163" height="156.8" fill="url(#gh)"/><rect x="261.6" y="14" width="163" height="156.8" fill="url(#gv)" style="mix-blend-mode:multiply"/></g></g></g>
<rect x="273.6" y="26" width="139" height="132.8" fill="none" stroke="#999" stroke-width="0.5"/>
<path d="M283.5 158.8v2.5M273.6 149.3h-2.5M303.4 158.8v2.5M273.6 130.3h-2.5M323.2 158.8v2.5M273.6 111.4h-2.5M343.1 158.8v2.5M273.6 92.4h-2.5M363 158.8v2.5M273.6 73.4h-2.5M382.8 158.8v2.5M273.6 54.5h-2.5M402.7 158.8v2.5M273.6 35.5h-2.5M273.6 158.8v1.5M273.6 158.8h-1.5M293.5 158.8v1.5M273.6 139.8h-1.5M313.3 158.8v1.5M273.6 120.9h-1.5M333.2 158.8v1.5M273.6 101.9h-1.5M353 158.8v1.5M273.6 82.9h-1.5M372.9 158.8v1.5M273.6 63.9h-1.5M392.7 158.8v1.5M273.6 45h-1.5M412.6 158.8v1.5M273.6 26h-1.5" stroke="#222" stroke-width="0.8" fill="none"/>
<text x="283.5" y="170.3" font-size="10.2" font-weight="bold" text-anchor="middle" fill="#000">-6</text>
<text x="270.5" y="153" font-size="10.2" font-weight="bold" text-anchor="end" fill="#000">-6</text>
<text x="303.4" y="170.3" font-size="10.2" font-weight="bold" text-anchor="middle" fill="#000">-4</text>
<text x="270.5" y="134" font-size="10.2" font-weight="bold" text-anchor="end" fill="#000">-4</text>
<text x="323.2" y="170.3" font-size="10.2" font-weight="bold" text-anchor="middle" fill="#000">-2</text>
<text x="270.5" y="115.1" font-size="10.2" font-weight="bold" text-anchor="end" fill="#000">-2</text>
<text x="343.1" y="170.3" font-size="10.2" font-weight="bold" text-anchor="middle" fill="#000">0</text>
<text x="270.5" y="96.1" font-size="10.2" font-weight="bold" text-anchor="end" fill="#000">0</text>
<text x="363" y="170.3" font-size="10.2" font-weight="bold" text-anchor="middle" fill="#000">2</text>
<text x="270.5" y="77.1" font-size="10.2" font-weight="bold" text-anchor="end" fill="#000">2</text>
<text x="382.8" y="170.3" font-size="10.2" font-weight="bold" text-anchor="middle" fill="#000">4</text>
<text x="270.5" y="58.2" font-size="10.2" font-weight="bold" text-anchor="end" fill="#000">4</text>
<text x="402.7" y="170.3" font-size="10.2" font-weight="bold" text-anchor="middle" fill="#000">6</text>
<text x="270.5" y="39.2" font-size="10.2" font-weight="bold" text-anchor="end" fill="#000">6</text>
<radialGradient id="glow"><stop offset="0" stop-color="#fff" stop-opacity="0.09"/><stop offset="1" stop-color="#fff" stop-opacity="0"/></radialGradient>
<ellipse cx="306" cy="99" rx="20" ry="18" fill="url(#glow)"/>
<path d="M312 26 L313.3 84 Q314 93.5 322 94 L412.6 94.4" fill="none" stroke="#2a2a2a" stroke-width="1.2" stroke-dasharray="3.6,2.4"/>
<line x1="273.6" y1="158.8" x2="412.6" y2="26" stroke="#f5e82a" stroke-width="1.1" stroke-dasharray="3,2"/>
<text x="294" y="46.5" font-size="11.5" font-weight="bold" text-anchor="middle" fill="#fff">AD</text>
<text x="394.5" y="46.5" font-size="11.5" font-weight="bold" text-anchor="middle" fill="#fff">AA</text>
<text x="294" y="146.3" font-size="11.5" font-weight="bold" text-anchor="middle" fill="#fff">DD</text>
<text x="394.5" y="146.3" font-size="11.5" font-weight="bold" text-anchor="middle" fill="#fff">DA</text>
<text x="395.6" y="106.9" font-size="10" font-weight="bold">V<tspan font-size="7.6" dy="3">th</tspan></text>
<text x="343" y="184.3" font-size="10.2" font-weight="bold" text-anchor="middle">V<tspan font-size="7" dy="2.2">G2</tspan><tspan dy="-2.2"> [V]</tspan></text>
<text transform="translate(254.3 92.5) rotate(-90)" font-size="10.2" font-weight="bold" text-anchor="middle">V<tspan font-size="7" dy="2.2">G1</tspan><tspan dy="-2.2"> [V]</tspan></text>
<text x="275" y="18.6" font-size="10.2" font-weight="bold">V<tspan font-size="7" dy="2.2">D</tspan><tspan dy="-2.2"> = 1 V</tspan></text>
<rect x="418" y="26" width="11" height="132.8" fill="url(#cbar)"/>
<rect x="418" y="26" width="11" height="132.8" fill="none" stroke="#555" stroke-width="0.4"/>
<text x="431.3" y="29.6" font-size="10" font-weight="bold" text-anchor="start" fill="#000">60</text>
<text x="431.3" y="56.2" font-size="10" font-weight="bold" text-anchor="start" fill="#000">48</text>
<text x="431.3" y="82.7" font-size="10" font-weight="bold" text-anchor="start" fill="#000">36</text>
<text x="431.3" y="109.3" font-size="10" font-weight="bold" text-anchor="start" fill="#000">24</text>
<text x="431.3" y="135.8" font-size="10" font-weight="bold" text-anchor="start" fill="#000">12</text>
<text x="431.3" y="162.4" font-size="10" font-weight="bold" text-anchor="start" fill="#000">0</text>
<path d="M429 26h-2M429 52.6h-2M429 79.1h-2M429 105.7h-2M429 132.2h-2M429 158.8h-2" stroke="#222" stroke-width="0.8"/>
<text x="406" y="18.6" font-size="10.2" font-weight="bold">|I<tspan font-size="7" dy="2.2">D</tspan><tspan dy="-2.2">| [</tspan><tspan font-weight="normal">μ</tspan>A]</text>
<path d="M500.3 26H677.5V156.3" fill="none" stroke="#888" stroke-width="0.8"/>
<path d="M500.3 26V156.3H677.5" fill="none" stroke="#444" stroke-width="0.9"/>
<path d="M500.3 156.3v-3M535.7 156.3v-3M571.2 156.3v-3M606.6 156.3v-3M642.1 156.3v-3M677.5 156.3v-3M518 156.3v-1.8M553.5 156.3v-1.8M588.9 156.3v-1.8M624.3 156.3v-1.8M659.8 156.3v-1.8M500.3 141.8h3M500.3 112.9h3M500.3 83.9h3M500.3 55h3M500.3 26h3M500.3 156.3h1.8M500.3 127.3h1.8M500.3 98.4h1.8M500.3 69.4h1.8M500.3 40.5h1.8" stroke="#444" stroke-width="0.8"/>
<text x="497.2" y="145.5" font-size="10.3" font-weight="bold" text-anchor="end" fill="#000">0</text>
<text x="497.2" y="116.6" font-size="10.3" font-weight="bold" text-anchor="end" fill="#000">20</text>
<text x="497.2" y="87.6" font-size="10.3" font-weight="bold" text-anchor="end" fill="#000">40</text>
<text x="497.2" y="58.7" font-size="10.3" font-weight="bold" text-anchor="end" fill="#000">60</text>
<text x="497.2" y="29.7" font-size="10.3" font-weight="bold" text-anchor="end" fill="#000">80</text>
<text x="500.3" y="166.8" font-size="10.3" font-weight="bold" text-anchor="middle" fill="#000">0.0</text>
<text x="535.7" y="166.8" font-size="10.3" font-weight="bold" text-anchor="middle" fill="#000">0.2</text>
<text x="571.2" y="166.8" font-size="10.3" font-weight="bold" text-anchor="middle" fill="#000">0.4</text>
<text x="606.6" y="166.8" font-size="10.3" font-weight="bold" text-anchor="middle" fill="#000">0.6</text>
<text x="642.1" y="166.8" font-size="10.3" font-weight="bold" text-anchor="middle" fill="#000">0.8</text>
<text x="677.5" y="166.8" font-size="10.3" font-weight="bold" text-anchor="middle" fill="#000">1.0</text>
<text x="589" y="180.5" font-size="10.3" font-weight="bold" text-anchor="middle" fill="#000">Drain Voltage [V]</text>
<text transform="translate(482 90.6) rotate(-90)" font-size="10.3" font-weight="bold" text-anchor="middle">Drain Current [<tspan font-weight="normal">μ</tspan>A]</text>
<polyline points="503.8,140 507.4,138.1 510.9,136.3 514.5,134.5 518,132.6 521.6,130.8 525.1,129 528.7,127.1 532.2,125.3 535.7,123.4 539.3,121.6 542.8,119.8 546.4,117.9 549.9,116.1 553.5,114.2 557,112.4 560.5,110.6 564.1,108.7 567.6,106.9 571.2,105 574.7,103.2 578.3,101.4 581.8,99.5 585.4,97.7 588.9,95.9 592.4,94 596,92.2 599.5,90.3 603.1,88.5 606.6,86.7 610.2,84.8 613.7,83 617.3,81.1 620.8,79.3 624.3,77.5 627.9,75.6 631.4,73.8 635,72 638.5,70.1 642.1,68.3 645.6,66.4 649.1,64.6 652.7,62.8 656.2,60.9 659.8,59.1 663.3,57.2 666.9,55.4 670.4,53.6 674,51.7 677.5,49.9" fill="none" stroke="#000" stroke-width="0.6"/>
<path d="M503.8 140h0M507.4 138.1h0M510.9 136.3h0M514.5 134.5h0M518 132.6h0M521.6 130.8h0M525.1 129h0M528.7 127.1h0M532.2 125.3h0M535.7 123.4h0M539.3 121.6h0M542.8 119.8h0M546.4 117.9h0M549.9 116.1h0M553.5 114.2h0M557 112.4h0M560.5 110.6h0M564.1 108.7h0M567.6 106.9h0M571.2 105h0M574.7 103.2h0M578.3 101.4h0M581.8 99.5h0M585.4 97.7h0M588.9 95.9h0M592.4 94h0M596 92.2h0M599.5 90.3h0M603.1 88.5h0M606.6 86.7h0M610.2 84.8h0M613.7 83h0M617.3 81.1h0M620.8 79.3h0M624.3 77.5h0M627.9 75.6h0M631.4 73.8h0M635 72h0M638.5 70.1h0M642.1 68.3h0M645.6 66.4h0M649.1 64.6h0M652.7 62.8h0M656.2 60.9h0M659.8 59.1h0M663.3 57.2h0M666.9 55.4h0M670.4 53.6h0M674 51.7h0M677.5 49.9h0" stroke="#000" stroke-width="2.2" stroke-linecap="round"/>
<line x1="500.3" y1="141.8" x2="677.5" y2="141.8" stroke="#6030a0" stroke-width="0.9"/>
<path d="M503.8 141.8h0M507.4 141.8h0M510.9 141.8h0M514.5 141.8h0M518 141.8h0M521.6 141.8h0M525.1 141.8h0M528.7 141.8h0M532.2 141.8h0M535.7 141.8h0M539.3 141.8h0M542.8 141.8h0M546.4 141.8h0M549.9 141.8h0M553.5 141.8h0M557 141.8h0M560.5 141.8h0M564.1 141.8h0M567.6 141.8h0M571.2 141.8h0M574.7 141.8h0M578.3 141.8h0M581.8 141.8h0M585.4 141.8h0M588.9 141.8h0M592.4 141.8h0M596 141.8h0M599.5 141.8h0M603.1 141.8h0M606.6 141.8h0M610.2 141.8h0M613.7 141.8h0M617.3 141.8h0M620.8 141.8h0M624.3 141.8h0M627.9 141.8h0M631.4 141.8h0M635 141.8h0M638.5 141.8h0M642.1 141.8h0M645.6 141.8h0M649.1 141.8h0M652.7 141.8h0M656.2 141.8h0M659.8 141.8h0M663.3 141.8h0M666.9 141.8h0M670.4 141.8h0M674 141.8h0M677.5 141.8h0" stroke="#e02020" stroke-width="2.4" stroke-linecap="round"/>
<path d="M503.8 141.8h0M507.4 141.8h0M510.9 141.8h0M514.5 141.8h0M518 141.8h0M521.6 141.8h0M525.1 141.8h0M528.7 141.8h0M532.2 141.8h0M535.7 141.8h0M539.3 141.8h0M542.8 141.8h0M546.4 141.8h0M549.9 141.8h0M553.5 141.8h0M557 141.8h0M560.5 141.8h0M564.1 141.8h0M567.6 141.8h0M571.2 141.8h0M574.7 141.8h0M578.3 141.8h0M581.8 141.8h0M585.4 141.8h0M588.9 141.8h0M592.4 141.8h0M596 141.8h0M599.5 141.8h0M603.1 141.8h0M606.6 141.8h0M610.2 141.8h0M613.7 141.8h0M617.3 141.8h0M620.8 141.8h0M624.3 141.8h0M627.9 141.8h0M631.4 141.8h0M635 141.8h0M638.5 141.8h0M642.1 141.8h0M645.6 141.8h0M649.1 141.8h0M652.7 141.8h0M656.2 141.8h0M659.8 141.8h0M663.3 141.8h0M666.9 141.8h0M670.4 141.8h0M674 141.8h0M677.5 141.8h0" stroke="#2222d8" stroke-width="2.9" stroke-linecap="round"/>
<text x="540" y="37.6" font-size="8.4" font-weight="bold">(V<tspan font-size="6" dy="1.8">G1</tspan><tspan dy="-1.8">, V</tspan><tspan font-size="6" dy="1.8">G2</tspan><tspan dy="-1.8">)</tspan></text>
<line x1="507" y1="45.8" x2="524.5" y2="45.8" stroke="#333" stroke-width="0.9"/>
<circle cx="515.8" cy="45.8" r="1.2" fill="#000"/>
<text x="527.3" y="48.8" font-size="8.4" font-weight="bold" text-anchor="start" fill="#000">AA (7 V, 7 V)</text>
<line x1="507" y1="56.1" x2="524.5" y2="56.1" stroke="#bbb" stroke-width="0.9"/>
<circle cx="515.8" cy="56.1" r="1.2" fill="#888"/>
<text x="527.3" y="59.1" font-size="8.4" font-weight="bold" text-anchor="start" fill="#000">DD (-7 V, -7 V)</text>
<line x1="507" y1="66.3" x2="524.5" y2="66.3" stroke="#f03030" stroke-width="0.9"/>
<circle cx="515.8" cy="66.3" r="1.2" fill="#e00000"/>
<text x="527.3" y="69.3" font-size="8.4" font-weight="bold" text-anchor="start" fill="#000">DA (-7 V, 7 V)</text>
<line x1="507" y1="76.6" x2="524.5" y2="76.6" stroke="#3030f0" stroke-width="0.9"/>
<circle cx="515.8" cy="76.6" r="1.2" fill="#0000d0"/>
<text x="527.3" y="79.6" font-size="8.4" font-weight="bold" text-anchor="start" fill="#000">AD (7 V, -7 V)</text>
<text x="673.3" y="47.6" font-size="9.2" font-weight="bold" text-anchor="end" fill="#000">AA</text>
<text x="656.6" y="138.3" font-size="9.2" font-weight="bold" text-anchor="end" fill="#1c1cdc">AD</text>
<text x="673.6" y="138.3" font-size="9.2" font-weight="bold" text-anchor="end" fill="#999">DD</text>
<text x="673.6" y="152.6" font-size="9.2" font-weight="bold" text-anchor="end" fill="#e81818">DA</text>
<rect x="8" y="232.3" width="142" height="86.8" fill="#cdd0e2"/><rect x="27.5" y="233.5" width="105" height="41" fill="#a6dcc2"/><g transform="translate(27.5 0)"><path d="M0 274.5h14.5v36h-14.5z" fill="url(#gr)"/><rect x="0" y="274.5" width="5" height="36" fill="url(#grb)"/><g fill="#c8c8d0" stroke="#1a1a1a" stroke-width="0.7"><circle cx="12.5" cy="306.9" r="2.5"/><circle cx="17.5" cy="309.4" r="2.5"/><circle cx="22.5" cy="306.9" r="2.5"/></g></g><g transform="translate(131.5 0) scale(-1 1)"><path d="M0 274.5h14.5v36h-14.5z" fill="url(#gr)"/><rect x="0" y="274.5" width="5" height="36" fill="url(#grb)"/><g fill="#c8c8d0" stroke="#1a1a1a" stroke-width="0.7"><circle cx="12.5" cy="306.9" r="2.5"/><circle cx="17.5" cy="309.4" r="2.5"/><circle cx="22.5" cy="306.9" r="2.5"/></g></g><rect x="40.5" y="274.5" width="77" height="28.8" fill="url(#pk)"/><circle cx="46.6" cy="280.3" r="3.35" fill="#f20c0c"/><rect x="44.9" y="279.8" width="3.4" height="1.1" fill="#fff"/><circle cx="55.9" cy="280.3" r="3.35" fill="#f20c0c"/><rect x="54.2" y="279.8" width="3.4" height="1.1" fill="#fff"/><circle cx="64.7" cy="280.3" r="3.35" fill="#f20c0c"/><rect x="63" y="279.8" width="3.4" height="1.1" fill="#fff"/><circle cx="73.4" cy="280.3" r="3.35" fill="#f20c0c"/><rect x="71.7" y="279.8" width="3.4" height="1.1" fill="#fff"/><circle cx="46.6" cy="289" r="3.35" fill="#f20c0c"/><rect x="44.9" y="288.4" width="3.4" height="1.1" fill="#fff"/><circle cx="55.9" cy="289" r="3.35" fill="#f20c0c"/><rect x="54.2" y="288.4" width="3.4" height="1.1" fill="#fff"/><circle cx="64.7" cy="289" r="3.35" fill="#f20c0c"/><rect x="63" y="288.4" width="3.4" height="1.1" fill="#fff"/><circle cx="73.4" cy="289" r="3.35" fill="#f20c0c"/><rect x="71.7" y="288.4" width="3.4" height="1.1" fill="#fff"/><circle cx="46.6" cy="297.8" r="3.35" fill="#f20c0c"/><rect x="44.9" y="297.2" width="3.4" height="1.1" fill="#fff"/><circle cx="55.9" cy="297.8" r="3.35" fill="#f20c0c"/><rect x="54.2" y="297.2" width="3.4" height="1.1" fill="#fff"/><circle cx="64.7" cy="297.8" r="3.35" fill="#f20c0c"/><rect x="63" y="297.2" width="3.4" height="1.1" fill="#fff"/><circle cx="73.4" cy="297.8" r="3.35" fill="#f20c0c"/><rect x="71.7" y="297.2" width="3.4" height="1.1" fill="#fff"/><circle cx="85.1" cy="280.3" r="3.35" fill="#f20c0c"/><rect x="83.4" y="279.8" width="3.4" height="1.1" fill="#fff"/><circle cx="94.4" cy="280.3" r="3.35" fill="#f20c0c"/><rect x="92.7" y="279.8" width="3.4" height="1.1" fill="#fff"/><circle cx="103.2" cy="280.3" r="3.35" fill="#f20c0c"/><rect x="101.5" y="279.8" width="3.4" height="1.1" fill="#fff"/><circle cx="111.4" cy="280.3" r="3.35" fill="#f20c0c"/><rect x="109.7" y="279.8" width="3.4" height="1.1" fill="#fff"/><circle cx="85.1" cy="289" r="3.35" fill="#f20c0c"/><rect x="83.4" y="288.4" width="3.4" height="1.1" fill="#fff"/><circle cx="94.4" cy="289" r="3.35" fill="#f20c0c"/><rect x="92.7" y="288.4" width="3.4" height="1.1" fill="#fff"/><circle cx="103.2" cy="289" r="3.35" fill="#f20c0c"/><rect x="101.5" y="288.4" width="3.4" height="1.1" fill="#fff"/><circle cx="111.4" cy="289" r="3.35" fill="#f20c0c"/><rect x="109.7" y="288.4" width="3.4" height="1.1" fill="#fff"/><circle cx="85.1" cy="297.8" r="3.35" fill="#f20c0c"/><rect x="83.4" y="297.2" width="3.4" height="1.1" fill="#fff"/><circle cx="94.4" cy="297.8" r="3.35" fill="#f20c0c"/><rect x="92.7" y="297.2" width="3.4" height="1.1" fill="#fff"/><circle cx="103.2" cy="297.8" r="3.35" fill="#f20c0c"/><rect x="101.5" y="297.2" width="3.4" height="1.1" fill="#fff"/><circle cx="111.4" cy="297.8" r="3.35" fill="#f20c0c"/><rect x="109.7" y="297.2" width="3.4" height="1.1" fill="#fff"/><rect x="3.5" y="248" width="21.3" height="70.3" fill="#feec00"/><rect x="24.8" y="248.5" width="2.9" height="69.8" fill="#c9b200"/><rect x="131.5" y="248.5" width="3.5" height="69.8" fill="#c9b200"/><rect x="135" y="248" width="20" height="70.3" fill="#feec00"/><rect x="29.8" y="249.2" width="44.7" height="24.9" fill="#feec00"/><rect x="84.5" y="249.2" width="45.8" height="24.9" fill="#feec00"/><path d="M30 241L37.9 254" stroke="#111" stroke-width="1.5"/><path d="M127.2 240.6L121 252.7" stroke="#111" stroke-width="1.5"/><circle cx="27.9" cy="238" r="4" fill="none" stroke="#111" stroke-width="1.4"/><circle cx="130.3" cy="237.6" r="4" fill="none" stroke="#111" stroke-width="1.4"/><text x="51.5" y="262.4" font-size="10.5" font-weight="bold" text-anchor="middle" fill="#000">G1</text><text x="107.5" y="262.4" font-size="10.5" font-weight="bold" text-anchor="middle" fill="#000">G2</text><text x="12.7" y="288.4" font-size="10.5" font-weight="bold" text-anchor="middle" fill="#000">S</text><text x="146" y="288.4" font-size="10.5" font-weight="bold" text-anchor="middle" fill="#000">D</text><text x="40.8" y="208.6" font-size="12" font-weight="bold" text-anchor="middle">V<tspan font-size="8.5" dy="2">G1</tspan></text><text x="40.8" y="224.4" font-size="12" font-weight="bold" text-anchor="middle" fill="#000">(7 V)</text><text x="123" y="208.6" font-size="12" font-weight="bold" text-anchor="middle">V<tspan font-size="8.5" dy="2">G2</tspan></text><text x="123" y="224.4" font-size="12" font-weight="bold" text-anchor="middle" fill="#000">(7 V)</text><text x="79" y="334.5" font-size="12" font-weight="bold" text-anchor="middle" fill="#000">AA mode</text><g opacity="0.88"><path d="M13.8 257.5C15.5 282 42 294.3 84 294.3C118 294.3 134 283 142 266" fill="none" stroke="#2a2608" stroke-width="4.1" stroke-linecap="round"/><path d="M146.5 257.5L151 272.5L143.2 266.8L136.8 270Z" fill="#2a2608"/></g>
<rect x="181.2" y="232.3" width="142" height="86.8" fill="#cdd0e2"/><rect x="200.7" y="233.5" width="105" height="41" fill="#a6dcc2"/><g transform="translate(200.7 0)"><path d="M0 274.5h14.5v36h-14.5z" fill="url(#gr)"/><rect x="0" y="274.5" width="5" height="36" fill="url(#grb)"/><g fill="#c8c8d0" stroke="#1a1a1a" stroke-width="0.7"><circle cx="12.5" cy="306.9" r="2.5"/><circle cx="17.5" cy="309.4" r="2.5"/><circle cx="22.5" cy="306.9" r="2.5"/></g></g><g transform="translate(304.7 0) scale(-1 1)"><path d="M0 274.5h14.5v36h-14.5z" fill="url(#gr)"/><rect x="0" y="274.5" width="5" height="36" fill="url(#grb)"/><g fill="#c8c8d0" stroke="#1a1a1a" stroke-width="0.7"><circle cx="12.5" cy="306.9" r="2.5"/><circle cx="17.5" cy="309.4" r="2.5"/><circle cx="22.5" cy="306.9" r="2.5"/></g></g><rect x="213.7" y="274.5" width="77" height="28.8" fill="url(#bl)"/><rect x="176.7" y="248" width="21.3" height="70.3" fill="#feec00"/><rect x="198" y="248.5" width="2.9" height="69.8" fill="#c9b200"/><rect x="304.7" y="248.5" width="3.5" height="69.8" fill="#c9b200"/><rect x="308.2" y="248" width="20" height="70.3" fill="#feec00"/><rect x="203" y="249.2" width="44.7" height="24.9" fill="#feec00"/><rect x="257.7" y="249.2" width="45.8" height="24.9" fill="#feec00"/><path d="M203.2 241L211.1 254" stroke="#111" stroke-width="1.5"/><path d="M300.4 240.6L294.2 252.7" stroke="#111" stroke-width="1.5"/><circle cx="201.1" cy="238" r="4" fill="none" stroke="#111" stroke-width="1.4"/><circle cx="303.5" cy="237.6" r="4" fill="none" stroke="#111" stroke-width="1.4"/><text x="224.7" y="262.4" font-size="10.5" font-weight="bold" text-anchor="middle" fill="#000">G1</text><text x="280.7" y="262.4" font-size="10.5" font-weight="bold" text-anchor="middle" fill="#000">G2</text><text x="185.9" y="288.4" font-size="10.5" font-weight="bold" text-anchor="middle" fill="#000">S</text><text x="319.2" y="288.4" font-size="10.5" font-weight="bold" text-anchor="middle" fill="#000">D</text><text x="214" y="208.6" font-size="12" font-weight="bold" text-anchor="middle">V<tspan font-size="8.5" dy="2">G1</tspan></text><text x="214" y="224.4" font-size="12" font-weight="bold" text-anchor="middle" fill="#000">(-7 V)</text><text x="296.2" y="208.6" font-size="12" font-weight="bold" text-anchor="middle">V<tspan font-size="8.5" dy="2">G2</tspan></text><text x="296.2" y="224.4" font-size="12" font-weight="bold" text-anchor="middle" fill="#000">(-7 V)</text><text x="252.2" y="334.5" font-size="12" font-weight="bold" text-anchor="middle" fill="#999">DD mode</text>
<rect x="354.9" y="232.3" width="142" height="86.8" fill="#cdd0e2"/><rect x="374.4" y="233.5" width="105" height="41" fill="#a6dcc2"/><g transform="translate(374.4 0)"><path d="M0 274.5h14.5v36h-14.5z" fill="url(#gr)"/><rect x="0" y="274.5" width="5" height="36" fill="url(#grb)"/><g fill="#c8c8d0" stroke="#1a1a1a" stroke-width="0.7"><circle cx="12.5" cy="306.9" r="2.5"/><circle cx="17.5" cy="309.4" r="2.5"/><circle cx="22.5" cy="306.9" r="2.5"/></g></g><g transform="translate(478.4 0) scale(-1 1)"><path d="M0 274.5h14.5v36h-14.5z" fill="url(#gr)"/><rect x="0" y="274.5" width="5" height="36" fill="url(#grb)"/><g fill="#c8c8d0" stroke="#1a1a1a" stroke-width="0.7"><circle cx="12.5" cy="306.9" r="2.5"/><circle cx="17.5" cy="309.4" r="2.5"/><circle cx="22.5" cy="306.9" r="2.5"/></g></g><rect x="387.4" y="274.5" width="39.5" height="28.8" fill="url(#bl)"/><rect x="426.9" y="274.5" width="37.5" height="28.8" fill="url(#pk)"/><circle cx="432" cy="280.3" r="3.35" fill="#f20c0c"/><rect x="430.3" y="279.8" width="3.4" height="1.1" fill="#fff"/><circle cx="441.3" cy="280.3" r="3.35" fill="#f20c0c"/><rect x="439.6" y="279.8" width="3.4" height="1.1" fill="#fff"/><circle cx="450.1" cy="280.3" r="3.35" fill="#f20c0c"/><rect x="448.4" y="279.8" width="3.4" height="1.1" fill="#fff"/><circle cx="458.3" cy="280.3" r="3.35" fill="#f20c0c"/><rect x="456.6" y="279.8" width="3.4" height="1.1" fill="#fff"/><circle cx="432" cy="289" r="3.35" fill="#f20c0c"/><rect x="430.3" y="288.4" width="3.4" height="1.1" fill="#fff"/><circle cx="441.3" cy="289" r="3.35" fill="#f20c0c"/><rect x="439.6" y="288.4" width="3.4" height="1.1" fill="#fff"/><circle cx="450.1" cy="289" r="3.35" fill="#f20c0c"/><rect x="448.4" y="288.4" width="3.4" height="1.1" fill="#fff"/><circle cx="458.3" cy="289" r="3.35" fill="#f20c0c"/><rect x="456.6" y="288.4" width="3.4" height="1.1" fill="#fff"/><circle cx="432" cy="297.8" r="3.35" fill="#f20c0c"/><rect x="430.3" y="297.2" width="3.4" height="1.1" fill="#fff"/><circle cx="441.3" cy="297.8" r="3.35" fill="#f20c0c"/><rect x="439.6" y="297.2" width="3.4" height="1.1" fill="#fff"/><circle cx="450.1" cy="297.8" r="3.35" fill="#f20c0c"/><rect x="448.4" y="297.2" width="3.4" height="1.1" fill="#fff"/><circle cx="458.3" cy="297.8" r="3.35" fill="#f20c0c"/><rect x="456.6" y="297.2" width="3.4" height="1.1" fill="#fff"/><rect x="350.4" y="248" width="21.3" height="70.3" fill="#feec00"/><rect x="371.7" y="248.5" width="2.9" height="69.8" fill="#c9b200"/><rect x="478.4" y="248.5" width="3.5" height="69.8" fill="#c9b200"/><rect x="481.9" y="248" width="20" height="70.3" fill="#feec00"/><rect x="376.7" y="249.2" width="44.7" height="24.9" fill="#feec00"/><rect x="431.4" y="249.2" width="45.8" height="24.9" fill="#feec00"/><path d="M376.9 241L384.8 254" stroke="#111" stroke-width="1.5"/><path d="M474.1 240.6L467.9 252.7" stroke="#111" stroke-width="1.5"/><circle cx="374.8" cy="238" r="4" fill="none" stroke="#111" stroke-width="1.4"/><circle cx="477.2" cy="237.6" r="4" fill="none" stroke="#111" stroke-width="1.4"/><text x="398.4" y="262.4" font-size="10.5" font-weight="bold" text-anchor="middle" fill="#000">G1</text><text x="454.4" y="262.4" font-size="10.5" font-weight="bold" text-anchor="middle" fill="#000">G2</text><text x="359.6" y="288.4" font-size="10.5" font-weight="bold" text-anchor="middle" fill="#000">S</text><text x="492.9" y="288.4" font-size="10.5" font-weight="bold" text-anchor="middle" fill="#000">D</text><text x="387.7" y="208.6" font-size="12" font-weight="bold" text-anchor="middle">V<tspan font-size="8.5" dy="2">G1</tspan></text><text x="387.7" y="224.4" font-size="12" font-weight="bold" text-anchor="middle" fill="#000">(-7 V)</text><text x="469.9" y="208.6" font-size="12" font-weight="bold" text-anchor="middle">V<tspan font-size="8.5" dy="2">G2</tspan></text><text x="469.9" y="224.4" font-size="12" font-weight="bold" text-anchor="middle" fill="#000">(7 V)</text><text x="425.9" y="334.5" font-size="12" font-weight="bold" text-anchor="middle" fill="#e81818">DA mode</text>
<rect x="528.5" y="232.3" width="142" height="86.8" fill="#cdd0e2"/><rect x="548" y="233.5" width="105" height="41" fill="#a6dcc2"/><g transform="translate(548 0)"><path d="M0 274.5h14.5v36h-14.5z" fill="url(#gr)"/><rect x="0" y="274.5" width="5" height="36" fill="url(#grb)"/><g fill="#c8c8d0" stroke="#1a1a1a" stroke-width="0.7"><circle cx="12.5" cy="306.9" r="2.5"/><circle cx="17.5" cy="309.4" r="2.5"/><circle cx="22.5" cy="306.9" r="2.5"/></g></g><g transform="translate(652 0) scale(-1 1)"><path d="M0 274.5h14.5v36h-14.5z" fill="url(#gr)"/><rect x="0" y="274.5" width="5" height="36" fill="url(#grb)"/><g fill="#c8c8d0" stroke="#1a1a1a" stroke-width="0.7"><circle cx="12.5" cy="306.9" r="2.5"/><circle cx="17.5" cy="309.4" r="2.5"/><circle cx="22.5" cy="306.9" r="2.5"/></g></g><rect x="561" y="274.5" width="39.5" height="28.8" fill="url(#pk)"/><rect x="600.5" y="274.5" width="37.5" height="28.8" fill="url(#bl)"/><circle cx="567.1" cy="280.3" r="3.35" fill="#f20c0c"/><rect x="565.4" y="279.8" width="3.4" height="1.1" fill="#fff"/><circle cx="576.4" cy="280.3" r="3.35" fill="#f20c0c"/><rect x="574.7" y="279.8" width="3.4" height="1.1" fill="#fff"/><circle cx="585.2" cy="280.3" r="3.35" fill="#f20c0c"/><rect x="583.5" y="279.8" width="3.4" height="1.1" fill="#fff"/><circle cx="593.9" cy="280.3" r="3.35" fill="#f20c0c"/><rect x="592.2" y="279.8" width="3.4" height="1.1" fill="#fff"/><circle cx="567.1" cy="289" r="3.35" fill="#f20c0c"/><rect x="565.4" y="288.4" width="3.4" height="1.1" fill="#fff"/><circle cx="576.4" cy="289" r="3.35" fill="#f20c0c"/><rect x="574.7" y="288.4" width="3.4" height="1.1" fill="#fff"/><circle cx="585.2" cy="289" r="3.35" fill="#f20c0c"/><rect x="583.5" y="288.4" width="3.4" height="1.1" fill="#fff"/><circle cx="593.9" cy="289" r="3.35" fill="#f20c0c"/><rect x="592.2" y="288.4" width="3.4" height="1.1" fill="#fff"/><circle cx="567.1" cy="297.8" r="3.35" fill="#f20c0c"/><rect x="565.4" y="297.2" width="3.4" height="1.1" fill="#fff"/><circle cx="576.4" cy="297.8" r="3.35" fill="#f20c0c"/><rect x="574.7" y="297.2" width="3.4" height="1.1" fill="#fff"/><circle cx="585.2" cy="297.8" r="3.35" fill="#f20c0c"/><rect x="583.5" y="297.2" width="3.4" height="1.1" fill="#fff"/><circle cx="593.9" cy="297.8" r="3.35" fill="#f20c0c"/><rect x="592.2" y="297.2" width="3.4" height="1.1" fill="#fff"/><rect x="524" y="248" width="21.3" height="70.3" fill="#feec00"/><rect x="545.3" y="248.5" width="2.9" height="69.8" fill="#c9b200"/><rect x="652" y="248.5" width="3.5" height="69.8" fill="#c9b200"/><rect x="655.5" y="248" width="20" height="70.3" fill="#feec00"/><rect x="550.3" y="249.2" width="44.7" height="24.9" fill="#feec00"/><rect x="605" y="249.2" width="45.8" height="24.9" fill="#feec00"/><path d="M550.5 241L558.4 254" stroke="#111" stroke-width="1.5"/><path d="M647.7 240.6L641.5 252.7" stroke="#111" stroke-width="1.5"/><circle cx="548.4" cy="238" r="4" fill="none" stroke="#111" stroke-width="1.4"/><circle cx="650.8" cy="237.6" r="4" fill="none" stroke="#111" stroke-width="1.4"/><text x="572" y="262.4" font-size="10.5" font-weight="bold" text-anchor="middle" fill="#000">G1</text><text x="628" y="262.4" font-size="10.5" font-weight="bold" text-anchor="middle" fill="#000">G2</text><text x="533.2" y="288.4" font-size="10.5" font-weight="bold" text-anchor="middle" fill="#000">S</text><text x="666.5" y="288.4" font-size="10.5" font-weight="bold" text-anchor="middle" fill="#000">D</text><text x="561.3" y="208.6" font-size="12" font-weight="bold" text-anchor="middle">V<tspan font-size="8.5" dy="2">G1</tspan></text><text x="561.3" y="224.4" font-size="12" font-weight="bold" text-anchor="middle" fill="#000">(7 V)</text><text x="643.5" y="208.6" font-size="12" font-weight="bold" text-anchor="middle">V<tspan font-size="8.5" dy="2">G2</tspan></text><text x="643.5" y="224.4" font-size="12" font-weight="bold" text-anchor="middle" fill="#000">(-7 V)</text><text x="599.5" y="334.5" font-size="12" font-weight="bold" text-anchor="middle" fill="#1c1cd0">AD mode</text>
<path d="M4.2 320.6L14.9 364.9M154 318.8L200 364.9" stroke="#333" stroke-width="1.2" stroke-dasharray="4,3"/><rect x="19" y="366.8" width="178" height="109.2" fill="#cdd0e2"/><rect x="43.4" y="370.3" width="130.3" height="50" fill="#a6dcc2" rx="3"/><rect x="43.4" y="420.5" width="4.8" height="50" fill="#c9b46c"/><path d="M43.6 423h3M43.6 428h3M43.6 433h3M43.6 438h3M43.6 443h3M43.6 448h3M43.6 453h3M43.6 458h3M43.6 463h3M43.6 468h3" stroke="#222" stroke-width="1.1"/><rect x="169.7" y="420.5" width="4" height="50" fill="#c9b46c"/><path d="M170.7 423h3M170.7 428h3M170.7 433h3M170.7 438h3M170.7 443h3M170.7 448h3M170.7 453h3M170.7 458h3M170.7 463h3M170.7 468h3" stroke="#222" stroke-width="1.1"/><path d="M63.5 460.6L61 462.1L58.5 460.6L58.5 457.8L61 456.3L63.5 457.8ZM68.5 463.6L66 465L63.5 463.6L63.5 460.7L66 459.2L68.5 460.7ZM73.5 460.6L71 462.1L68.5 460.6L68.5 457.8L71 456.3L73.5 457.8ZM78.5 463.6L76 465L73.5 463.6L73.5 460.7L76 459.2L78.5 460.7ZM140.5 463.6L138 465L135.5 463.6L135.5 460.7L138 459.2L140.5 460.7ZM145.5 460.6L143 462.1L140.5 460.6L140.5 457.8L143 456.3L145.5 457.8ZM150.5 463.6L148 465L145.5 463.6L145.5 460.7L148 459.2L150.5 460.7ZM155.5 460.6L153 462.1L150.5 460.6L150.5 457.8L153 456.3L155.5 457.8Z" fill="none" stroke="#333" stroke-width="0.9"/><rect x="48.2" y="420.5" width="61.3" height="35.7" fill="url(#pk2)" stroke="#e52020" stroke-width="1.1"/><rect x="109.5" y="420.5" width="61" height="35.7" fill="url(#bl2)" stroke="#2424e0" stroke-width="1.1"/><rect x="13.5" y="386.6" width="25.8" height="88.1" fill="#feec00"/><rect x="39.3" y="387" width="4.1" height="87.7" fill="#c9b200"/><rect x="173.7" y="387" width="4.9" height="87.7" fill="#c9b200"/><rect x="178.6" y="386.6" width="24.4" height="88.1" fill="#feec00"/><rect x="47.4" y="388" width="55" height="31.1" fill="#feec00"/><rect x="114.1" y="388" width="55.8" height="31.1" fill="#feec00"/><text x="74.9" y="404.8" font-size="13" font-weight="bold" text-anchor="middle" fill="#000">G1</text><text x="142.3" y="404.8" font-size="13" font-weight="bold" text-anchor="middle" fill="#000">G2</text><text x="25.2" y="437.5" font-size="13" font-weight="bold" text-anchor="middle" fill="#000">S</text><text x="191.2" y="437.5" font-size="13" font-weight="bold" text-anchor="middle" fill="#000">D</text><text x="78.8" y="443" font-size="11.5" font-weight="bold" text-anchor="middle" fill="#fff">Region1</text><text x="139.6" y="443" font-size="11.5" font-weight="bold" text-anchor="middle" fill="#fff">Region2</text><text x="56.6" y="468.6" font-size="13" font-weight="bold" text-anchor="middle" fill="#fff">Gr</text><text x="158.4" y="468.6" font-size="13" font-weight="bold" text-anchor="middle" fill="#fff">Gr</text><text x="94" y="469.5" font-size="11.5" font-weight="bold" fill="#fafbff">MoS<tspan font-size="8" dy="2.5">2</tspan></text>
<rect x="225.8" y="347.8" width="451.2" height="129.4" fill="none" stroke="#444" stroke-width="1"/>
<path d="M265.2 450.9H295V426H336.7V450.9H366.4V426H408.1V450.9H438.7" stroke="#111" stroke-width="2.2" fill="none"/>
<path d="M265.2 437.7V464M258.8 443V459M253.5 448V455" stroke="#111" stroke-width="2.2" fill="none"/>
<path d="M296.7 418.8H335.2M368.2 418.8H406.6M314.8 397.4V418.8M386.8 397V418.8" stroke="#111" stroke-width="2.2" fill="none"/>
<circle cx="314.8" cy="393.4" r="4.1" fill="#fff" stroke="#111" stroke-width="1.8"/>
<circle cx="386.8" cy="393" r="4.1" fill="#fff" stroke="#111" stroke-width="1.8"/>
<circle cx="442.2" cy="450.8" r="4.1" fill="#fff" stroke="#111" stroke-width="1.8"/>
<text x="280" y="394.7" font-size="15.5" font-weight="bold">V<tspan font-size="9.6" dy="3.3">G1</tspan></text>
<text x="394.6" y="394.7" font-size="15.5" font-weight="bold">V<tspan font-size="9.6" dy="3.3">G2</tspan></text>
<text x="428.6" y="436.2" font-size="15.5" font-weight="bold">V<tspan font-size="9.6" dy="3.3">D</tspan></text>
<path d="M547.7 450.8H579.2V424.5H622.9V450.8H654" stroke="#111" stroke-width="2.2" fill="none"/>
<path d="M547.7 436.2V465.4M541.9 441V460M536 447V455" stroke="#111" stroke-width="2.2" fill="none"/>
<path d="M578.3 417.8H598.7M603 417.8H623.5M588.5 399.4V417.8M613.3 399.4V417.8" stroke="#111" stroke-width="2.2" fill="none"/>
<circle cx="588.5" cy="395.4" r="4.1" fill="#fff" stroke="#111" stroke-width="1.8"/>
<circle cx="613.3" cy="395.4" r="4.1" fill="#fff" stroke="#111" stroke-width="1.8"/>
<circle cx="657.9" cy="450.8" r="4.1" fill="#fff" stroke="#111" stroke-width="1.8"/>
<text x="552.3" y="394.7" font-size="15.5" font-weight="bold">V<tspan font-size="9.6" dy="3.3">G1</tspan></text>
<text x="623.6" y="394.7" font-size="15.5" font-weight="bold">V<tspan font-size="9.6" dy="3.3">G2</tspan></text>
<text x="645.6" y="436.2" font-size="15.5" font-weight="bold">V<tspan font-size="9.6" dy="3.3">D</tspan></text>
<path d="M492.3 386.3L474 407V430.5L492.3 411Z" fill="#8c8c8c"/>
<path d="M492.3 386.3L511.6 407V430.5L492.3 411Z" fill="#7b7b7b"/>
<path d="M492.3 386.3V411" stroke="#a8a8a8" stroke-width="1.4"/>
<path d="M510.2 406V429.5" stroke="#5a5a5a" stroke-width="1"/>
<path d="M477.6 420Q490.5 442 505 425.5" fill="none" stroke="#f01010" stroke-width="3" stroke-linecap="round"/>
<path d="M510.2 418.3L509.6 429L501.8 425Z" fill="#f01010"/>
<text x="493.5" y="450.9" font-size="15.8" font-weight="bold" text-anchor="middle" fill="#ee1111">Folding</text>
</svg>
</body></html>
